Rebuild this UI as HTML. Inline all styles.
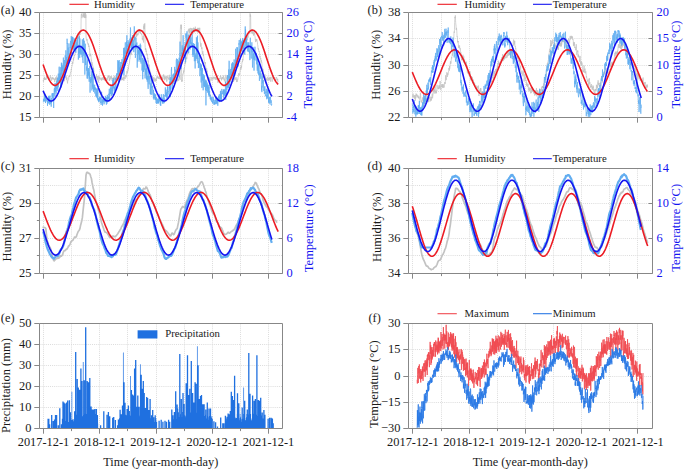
<!DOCTYPE html>
<html><head><meta charset="utf-8"><style>
html,body{margin:0;padding:0;background:#fff;}
body{width:685px;height:470px;overflow:hidden;}
svg{display:block;}
text{font-family:"Liberation Serif", serif;}
</style></head><body>
<svg width="685" height="470" viewBox="0 0 685 470">
<rect width="685" height="470" fill="#fff"/>
<path d="M43.5,12.5V117.5M71.5,12.5V117.5M99.5,12.5V117.5M127.5,12.5V117.5M156.5,12.5V117.5M184.5,12.5V117.5M212.5,12.5V117.5M240.5,12.5V117.5M268.5,12.5V117.5M39.5,33.5H282.5M39.5,54.5H282.5M39.5,75.5H282.5M39.5,96.5H282.5" stroke="#d8d8d8" stroke-width="0.9" stroke-dasharray="1 1.1" fill="none"/>
<polyline points="43.2,80.1 43.35,81.2 43.51,81.69 43.66,79.76 43.82,78.87 43.97,78.05 44.12,78.96 44.28,78.7 44.43,79.58 44.59,76.78 44.74,79.47 44.9,78.96 45.05,79.65 45.2,79.01 45.36,78.32 45.51,78.99 45.67,79.85 45.82,79.05 45.97,78.63 46.13,79.46 46.28,77.96 46.44,76.24 46.59,77.65 46.74,77.13 46.9,75.22 47.05,75.49 47.21,76.1 47.36,75.53 47.52,74.81 47.67,76.33 47.82,78.35 47.98,78.11 48.13,77.31 48.29,78.28 48.44,79.29 48.59,78.59 48.75,79.25 48.9,80.28 49.06,79.31 49.21,77.94 49.36,78.61 49.52,78.88 49.67,80.14 49.83,77.84 49.98,77.26 50.13,76.68 50.29,75.19 50.44,76.68 50.6,78.08 50.75,77.3 50.91,79.56 51.06,80.19 51.21,80.31 51.37,80.1 51.52,80.68 51.68,78.11 51.83,79.05 51.98,79.6 52.14,76.9 52.29,77.98 52.45,77.87 52.6,79.12 52.75,78.31 52.91,78.36 53.06,78.86 53.22,77.59 53.37,78.72 53.53,78.5 53.68,79.13 53.83,78.21 53.99,79.72 54.14,80 54.3,79.17 54.45,79.71 54.6,80.84 54.76,82.2 54.91,78.7 55.07,79.75 55.22,79.85 55.37,79.19 55.53,77.62 55.68,79.58 55.84,77.54 55.99,78.65 56.15,80.25 56.3,77.51 56.45,77.52 56.61,76.23 56.76,77.45 56.92,79.81 57.07,81.88 57.22,78.25 57.38,77.61 57.53,78.87 57.69,80.74 57.84,80.38 57.99,78.68 58.15,78.99 58.3,78.77 58.46,78.4 58.61,77.5 58.77,78.4 58.92,78.83 59.07,78.58 59.23,78.26 59.38,76.71 59.54,76.81 59.69,79.03 59.84,78.57 60,76.7 60.15,79.13 60.31,79.56 60.46,81.83 60.61,80.58 60.77,79.16 60.92,77.04 61.08,79.32 61.23,82.28 61.38,79.72 61.54,78.4 61.69,79.2 61.85,77.86 62,77.77 62.16,77.61 62.31,78.21 62.46,79.73 62.62,79.27 62.77,80.14 62.93,78.94 63.08,79.19 63.23,76.17 63.39,75.25 63.54,77.57 63.7,77.19 63.85,78.45 64,79.17 64.16,80.59 64.31,80.79 64.47,81.18 64.62,79.96 64.78,78.48 64.93,77.55 65.08,77.31 65.24,76.34 65.39,76.5 65.55,77.18 65.7,78.03 65.85,77.79 66.01,75.61 66.16,76.67 66.32,77.69 66.47,79.4 66.62,79.78 66.78,78.45 66.93,77.54 67.09,80.5 67.24,80.67 67.4,82.14 67.55,83.41 67.7,80.4 67.86,80.13 68.01,80.07 68.17,80.16 68.32,80.19 68.47,79.74 68.63,79.3 68.78,76.76 68.94,76.8 69.09,75.94 69.24,76.37 69.4,75.7 69.55,76.5 69.71,77.04 69.86,76.51 70.02,75.99 70.17,75.18 70.32,73.77 70.48,73.05 70.63,71.96 70.79,72.19 70.94,71.59 71.09,71.71 71.25,69.07 71.4,70.05 71.56,68.26 71.71,66.94 71.86,66.56 72.02,65.58 72.17,65.8 72.33,64.54 72.48,62.85 72.63,61.83 72.79,63.69 72.94,62.88 73.1,60.55 73.25,60.36 73.41,57.94 73.56,60.47 73.71,57.44 73.87,57.89 74.02,57.94 74.18,55.12 74.33,55.37 74.48,56.12 74.64,55.59 74.79,54.71 74.95,54.77 75.1,53.51 75.25,52.69 75.41,51.31 75.56,51.18 75.72,48.8 75.87,49.32 76.03,47.69 76.18,45.7 76.33,46.1 76.49,47.77 76.64,47.59 76.8,45.33 76.95,45.28 77.1,43.53 77.26,42.66 77.41,42.18 77.57,38.59 77.72,39.42 77.87,38.13 78.03,37.58 78.18,36.05 78.34,34.87 78.49,34.71 78.65,36.69 78.8,38.78 78.95,37.69 79.11,38.3 79.26,36.78 79.42,33.6 79.57,34.19 79.72,34.78 79.88,33.89 80.03,34.17 80.19,34.57 80.34,32.87 80.49,30.96 80.65,31.34 80.8,31.49 80.96,31.33 81.11,18.24 81.27,14.58 81.42,15.39 81.57,13.63 81.73,15.15 81.88,18.17 82.04,16.58 82.19,15.87 82.34,15.82 82.5,16.41 82.65,16.26 82.81,15.32 82.96,15.67 83.11,13.21 83.27,15.26 83.42,16.65 83.58,13.94 83.73,14.26 83.88,17.43 84.04,13.42 84.19,13.77 84.35,17.51 84.5,13.33 84.66,14.4 84.81,18.06 84.96,15.08 85.12,17.5 85.27,17.19 85.43,12.72 85.58,13.92 85.73,18.07 85.89,14.53 86.04,37.55 86.2,37.44 86.35,39.35 86.5,39.39 86.66,39.8 86.81,40.59 86.97,39.23 87.12,39.1 87.28,42.11 87.43,42.63 87.58,42.4 87.74,43.3 87.89,43.05 88.05,44.13 88.2,43.83 88.35,45.12 88.51,43.79 88.66,46.99 88.82,46.83 88.97,45.65 89.12,46.96 89.28,47.84 89.43,49.33 89.59,48.85 89.74,50.84 89.9,56.45 90.05,53.84 90.2,54.64 90.36,54.59 90.51,55.5 90.67,53.79 90.82,53.9 90.97,56.34 91.13,57.46 91.28,60.57 91.44,59.75 91.59,60.68 91.74,65.04 91.9,63.24 92.05,62.28 92.21,63.1 92.36,63.87 92.52,65.76 92.67,66.26 92.82,65.71 92.98,66.89 93.13,70.98 93.29,71.95 93.44,67.6 93.59,68.64 93.75,68.57 93.9,70.69 94.06,71.19 94.21,74.41 94.36,75.29 94.52,75.99 94.67,75.72 94.83,75.46 94.98,75.99 95.13,77.72 95.29,77.95 95.44,77.12 95.6,78.86 95.75,78.65 95.91,78.3 96.06,77.28 96.21,77.04 96.37,76.87 96.52,74.02 96.68,77.14 96.83,78.41 96.98,78.17 97.14,79.64 97.29,79.75 97.45,79.72 97.6,76.07 97.75,76.74 97.91,78.13 98.06,80.34 98.22,81.96 98.37,82.4 98.53,79.35 98.68,76.2 98.83,77.85 98.99,78.14 99.14,79.52 99.3,78.95 99.45,79.05 99.6,76.91 99.76,78.12 99.91,77.7 100.07,78.47 100.22,79.07 100.37,78.69 100.53,79.02 100.68,78.79 100.84,79.65 100.99,79.83 101.15,78.6 101.3,77.81 101.45,80.32 101.61,79.46 101.76,80.35 101.92,80.11 102.07,78.74 102.22,77.69 102.38,78.17 102.53,78.63 102.69,79.36 102.84,77.4 102.99,77.08 103.15,77.52 103.3,79.96 103.46,76.36 103.61,77.78 103.77,77.37 103.92,78.38 104.07,77.8 104.23,78.54 104.38,80.53 104.54,80.17 104.69,80.06 104.84,79.91 105,78.39 105.15,79.13 105.31,78.61 105.46,77.53 105.61,77.87 105.77,77.83 105.92,79.06 106.08,78.78 106.23,77.99 106.38,80.06 106.54,80.7 106.69,81.45 106.85,81.05 107,79.89 107.16,78.8 107.31,78.32 107.46,79.6 107.62,79.31 107.77,77.09 107.93,77.6 108.08,76.15 108.23,77.3 108.39,76.24 108.54,75.53 108.7,76.87 108.85,77.42 109,75.73 109.16,77.79 109.31,80.84 109.47,78.01 109.62,80.54 109.78,78.84 109.93,78.07 110.08,78.01 110.24,76.36 110.39,78.88 110.55,79.36 110.7,78.05 110.85,77.88 111.01,76.19 111.16,76.67 111.32,78.6 111.47,76.36 111.62,76.66 111.78,77.58 111.93,79.29 112.09,80.7 112.24,79.24 112.4,77.99 112.55,78.77 112.7,78.2 112.86,77.92 113.01,79.54 113.17,81.28 113.32,80.51 113.47,79.46 113.63,79.81 113.78,76.87 113.94,77.5 114.09,76.54 114.24,80.38 114.4,80.55 114.55,79.91 114.71,79.1 114.86,75.64 115.02,77.7 115.17,80.1 115.32,78.53 115.48,79.39 115.63,79.96 115.79,77.39 115.94,79.03 116.09,80.55 116.25,80.03 116.4,79.33 116.56,80.01 116.71,77.43 116.86,77.98 117.02,79.54 117.17,77.53 117.33,79.19 117.48,78.38 117.63,75.76 117.79,76.72 117.94,76.19 118.1,77.52 118.25,76.41 118.41,78.59 118.56,77.61 118.71,78.42 118.87,77.69 119.02,77.6 119.18,79.49 119.33,79.37 119.48,78.51 119.64,76.91 119.79,79.03 119.95,79.76 120.1,78.84 120.25,79.01 120.41,77.49 120.56,76.59 120.72,76.3 120.87,77.63 121.03,78.36 121.18,77.46 121.33,78.82 121.49,79.7 121.64,79.44 121.8,80.39 121.95,79.27 122.1,78.82 122.26,79.29 122.41,78.93 122.57,79.78 122.72,77.66 122.87,79.82 123.03,78.29 123.18,78.17 123.34,76.54 123.49,78.09 123.65,79.88 123.8,80.7 123.95,80.89 124.11,77.94 124.26,77.16 124.42,77.11 124.57,76.47 124.72,78.72 124.88,78.83 125.03,78.49 125.19,78.82 125.34,77.03 125.49,75.86 125.65,75.03 125.8,76.12 125.96,76.4 126.11,76.67 126.27,77.27 126.42,74.3 126.57,73.32 126.73,73.41 126.88,71.31 127.04,70.86 127.19,72.32 127.34,73.06 127.5,73.21 127.65,71.72 127.81,70.23 127.96,70.71 128.11,68.87 128.27,68.4 128.42,69.09 128.58,67.06 128.73,65.23 128.88,64.62 129.04,64.74 129.19,64.36 129.35,63.42 129.5,63.07 129.66,59.8 129.81,58.49 129.96,58.71 130.12,57.14 130.27,55.37 130.43,54.18 130.58,53.54 130.73,53.8 130.89,52.58 131.04,53.16 131.2,55.08 131.35,53.58 131.5,54.21 131.66,53.04 131.81,50.25 131.97,49.39 132.12,47.67 132.28,48.6 132.43,46.42 132.58,48.02 132.74,47.75 132.89,44.01 133.05,45.09 133.2,46.47 133.35,44.05 133.51,44.63 133.66,41.17 133.82,41.49 133.97,39 134.12,40.03 134.28,37.53 134.43,34.73 134.59,36.73 134.74,40.15 134.9,38.31 135.05,38.85 135.2,38.08 135.36,36.89 135.51,37.21 135.67,38.55 135.82,35.53 135.97,35.87 136.13,35.66 136.28,33.14 136.44,35.4 136.59,37.07 136.74,34.25 136.9,35.9 137.05,34.65 137.21,33.54 137.36,34.93 137.52,34.07 137.67,33.61 137.82,34.82 137.98,35.21 138.13,34.9 138.29,31.76 138.44,29.64 138.59,31.81 138.75,30.48 138.9,31.07 139.06,29.88 139.21,30.33 139.36,29.23 139.52,32.34 139.67,30.86 139.83,31.18 139.98,31.35 140.13,33.31 140.29,31.21 140.44,31.82 140.6,32.05 140.75,33.24 140.91,34 141.06,33.38 141.21,34.03 141.37,33.78 141.52,34.85 141.68,34.91 141.83,34.4 141.98,35.06 142.14,36.13 142.29,39.39 142.45,38 142.6,38.38 142.75,40.28 142.91,37.1 143.06,35.83 143.22,35.99 143.37,37.69 143.53,42.21 143.68,42.53 143.83,25.72 143.99,28.91 144.14,23.96 144.3,29.13 144.45,27.18 144.6,27.07 144.76,23.31 144.91,27.08 145.07,44.71 145.22,47.58 145.37,49.98 145.53,48.87 145.68,48.05 145.84,50.35 145.99,49.54 146.15,51.85 146.3,50.9 146.45,53.19 146.61,53.94 146.76,54.02 146.92,53.78 147.07,55.38 147.22,53.92 147.38,55.41 147.53,56.45 147.69,58.76 147.84,57.96 147.99,61.58 148.15,61.46 148.3,60.62 148.46,63.65 148.61,66.1 148.77,65.5 148.92,64.52 149.07,65.38 149.23,65.27 149.38,65.97 149.54,69.05 149.69,69.67 149.84,69.99 150,70.7 150.15,70.86 150.31,72.35 150.46,73.54 150.61,72.88 150.77,73.32 150.92,76.76 151.08,76.49 151.23,75.75 151.38,78.36 151.54,77.5 151.69,75.74 151.85,77.11 152,76.07 152.16,76.09 152.31,77.28 152.46,77.52 152.62,76.94 152.77,76.91 152.93,76.87 153.08,79.03 153.23,77.9 153.39,77.41 153.54,80.45 153.7,78.96 153.85,80.68 154,81.49 154.16,80.1 154.31,77.64 154.47,78.57 154.62,79.4 154.78,80.28 154.93,79.66 155.08,80.74 155.24,81.62 155.39,79.02 155.55,80.64 155.7,80.01 155.85,78.68 156.01,78.2 156.16,80.72 156.32,81.09 156.47,77.77 156.62,78.17 156.78,78.12 156.93,78.05 157.09,77.57 157.24,76.08 157.4,78.15 157.55,77.09 157.7,77.18 157.86,76.94 158.01,76.63 158.17,78.33 158.32,78.89 158.47,77.87 158.63,76.91 158.78,76.95 158.94,78.81 159.09,78.84 159.24,79.01 159.4,78.38 159.55,78.1 159.71,78.54 159.86,76.16 160.02,79.16 160.17,77.89 160.32,77.41 160.48,79.56 160.63,79.42 160.79,79.11 160.94,78.12 161.09,76.27 161.25,77.4 161.4,79.37 161.56,77.87 161.71,79.87 161.86,77.88 162.02,77.19 162.17,78.36 162.33,78.42 162.48,79.33 162.63,78.05 162.79,76.91 162.94,75.16 163.1,74.95 163.25,74.99 163.41,74.57 163.56,76.54 163.71,76.47 163.87,74.74 164.02,79.42 164.18,77.98 164.33,76.58 164.48,78.94 164.64,80.25 164.79,78.08 164.95,76.36 165.1,75.94 165.25,78.41 165.41,78.05 165.56,77.19 165.72,77.68 165.87,79.55 166.03,77.35 166.18,77.32 166.33,76.02 166.49,79.79 166.64,81.6 166.8,81.58 166.95,80.18 167.1,80.35 167.26,76.92 167.41,77.91 167.57,76.43 167.72,75.56 167.87,75.84 168.03,76.45 168.18,78.01 168.34,79.1 168.49,79.2 168.65,77.71 168.8,78.89 168.95,78.58 169.11,80.06 169.26,78.26 169.42,74.82 169.57,75.68 169.72,79.56 169.88,79.74 170.03,78.99 170.19,79.93 170.34,80 170.49,79.99 170.65,78.74 170.8,78.74 170.96,78.9 171.11,77.92 171.27,76.72 171.42,77.61 171.57,79.21 171.73,79.75 171.88,79.88 172.04,79.98 172.19,82.69 172.34,81.35 172.5,81.54 172.65,82.83 172.81,81.17 172.96,80.44 173.11,81 173.27,82.16 173.42,81.1 173.58,80.52 173.73,79.83 173.88,77.75 174.04,79.48 174.19,78.77 174.35,76.46 174.5,77.09 174.66,75.44 174.81,75.38 174.96,76.66 175.12,76.22 175.27,78.51 175.43,76.63 175.58,77.72 175.73,78.76 175.89,80.53 176.04,80.91 176.2,80.25 176.35,79.67 176.5,79.14 176.66,80.35 176.81,78.78 176.97,79.35 177.12,78.9 177.28,79.06 177.43,78.51 177.58,81.25 177.74,79.32 177.89,79.33 178.05,79.37 178.2,79.81 178.35,79.88 178.51,79.89 178.66,80.6 178.82,77.85 178.97,78.14 179.12,76.72 179.28,77.74 179.43,76.55 179.59,76.12 179.74,77.01 179.9,79.41 180.05,79.8 180.2,79.68 180.36,29.33 180.51,26.76 180.67,24.84 180.82,25.19 180.97,24.87 181.13,26.89 181.28,29.3 181.44,24.75 181.59,81.39 181.74,81.81 181.9,80.98 182.05,79.71 182.21,81.41 182.36,79.25 182.52,77.05 182.67,76.3 182.82,73.72 182.98,74.3 183.13,73.68 183.29,73.64 183.44,73.41 183.59,71.21 183.75,72.68 183.9,70.32 184.06,71.07 184.21,68.08 184.36,68.53 184.52,67 184.67,66.91 184.83,65.68 184.98,62.7 185.13,61.98 185.29,62.78 185.44,63.68 185.6,61.24 185.75,58.64 185.91,58.39 186.06,58.78 186.21,58.18 186.37,57.29 186.52,58.58 186.68,59.2 186.83,58.99 186.98,56.41 187.14,55.86 187.29,54.89 187.45,52.43 187.6,53.61 187.75,53.02 187.91,51.63 188.06,29.93 188.22,29.9 188.37,29.89 188.53,30.66 188.68,30.71 188.83,28.72 188.99,32.27 189.14,30.6 189.3,29.61 189.45,33.28 189.6,31.74 189.76,28.48 189.91,33.31 190.07,30.97 190.22,29.54 190.37,28.92 190.53,27.91 190.68,28.96 190.84,29.23 190.99,29.56 191.15,33.43 191.3,31.05 191.45,28.65 191.61,29.72 191.76,30.09 191.92,28 192.07,30.31 192.22,30.55 192.38,31.4 192.53,30.1 192.69,31.63 192.84,31.58 192.99,28.55 193.15,30.9 193.3,30.19 193.46,28.48 193.61,27.64 193.77,31.8 193.92,28.04 194.07,32.53 194.23,29.7 194.38,27.99 194.54,28.5 194.69,30.66 194.84,29.93 195,32.04 195.15,29.24 195.31,26.7 195.46,27.84 195.61,28.93 195.77,28.53 195.92,30.73 196.08,30.99 196.23,29.9 196.38,29.71 196.54,30.98 196.69,31.73 196.85,30.32 197,30.87 197.16,32.1 197.31,31.29 197.46,27.93 197.62,27.86 197.77,29.14 197.93,32.41 198.08,28.83 198.23,29.41 198.39,32.44 198.54,28.27 198.7,29.18 198.85,29.04 199,27.78 199.16,31.96 199.31,29.42 199.47,29.95 199.62,29.5 199.78,27.89 199.93,32.57 200.08,40.52 200.24,41.44 200.39,43.03 200.55,43.09 200.7,46.61 200.85,44.61 201.01,43.24 201.16,44.78 201.32,47.45 201.47,47.43 201.62,49.1 201.78,48.37 201.93,47.37 202.09,50.37 202.24,52.68 202.4,54.31 202.55,53.05 202.7,51.68 202.86,51.13 203.01,52.31 203.17,54.35 203.32,55.78 203.47,54.45 203.63,56.04 203.78,57.07 203.94,58.08 204.09,58.84 204.24,59.37 204.4,61 204.55,61.68 204.71,62.51 204.86,62.13 205.02,63.58 205.17,64.08 205.32,62.11 205.48,64.54 205.63,65.32 205.79,67.59 205.94,67.82 206.09,68.32 206.25,69.27 206.4,69.82 206.56,69.84 206.71,68.37 206.86,72.39 207.02,70.65 207.17,71.42 207.33,73.37 207.48,74.4 207.63,75.47 207.79,76.56 207.94,78.02 208.1,77.84 208.25,81.23 208.41,78.4 208.56,78.42 208.71,77.81 208.87,77.3 209.02,78.15 209.18,80.22 209.33,78.7 209.48,77.73 209.64,78.96 209.79,79.48 209.95,81.59 210.1,81.67 210.25,80.7 210.41,79.4 210.56,79.31 210.72,78.76 210.87,76.91 211.03,77.56 211.18,77.71 211.33,77.73 211.49,77.49 211.64,80.06 211.8,80.32 211.95,80.79 212.1,79.1 212.26,77.55 212.41,77.57 212.57,78.25 212.72,77.91 212.87,77.91 213.03,79.37 213.18,79.41 213.34,77.78 213.49,77.52 213.65,77.07 213.8,77.87 213.95,76.63 214.11,77.15 214.26,78.58 214.42,78.58 214.57,77.38 214.72,77.04 214.88,77.78 215.03,78.69 215.19,79.68 215.34,79.02 215.49,77.13 215.65,79.5 215.8,79.48 215.96,79.61 216.11,79.56 216.27,77.81 216.42,77.67 216.57,78.33 216.73,79.72 216.88,79.31 217.04,74.99 217.19,76.09 217.34,77.5 217.5,79.56 217.65,80.05 217.81,82.61 217.96,82.79 218.11,82.8 218.27,82.29 218.42,79 218.58,79.89 218.73,80.1 218.88,78.79 219.04,79.42 219.19,79.59 219.35,78.56 219.5,78.38 219.66,78.09 219.81,78.55 219.96,77.99 220.12,78.89 220.27,76.28 220.43,76.81 220.58,75.33 220.73,75.98 220.89,77.65 221.04,78.02 221.2,78.07 221.35,78.33 221.5,80.41 221.66,78.23 221.81,79.47 221.97,77.15 222.12,77.09 222.28,77.86 222.43,77.03 222.58,77.88 222.74,79.06 222.89,77.31 223.05,77.69 223.2,77.53 223.35,75.43 223.51,76.42 223.66,76.23 223.82,78.85 223.97,77.59 224.12,80.13 224.28,78.8 224.43,81.16 224.59,80.79 224.74,80.45 224.9,80.7 225.05,80.98 225.2,81.78 225.36,82.69 225.51,80.57 225.67,78.14 225.82,74.86 225.97,75.82 226.13,77.87 226.28,78.6 226.44,78.71 226.59,78.18 226.74,77.49 226.9,77.53 227.05,78.42 227.21,76.19 227.36,78.05 227.52,76.36 227.67,77.01 227.82,76.8 227.98,77 228.13,76.26 228.29,75.68 228.44,76.51 228.59,75.91 228.75,80.09 228.9,78.92 229.06,77.9 229.21,77.43 229.36,76.48 229.52,74.13 229.67,75.54 229.83,77.12 229.98,75.74 230.13,76.84 230.29,75.95 230.44,76.91 230.6,78 230.75,78.81 230.91,79.23 231.06,78.03 231.21,79.33 231.37,78.42 231.52,78.89 231.68,79.62 231.83,78.77 231.98,77.01 232.14,78.38 232.29,76.99 232.45,76.44 232.6,75.84 232.75,77.97 232.91,77.96 233.06,75.29 233.22,77.5 233.37,80.54 233.53,82.02 233.68,79.87 233.83,79.41 233.99,79.69 234.14,80.34 234.3,79.64 234.45,77.77 234.6,79.01 234.76,79.58 234.91,77.43 235.07,77.38 235.22,78.16 235.37,78.28 235.53,79.02 235.68,79.82 235.84,79.97 235.99,79.22 236.15,77.19 236.3,78.49 236.45,80.27 236.61,82.08 236.76,80.59 236.92,79.69 237.07,81.05 237.22,81.86 237.38,80.93 237.53,80.86 237.69,78.88 237.84,79.28 237.99,77.58 238.15,77.3 238.3,77 238.46,76.22 238.61,73.47 238.77,73.28 238.92,74.46 239.07,74.45 239.23,73.81 239.38,74.26 239.54,74.64 239.69,74.83 239.84,72.59 240,72.06 240.15,71.03 240.31,69.46 240.46,67.46 240.61,67.78 240.77,66.71 240.92,69.67 241.08,68.28 241.23,67 241.38,65.73 241.54,67.58 241.69,64.8 241.85,63.83 242,62.18 242.16,61.72 242.31,61.25 242.46,62.13 242.62,59.13 242.77,58.82 242.93,60.43 243.08,58.37 243.23,57.26 243.39,55.39 243.54,51.75 243.7,52.49 243.85,54.27 244,52.94 244.16,50.09 244.31,50.79 244.47,50.68 244.62,51.51 244.78,51.61 244.93,49.87 245.08,49.41 245.24,46.05 245.39,47.49 245.55,46.9 245.7,47.44 245.85,47.47 246.01,45.51 246.16,44.26 246.32,42.34 246.47,39.42 246.62,39.91 246.78,40.35 246.93,38.8 247.09,39.95 247.24,39.65 247.4,39.72 247.55,38 247.7,35.5 247.86,37.07 248.01,37.61 248.17,36.85 248.32,35.83 248.47,35.24 248.63,34.92 248.78,34.1 248.94,31.56 249.09,33.48 249.24,31.59 249.4,31.83 249.55,31.91 249.71,32.58 249.86,30.5 250.02,13.41 250.17,14.31 250.32,16.92 250.48,14.69 250.63,15.64 250.79,28.11 250.94,29.91 251.09,32.22 251.25,33.4 251.4,31.93 251.56,31.61 251.71,31.92 251.86,29.44 252.02,29.44 252.17,29.51 252.33,32.44 252.48,31.38 252.63,33.66 252.79,33.09 252.94,30.67 253.1,34.28 253.25,32.46 253.41,33.5 253.56,35.62 253.71,34.15 253.87,32.49 254.02,34.53 254.18,34.65 254.33,33.21 254.48,32.68 254.64,33.41 254.79,35.74 254.95,35.72 255.1,37.09 255.25,39.37 255.41,40.44 255.56,41.5 255.72,42.08 255.87,39 256.03,41 256.18,41.27 256.33,41.09 256.49,39.98 256.64,38.91 256.8,39.12 256.95,40.9 257.1,40.74 257.26,41.36 257.41,42.25 257.57,44.69 257.72,45.2 257.87,45.97 258.03,48.59 258.18,48.34 258.34,49.65 258.49,48.6 258.65,50.03 258.8,50.92 258.95,51.81 259.11,51.82 259.26,51.41 259.42,52.39 259.57,53.06 259.72,55.69 259.88,57.4 260.03,56.03 260.19,57.85 260.34,57.83 260.49,59.31 260.65,59.3 260.8,58.32 260.96,61.22 261.11,62.53 261.27,61.46 261.42,60.26 261.57,61.57 261.73,61.81 261.88,63.28 262.04,65.7 262.19,68.52 262.34,68.14 262.5,70.4 262.65,71.75 262.81,70.77 262.96,68.85 263.11,71.18 263.27,72.5 263.42,75.76 263.58,76.76 263.73,76.75 263.88,78.11 264.04,75.63 264.19,75.93 264.35,75.69 264.5,78.3 264.66,78.52 264.81,74.17 264.96,77.36 265.12,76.48 265.27,78.21 265.43,77.73 265.58,78.42 265.73,79.36 265.89,79.3 266.04,77.77 266.2,79.87 266.35,79.85 266.5,79.3 266.66,79.91 266.81,78.68 266.97,81.04 267.12,80.33 267.28,80.09 267.43,79.92 267.58,78.21 267.74,76.84 267.89,77.81 268.05,78.56 268.2,80.28 268.35,80.17 268.51,78.13 268.66,78.98 268.82,79.87 268.97,80.63 269.12,80.23 269.28,78 269.43,79.71 269.59,78.31 269.74,79.15 269.9,76.9 270.05,78.54 270.2,77.55 270.36,79.34 270.51,81.28 270.67,81.69 270.82,78.94 270.97,77.58 271.13,76.86 271.28,78.39 271.44,78.9 271.59,78.96 271.74,79.2 271.9,79.68 272.05,80.06 272.21,81.62 272.36,80.32 272.52,79.87 272.67,76.97 272.82,75.9 272.98,76.07 273.13,75.54 273.29,77.02 273.44,78.96 273.59,78.23 273.75,77.73 273.9,77.4 274.06,78.02 274.21,77.52 274.36,78.47 274.52,78.87 274.67,79.17 274.83,79.89 274.98,79.38 275.13,79.22 275.29,81.19 275.44,80.06 275.6,80.46 275.75,79.75 275.91,78.66 276.06,78.01 276.21,77.16 276.37,77.71 276.52,77.25 276.68,77.21 276.83,79.28 276.98,78.8 277.14,80.14 277.29,79.82 277.45,80.39 277.6,78.85 277.75,78.9 277.91,82.11 278.06,81.72" fill="none" stroke="#c2c2c2" stroke-width="0.7" stroke-linejoin="round" />
<polyline points="43.2,102.09 43.35,102.26 43.51,98.8 43.66,100.98 43.82,100.28 43.97,100.57 44.12,100.38 44.28,97.31 44.43,94.77 44.59,101.41 44.74,100.22 44.9,101.17 45.05,99.4 45.2,94.55 45.36,95.32 45.51,103.05 45.67,99.37 45.82,99.45 45.97,96.56 46.13,98.31 46.28,99.29 46.44,100.02 46.59,100.65 46.74,99.37 46.9,99.15 47.05,100.58 47.21,101.91 47.36,101.06 47.52,105.83 47.67,103.13 47.82,102.18 47.98,99.65 48.13,103.41 48.29,98.93 48.44,95.88 48.59,96.65 48.75,101.22 48.9,97.62 49.06,103.3 49.21,101.23 49.36,96.25 49.52,98.32 49.67,104.73 49.83,98.82 49.98,95.56 50.13,99.9 50.29,103.54 50.44,103.68 50.6,99.43 50.75,99.62 50.91,99.99 51.06,102.73 51.21,106.66 51.37,100.28 51.52,102.93 51.68,98 51.83,99.55 51.98,94.52 52.14,93.37 52.29,97.06 52.45,93.2 52.6,98.43 52.75,94.43 52.91,95.39 53.06,94.85 53.22,93.49 53.37,94.69 53.53,98.68 53.68,108.03 53.83,92.98 53.99,94.36 54.14,92.53 54.3,88.54 54.45,92.28 54.6,88.01 54.76,90.01 54.91,96.34 55.07,83.08 55.22,89.23 55.37,91.78 55.53,85.62 55.68,90.56 55.84,90.97 55.99,87.39 56.15,93.75 56.3,82.81 56.45,89.03 56.61,86.17 56.76,80.74 56.92,83.34 57.07,82.91 57.22,88.65 57.38,77.76 57.53,81.1 57.69,80.38 57.84,90.91 57.99,79.04 58.15,87.15 58.3,73.63 58.46,80.95 58.61,80.14 58.77,82.48 58.92,76.71 59.07,67.48 59.23,66.66 59.38,82.54 59.54,80.65 59.69,73.49 59.84,81.28 60,73.68 60.15,71.09 60.31,67.18 60.46,79.74 60.61,87.82 60.77,72.65 60.92,75.16 61.08,79.65 61.23,87.4 61.38,62.69 61.54,69.97 61.69,74.8 61.85,63.35 62,70.75 62.16,71.39 62.31,74.37 62.46,67.21 62.62,70.65 62.77,65.3 62.93,70.54 63.08,69.14 63.23,65.23 63.39,57.6 63.54,73.11 63.7,74.25 63.85,72.93 64,63.08 64.16,61.67 64.31,72.89 64.47,70.48 64.62,60.01 64.78,61.87 64.93,62.7 65.08,60.63 65.24,55.32 65.39,66.43 65.55,65.54 65.7,60.33 65.85,50.34 66.01,52.91 66.16,56.82 66.32,62.87 66.47,57.08 66.62,63.81 66.78,59.82 66.93,53.11 67.09,38.71 67.24,43.69 67.4,43.04 67.55,50.49 67.7,55.32 67.86,62.76 68.01,56.44 68.17,47.5 68.32,65.33 68.47,58.35 68.63,52.6 68.78,50.63 68.94,43.35 69.09,52.68 69.24,53.68 69.4,60.94 69.55,60 69.71,58.11 69.86,59.62 70.02,50.73 70.17,46.9 70.32,47.87 70.48,40.87 70.63,45.09 70.79,45.06 70.94,50.75 71.09,48.23 71.25,36.08 71.4,43.72 71.56,54.03 71.71,37.72 71.86,39.02 72.02,43.84 72.17,37.18 72.33,39.63 72.48,43.79 72.63,36.77 72.79,44.06 72.94,46.8 73.1,37.58 73.25,42.35 73.41,49.9 73.56,44.62 73.71,46.56 73.87,48.27 74.02,43.5 74.18,49.19 74.33,47.28 74.48,38.5 74.64,44.75 74.79,48.59 74.95,49.34 75.1,40.95 75.25,44.93 75.41,51.49 75.56,46.68 75.72,50.86 75.87,52.79 76.03,45.46 76.18,47.38 76.33,42.34 76.49,48.88 76.64,44.01 76.8,39.86 76.95,41.75 77.1,42.08 77.26,44.92 77.41,46.32 77.57,37.16 77.72,37.52 77.87,43.68 78.03,46.33 78.18,44.88 78.34,59.62 78.49,55.19 78.65,46.91 78.8,49.3 78.95,53.76 79.11,49.48 79.26,35.85 79.42,42.81 79.57,44.78 79.72,57.85 79.88,38.46 80.03,52.83 80.19,47.26 80.34,52.21 80.49,46.65 80.65,47.95 80.8,54.2 80.96,50.1 81.11,54.82 81.27,49.75 81.42,46.51 81.57,46.9 81.73,45.58 81.88,47.69 82.04,57.34 82.19,45.52 82.34,39.34 82.5,47.46 82.65,60.24 82.81,60.58 82.96,62.6 83.11,63.07 83.27,51.79 83.42,53.72 83.58,38.16 83.73,45.93 83.88,55.77 84.04,46.24 84.19,40.72 84.35,43.89 84.5,54.14 84.66,63.17 84.81,74.61 84.96,71.54 85.12,53.54 85.27,43.73 85.43,55.75 85.58,65.09 85.73,52.41 85.89,55.45 86.04,57.16 86.2,60.9 86.35,61.12 86.5,65.68 86.66,70.62 86.81,66.65 86.97,69.84 87.12,78.53 87.28,63.67 87.43,59.44 87.58,67.76 87.74,78.57 87.89,72.23 88.05,76.18 88.2,69.46 88.35,75.06 88.51,68 88.66,73.95 88.82,74.47 88.97,75 89.12,81.34 89.28,81.8 89.43,72.46 89.59,78.81 89.74,65.82 89.9,78.19 90.05,92.66 90.2,84.26 90.36,81.98 90.51,79.05 90.67,83.05 90.82,77.1 90.97,82.24 91.13,78.65 91.28,77.05 91.44,80.11 91.59,80.31 91.74,71.13 91.9,90.49 92.05,85.58 92.21,74.1 92.36,86.59 92.52,84.45 92.67,85.42 92.82,88.78 92.98,81.32 93.13,68.33 93.29,80.19 93.44,85.85 93.59,91.85 93.75,84.64 93.9,85.37 94.06,89.33 94.21,87.11 94.36,87.09 94.52,89.9 94.67,84.79 94.83,93.51 94.98,87.69 95.13,90.06 95.29,89.29 95.44,87.56 95.6,93.11 95.75,95.81 95.91,96.18 96.06,96.54 96.21,92.68 96.37,97.14 96.52,88.69 96.68,92.85 96.83,96.3 96.98,97.68 97.14,91.25 97.29,88.22 97.45,99.54 97.6,95.31 97.75,89.68 97.91,89.85 98.06,94.88 98.22,100.88 98.37,98.44 98.53,101.53 98.68,100 98.83,100.35 98.99,102.28 99.14,98.42 99.3,99.69 99.45,97.92 99.6,96.73 99.76,100.73 99.91,97.3 100.07,99.28 100.22,97.27 100.37,98.98 100.53,98.26 100.68,103.06 100.84,101.52 100.99,101.14 101.15,104.91 101.3,93.96 101.45,95.71 101.61,91.71 101.76,98.33 101.92,101.6 102.07,103.19 102.22,102.67 102.38,99.43 102.53,105.65 102.69,103.6 102.84,101.48 102.99,98.56 103.15,101.84 103.3,100.39 103.46,100.07 103.61,101.73 103.77,102.24 103.92,99.61 104.07,104.35 104.23,99.7 104.38,97.96 104.54,101.24 104.69,101.7 104.84,101.63 105,100.24 105.15,101.01 105.31,99.49 105.46,95.91 105.61,101.45 105.77,98.08 105.92,99.21 106.08,102.24 106.23,101.01 106.38,104.7 106.54,98.46 106.69,97.2 106.85,99.24 107,103.67 107.16,99.9 107.31,94.85 107.46,101.41 107.62,96.57 107.77,97.3 107.93,100.97 108.08,96.7 108.23,95.96 108.39,98.82 108.54,97.09 108.7,98.13 108.85,93.79 109,95.29 109.16,91.9 109.31,88.84 109.47,100.29 109.62,98.7 109.78,99.7 109.93,92.44 110.08,93.74 110.24,93.18 110.39,87.69 110.55,94.04 110.7,90.33 110.85,91.17 111.01,85.39 111.16,94.48 111.32,95.99 111.47,94.57 111.62,87.88 111.78,87.27 111.93,94.88 112.09,90.13 112.24,90.96 112.4,90.33 112.55,83.65 112.7,94.47 112.86,79.87 113.01,86.29 113.17,86.36 113.32,78.15 113.47,85.49 113.63,88.43 113.78,86.55 113.94,80.96 114.09,85.84 114.24,90.64 114.4,86.93 114.55,93.8 114.71,90.82 114.86,89.13 115.02,91.83 115.17,80.77 115.32,77.9 115.48,82.61 115.63,83.75 115.79,89.48 115.94,88.82 116.09,82.7 116.25,80.79 116.4,77.01 116.56,75.03 116.71,73.59 116.86,80.81 117.02,74.57 117.17,73.05 117.33,75.31 117.48,71.69 117.63,71.97 117.79,60.17 117.94,71.44 118.1,70.49 118.25,72.83 118.41,74.26 118.56,61.23 118.71,82.21 118.87,74.95 119.02,72.61 119.18,60.03 119.33,70.22 119.48,71.77 119.64,67.4 119.79,69.42 119.95,75.88 120.1,67.99 120.25,61.98 120.41,73.12 120.56,69.88 120.72,66.01 120.87,79.21 121.03,70.22 121.18,65.25 121.33,66.06 121.49,62.06 121.64,64.2 121.8,64.15 121.95,59.08 122.1,59.6 122.26,62.82 122.41,63.91 122.57,65.12 122.72,66.38 122.87,63.29 123.03,63.66 123.18,58.16 123.34,56.95 123.49,63.95 123.65,47.94 123.8,56.71 123.95,75.55 124.11,51.27 124.26,63.51 124.42,47.62 124.57,55.09 124.72,64.49 124.88,66.2 125.03,52.27 125.19,45.48 125.34,42.35 125.49,53.87 125.65,50.51 125.8,51.58 125.96,53.14 126.11,54.25 126.27,55.08 126.42,52.65 126.57,41.46 126.73,55.97 126.88,35.25 127.04,52.36 127.19,46.41 127.34,46.8 127.5,44.8 127.65,44.89 127.81,46.78 127.96,45.63 128.11,40.26 128.27,49.99 128.42,44.28 128.58,53.77 128.73,47.6 128.88,42.33 129.04,47.35 129.19,51.38 129.35,41.73 129.5,42.49 129.66,52.7 129.81,41.3 129.96,38.64 130.12,43.74 130.27,37 130.43,27.48 130.58,29.25 130.73,41.77 130.89,47.1 131.04,48.26 131.2,47.34 131.35,37.41 131.5,45.67 131.66,50.91 131.81,41.5 131.97,48.34 132.12,42.62 132.28,44.18 132.43,45.69 132.58,35.17 132.74,49.47 132.89,40.04 133.05,41.69 133.2,39.88 133.35,45 133.51,46.41 133.66,44.45 133.82,52.14 133.97,47.82 134.12,42.55 134.28,26.37 134.43,36.95 134.59,40.16 134.74,37.78 134.9,37.22 135.05,45.76 135.2,51.1 135.36,57.85 135.51,55.54 135.67,44.04 135.82,46.43 135.97,37.71 136.13,47.63 136.28,48.56 136.44,43.27 136.59,44.85 136.74,44.64 136.9,42.48 137.05,53.59 137.21,67.68 137.36,58.61 137.52,57.49 137.67,52.06 137.82,47.63 137.98,61.59 138.13,50.86 138.29,52.38 138.44,50.04 138.59,53.78 138.75,51.37 138.9,54.71 139.06,44.98 139.21,49.22 139.36,59.47 139.52,48.61 139.67,47.8 139.83,59.9 139.98,58.11 140.13,61.8 140.29,43.66 140.44,52.61 140.6,47.2 140.75,45.21 140.91,55.59 141.06,63.6 141.21,50.47 141.37,49.16 141.52,52.19 141.68,56.14 141.83,50.54 141.98,70.46 142.14,66.87 142.29,60.53 142.45,58.03 142.6,74.48 142.75,79.27 142.91,64.88 143.06,65.88 143.22,71.94 143.37,59.62 143.53,59.83 143.68,71.75 143.83,63.55 143.99,63.01 144.14,57.78 144.3,60.05 144.45,69.68 144.6,63.98 144.76,59.76 144.91,62.88 145.07,78.43 145.22,73.99 145.37,68.63 145.53,71.63 145.68,74.61 145.84,73.96 145.99,62.66 146.15,72.15 146.3,72.31 146.45,78.99 146.61,68.31 146.76,79.71 146.92,74.33 147.07,65.92 147.22,81.68 147.38,75.87 147.53,79.7 147.69,78.05 147.84,85.21 147.99,87.73 148.15,88.86 148.3,87.2 148.46,73.68 148.61,69.65 148.77,79.48 148.92,76.23 149.07,83.56 149.23,84.38 149.38,76.21 149.54,76.21 149.69,76.03 149.84,77.66 150,82.13 150.15,88.5 150.31,94.13 150.46,83.96 150.61,83.38 150.77,94.4 150.92,94.53 151.08,91.48 151.23,77.97 151.38,80.97 151.54,87.89 151.69,86.59 151.85,94.83 152,93.64 152.16,93.26 152.31,87.01 152.46,85.73 152.62,87.36 152.77,88.3 152.93,90.59 153.08,94.15 153.23,94.84 153.39,98.39 153.54,89.92 153.7,94.12 153.85,95.69 154,99.66 154.16,96.53 154.31,97.33 154.47,93.36 154.62,97.12 154.78,98.31 154.93,95.04 155.08,94.98 155.24,96.62 155.39,99.44 155.55,94.39 155.7,100.1 155.85,97.78 156.01,103.05 156.16,103.26 156.32,99.6 156.47,97.32 156.62,103.85 156.78,103.65 156.93,102.68 157.09,99.45 157.24,99.5 157.4,102.43 157.55,102.81 157.7,98.76 157.86,103.69 158.01,102.51 158.17,98.63 158.32,103.08 158.47,101.15 158.63,103.32 158.78,100.29 158.94,101.97 159.09,97.06 159.24,101.1 159.4,97.18 159.55,100.61 159.71,94.35 159.86,99.18 160.02,102.75 160.17,103.18 160.32,105.22 160.48,99.7 160.63,105.16 160.79,105.93 160.94,99.76 161.09,98.67 161.25,98.91 161.4,100.44 161.56,101.43 161.71,94.25 161.86,100.59 162.02,100.04 162.17,97.61 162.33,102.44 162.48,100.08 162.63,103.61 162.79,102.83 162.94,99.94 163.1,103.48 163.25,103.35 163.41,99.15 163.56,94.25 163.71,95.96 163.87,100.07 164.02,98.42 164.18,103.21 164.33,101.08 164.48,99.71 164.64,99.86 164.79,95.26 164.95,96.34 165.1,94.56 165.25,87.66 165.41,87.36 165.56,96.4 165.72,94.51 165.87,94.95 166.03,89.58 166.18,91.18 166.33,96.92 166.49,95.7 166.64,92.58 166.8,98.64 166.95,95.29 167.1,92.4 167.26,97.64 167.41,86.54 167.57,92.98 167.72,87.19 167.87,86.62 168.03,86.62 168.18,90.13 168.34,90.83 168.49,91.73 168.65,91.28 168.8,93.96 168.95,93.56 169.11,95.37 169.26,94.09 169.42,87.68 169.57,81.7 169.72,88.33 169.88,87.16 170.03,90.86 170.19,77.42 170.34,97.17 170.49,81.57 170.65,83.62 170.8,89.19 170.96,77.46 171.11,78.18 171.27,69.85 171.42,70.27 171.57,67.16 171.73,77.5 171.88,81.39 172.04,78.73 172.19,86.75 172.34,89.6 172.5,82.03 172.65,78.17 172.81,76.37 172.96,74.44 173.11,83.92 173.27,80.14 173.42,75.3 173.58,74.13 173.73,78.05 173.88,73.29 174.04,75.77 174.19,74.1 174.35,81.56 174.5,82.31 174.66,66.86 174.81,69.38 174.96,75.01 175.12,69.46 175.27,74.97 175.43,73.47 175.58,74.23 175.73,70.23 175.89,70.89 176.04,72.08 176.2,60.23 176.35,59.66 176.5,58.57 176.66,74.01 176.81,70.11 176.97,69.04 177.12,67.22 177.28,62.25 177.43,59.1 177.58,67.34 177.74,62.23 177.89,72.02 178.05,66.42 178.2,63.83 178.35,60.91 178.51,60.6 178.66,60.86 178.82,69.5 178.97,76.63 179.12,57.73 179.28,60.15 179.43,63.29 179.59,54.36 179.74,53.01 179.9,53.36 180.05,41.6 180.2,55.97 180.36,55.86 180.51,55.28 180.67,55.87 180.82,56.77 180.97,69.04 181.13,59.79 181.28,60.63 181.44,52.58 181.59,55.09 181.74,51.63 181.9,51.32 182.05,46.5 182.21,45.33 182.36,52.29 182.52,55.87 182.67,55.01 182.82,47.8 182.98,51.28 183.13,35.17 183.29,50.77 183.44,49.41 183.59,50.63 183.75,56.1 183.9,48.12 184.06,53.73 184.21,46.92 184.36,50.53 184.52,45.79 184.67,48.41 184.83,55.83 184.98,45.42 185.13,42.37 185.29,42.99 185.44,46.75 185.6,62.26 185.75,47.03 185.91,33.65 186.06,37.74 186.21,33.32 186.37,37.96 186.52,42.66 186.68,38.17 186.83,38.38 186.98,31.3 187.14,41.24 187.29,38.63 187.45,48.66 187.6,51.39 187.75,40.75 187.91,40.47 188.06,42.85 188.22,47.7 188.37,34.7 188.53,40.27 188.68,53.39 188.83,45.74 188.99,45.27 189.14,43.83 189.3,36.32 189.45,46.79 189.6,45.91 189.76,45.04 189.91,48.16 190.07,49.49 190.22,34.03 190.37,43.54 190.53,40.14 190.68,43.59 190.84,39.52 190.99,37.48 191.15,47.74 191.3,45.22 191.45,42.94 191.61,42.34 191.76,44.46 191.92,44.65 192.07,30.9 192.22,35.78 192.38,41.16 192.53,48.75 192.69,54.84 192.84,43.22 192.99,56.94 193.15,50.31 193.3,50.85 193.46,45.15 193.61,43.22 193.77,54.95 193.92,48.87 194.07,47.95 194.23,55.38 194.38,61.19 194.54,44.07 194.69,46.94 194.84,49.1 195,60.82 195.15,68.46 195.31,56.11 195.46,55.18 195.61,58.1 195.77,60.95 195.92,53.38 196.08,58.37 196.23,50.93 196.38,37.29 196.54,41.18 196.69,52.11 196.85,59.07 197,43.44 197.16,41.76 197.31,52.11 197.46,35.7 197.62,54.45 197.77,63.23 197.93,42.41 198.08,58.73 198.23,58.29 198.39,68.06 198.54,64.6 198.7,60.84 198.85,62.2 199,67.83 199.16,65.44 199.31,64.2 199.47,55.4 199.62,64.54 199.78,64.97 199.93,76.2 200.08,68.95 200.24,66.72 200.39,63.22 200.55,70.54 200.7,67.61 200.85,64.14 201.01,77.15 201.16,82.49 201.32,71.21 201.47,64.82 201.62,76.04 201.78,68.13 201.93,87.84 202.09,76.56 202.24,80.07 202.4,68.08 202.55,72.35 202.7,80.69 202.86,79.68 203.01,73.94 203.17,90.3 203.32,85.4 203.47,78.57 203.63,74.68 203.78,75.84 203.94,86.04 204.09,77.02 204.24,79.36 204.4,75.46 204.55,86.64 204.71,82.13 204.86,87 205.02,87.08 205.17,80.9 205.32,86.63 205.48,89.97 205.63,79.64 205.79,87.15 205.94,105.37 206.09,89.92 206.25,90.71 206.4,80.6 206.56,87.52 206.71,84.3 206.86,90.77 207.02,88.7 207.17,82.56 207.33,92.7 207.48,89.28 207.63,84.55 207.79,88.83 207.94,85.3 208.1,91.18 208.25,90.97 208.41,89.71 208.56,94.48 208.71,87.09 208.87,95.53 209.02,84.73 209.18,96.81 209.33,95.86 209.48,93.48 209.64,90.98 209.79,95.97 209.95,94.67 210.1,94.44 210.25,99.16 210.41,95.29 210.56,95.04 210.72,97.8 210.87,100.36 211.03,97.77 211.18,98.09 211.33,97.94 211.49,100.62 211.64,101.73 211.8,96.78 211.95,97.59 212.1,98.3 212.26,100.84 212.41,102.92 212.57,100.98 212.72,100.74 212.87,103.54 213.03,97.14 213.18,96.85 213.34,97.91 213.49,99.72 213.65,101.09 213.8,99.33 213.95,104.74 214.11,100.36 214.26,100.35 214.42,104.18 214.57,104.46 214.72,102.35 214.88,102.89 215.03,104.34 215.19,102.49 215.34,103.82 215.49,99.92 215.65,101.52 215.8,97.34 215.96,98.17 216.11,97.76 216.27,104.15 216.42,101.42 216.57,102.66 216.73,99.72 216.88,100.78 217.04,100.87 217.19,99.31 217.34,103.48 217.5,97.81 217.65,102.34 217.81,105.77 217.96,101.69 218.11,101.72 218.27,97.18 218.42,100.06 218.58,95.96 218.73,101.41 218.88,99.73 219.04,95.13 219.19,95.22 219.35,94.22 219.5,97.7 219.66,102.13 219.81,99.5 219.96,96.1 220.12,95.98 220.27,98.84 220.43,91.23 220.58,98.66 220.73,100.18 220.89,90.78 221.04,100.18 221.2,93.07 221.35,95.69 221.5,101.3 221.66,92.62 221.81,88.93 221.97,90.24 222.12,90.52 222.28,94 222.43,93.32 222.58,93 222.74,92.72 222.89,93.61 223.05,90.87 223.2,94.72 223.35,94.28 223.51,89.55 223.66,97.85 223.82,89.65 223.97,95.11 224.12,89.86 224.28,93.05 224.43,94.55 224.59,95.72 224.74,95.35 224.9,89.24 225.05,94.59 225.2,94.2 225.36,87.48 225.51,81.81 225.67,98.57 225.82,99.91 225.97,91.51 226.13,92.77 226.28,95.83 226.44,90.05 226.59,85.21 226.74,85.55 226.9,90.13 227.05,86.76 227.21,78.49 227.36,86.74 227.52,74.99 227.67,76.6 227.82,88.09 227.98,85.55 228.13,84.45 228.29,83.07 228.44,87.73 228.59,82.51 228.75,69.44 228.9,78.1 229.06,60.76 229.21,61.19 229.36,82.64 229.52,85.54 229.67,77.08 229.83,76.54 229.98,77.02 230.13,82.36 230.29,72.93 230.44,69.1 230.6,69.15 230.75,73.47 230.91,75.2 231.06,71.41 231.21,76.92 231.37,67.47 231.52,70.03 231.68,66.74 231.83,63.53 231.98,75.75 232.14,69.74 232.29,63.46 232.45,67.58 232.6,62.19 232.75,69.92 232.91,73.46 233.06,75.26 233.22,62.88 233.37,64.37 233.53,76.55 233.68,67.44 233.83,73.35 233.99,76.39 234.14,59.42 234.3,69.71 234.45,69.72 234.6,70.18 234.76,74.94 234.91,68.64 235.07,64.14 235.22,65.73 235.37,60.13 235.53,63.24 235.68,48.72 235.84,66.7 235.99,58.13 236.15,61.76 236.3,61.18 236.45,59.46 236.61,58.71 236.76,57.92 236.92,47.11 237.07,50.19 237.22,61.37 237.38,51.05 237.53,47.49 237.69,65.32 237.84,64.92 237.99,66.68 238.15,57.43 238.3,56.1 238.46,58.43 238.61,57.67 238.77,53.27 238.92,43.39 239.07,44.59 239.23,40.04 239.38,57.04 239.54,49.98 239.69,48.95 239.84,51.22 240,50.07 240.15,52.59 240.31,46.18 240.46,38.62 240.61,55.91 240.77,46.03 240.92,44.3 241.08,41.65 241.23,42.17 241.38,45.57 241.54,50.8 241.69,41.34 241.85,46.43 242,42 242.16,51.81 242.31,39.96 242.46,44.27 242.62,49.12 242.77,37.98 242.93,43.34 243.08,45.05 243.23,39.78 243.39,41.59 243.54,49.28 243.7,47.02 243.85,42.29 244,42.03 244.16,45.81 244.31,51.8 244.47,50.7 244.62,49.93 244.78,54.64 244.93,37.39 245.08,32.83 245.24,26.43 245.39,43.07 245.55,29.38 245.7,38.68 245.85,46.24 246.01,35.67 246.16,36.9 246.32,39.67 246.47,46.45 246.62,35.1 246.78,42.7 246.93,47.29 247.09,45.41 247.24,45 247.4,51.45 247.55,47.34 247.7,44.74 247.86,42.19 248.01,47.39 248.17,43.46 248.32,48.01 248.47,46.2 248.63,51.9 248.78,42.33 248.94,44.74 249.09,47.25 249.24,48.53 249.4,53.35 249.55,50.58 249.71,52.96 249.86,60.13 250.02,55.82 250.17,43.43 250.32,37.72 250.48,48.67 250.63,45.95 250.79,49.32 250.94,47.8 251.09,56.36 251.25,58.52 251.4,45.61 251.56,50.29 251.71,48.54 251.86,42.29 252.02,52.28 252.17,50.86 252.33,54.18 252.48,67.52 252.63,64.99 252.79,63.19 252.94,53.98 253.1,46.93 253.25,59.52 253.41,54.4 253.56,55.24 253.71,53.31 253.87,55.87 254.02,70.63 254.18,59.26 254.33,56.36 254.48,58.7 254.64,60.22 254.79,52.21 254.95,46.75 255.1,52.51 255.25,56.76 255.41,54.98 255.56,53.51 255.72,53.78 255.87,57.43 256.03,60.5 256.18,52.82 256.33,57.28 256.49,64.32 256.64,63.95 256.8,56.88 256.95,61.06 257.1,64.67 257.26,70.78 257.41,58.81 257.57,69.25 257.72,65.96 257.87,69.28 258.03,73.47 258.18,65.91 258.34,64.39 258.49,68.39 258.65,74.91 258.8,69.73 258.95,63.4 259.11,66.1 259.26,73.65 259.42,80.84 259.57,73.53 259.72,72.77 259.88,73.75 260.03,74.66 260.19,70.53 260.34,72.61 260.49,77.41 260.65,78.54 260.8,78.75 260.96,73.25 261.11,74.58 261.27,74.4 261.42,84.71 261.57,90.36 261.73,86.11 261.88,92.14 262.04,83.75 262.19,81.61 262.34,75.79 262.5,82.72 262.65,81.4 262.81,84.26 262.96,87.51 263.11,84.93 263.27,79.88 263.42,84.3 263.58,85.78 263.73,87.02 263.88,90.93 264.04,87.93 264.19,87.08 264.35,93.56 264.5,93.96 264.66,91.43 264.81,86.16 264.96,87.19 265.12,91.6 265.27,95.25 265.43,96.23 265.58,94.4 265.73,93.7 265.89,91.54 266.04,93.04 266.2,91.76 266.35,88.8 266.5,96.79 266.66,95.71 266.81,99.28 266.97,94.68 267.12,96.26 267.28,98.43 267.43,89.68 267.58,89.46 267.74,97.27 267.89,97.38 268.05,90.68 268.2,92.84 268.35,92.6 268.51,94.7 268.66,102.36 268.82,97.66 268.97,103 269.12,99.85 269.28,96.94 269.43,103.51 269.59,103.6 269.74,103.99 269.9,104.17 270.05,104.33 270.2,104.49 270.36,96.73 270.51,96.95 270.67,100.78 270.82,101.32 270.97,103.02 271.13,100.23 271.28,103.9 271.44,105.49 271.59,104.73 271.74,104.62 271.9,103.74" fill="none" stroke="#62adf0" stroke-width="0.75" stroke-linejoin="round" />
<polyline points="43.1,64.46 43.94,66.93 44.77,69.31 45.61,71.6 46.45,73.77 47.28,75.8 48.12,77.67 48.96,79.37 49.79,80.88 50.63,82.19 51.47,83.29 52.3,84.16 53.14,84.81 53.98,85.22 54.81,85.39 55.65,85.33 56.49,85.02 57.32,84.48 58.16,83.7 59,82.7 59.83,81.49 60.67,80.07 61.51,78.45 62.34,76.65 63.18,74.69 64.02,72.59 64.85,70.35 65.69,68 66.53,65.57 67.36,63.07 68.2,60.52 69.04,57.95 69.87,55.37 70.71,52.82 71.55,50.31 72.38,47.86 73.22,45.5 74.06,43.25 74.89,41.12 75.73,39.14 76.57,37.31 77.4,35.67 78.24,34.22 79.08,32.97 79.91,31.93 80.75,31.12 81.59,30.55 82.42,30.2 83.26,30.1 84.1,30.24 84.93,30.61 85.77,31.23 86.61,32.07 87.44,33.13 88.28,34.41 89.12,35.89 89.95,37.56 90.79,39.41 91.63,41.41 92.46,43.56 93.3,45.83 94.14,48.2 94.97,50.66 95.81,53.18 96.65,55.74 97.48,58.31 98.32,60.88 99.16,63.43 99.99,65.92 100.83,68.34 101.67,70.67 102.5,72.89 103.34,74.98 104.18,76.92 105.01,78.69 105.85,80.28 106.69,81.67 107.52,82.86 108.36,83.83 109.2,84.57 110.03,85.08 110.87,85.35 111.71,85.38 112.54,85.18 113.38,84.73 114.22,84.05 115.05,83.14 115.89,82.01 116.73,80.67 117.56,79.14 118.4,77.41 119.24,75.52 120.07,73.47 120.91,71.28 121.75,68.98 122.58,66.58 123.42,64.1 124.26,61.57 125.09,59.01 125.93,56.43 126.77,53.86 127.6,51.33 128.44,48.86 129.28,46.46 130.11,44.16 130.95,41.98 131.79,39.93 132.62,38.04 133.46,36.32 134.3,34.79 135.13,33.46 135.97,32.33 136.81,31.43 137.64,30.76 138.48,30.32 139.32,30.11 140.15,30.15 140.99,30.43 141.83,30.95 142.66,31.69 143.5,32.67 144.34,33.86 145.17,35.26 146.01,36.85 146.85,38.63 147.68,40.57 148.52,42.66 149.36,44.88 150.19,47.22 151.03,49.64 151.87,52.14 152.7,54.68 153.54,57.25 154.38,59.83 155.21,62.38 156.05,64.9 156.89,67.36 157.72,69.73 158.56,72 159.4,74.14 160.23,76.14 161.07,77.98 161.9,79.65 162.74,81.12 163.58,82.4 164.41,83.46 165.25,84.29 166.09,84.9 166.92,85.27 167.76,85.4 168.6,85.29 169.43,84.94 170.27,84.36 171.11,83.54 171.94,82.5 172.78,81.25 173.62,79.79 174.45,78.14 175.29,76.32 176.13,74.33 176.96,72.2 177.8,69.94 178.64,67.58 179.47,65.13 180.31,62.62 181.15,60.06 181.98,57.49 182.82,54.92 183.66,52.37 184.49,49.87 185.33,47.44 186.17,45.09 187,42.86 187.84,40.76 188.68,38.8 189.51,37.01 190.35,35.4 191.19,33.98 192.02,32.77 192.86,31.77 193.7,31 194.53,30.47 195.37,30.17 196.21,30.11 197.04,30.29 197.88,30.7 198.72,31.36 199.55,32.24 200.39,33.34 201.23,34.66 202.06,36.17 202.9,37.88 203.74,39.75 204.57,41.78 205.41,43.95 206.25,46.24 207.08,48.63 207.92,51.1 208.76,53.63 209.59,56.19 210.43,58.77 211.27,61.34 212.1,63.87 212.94,66.36 213.78,68.76 214.61,71.08 215.45,73.27 216.29,75.34 217.12,77.25 217.96,78.99 218.8,80.54 219.63,81.9 220.47,83.05 221.31,83.98 222.14,84.68 222.98,85.15 223.82,85.37 224.65,85.36 225.49,85.11 226.33,84.63 227.16,83.91 228,82.96 228.84,81.79 229.67,80.42 230.51,78.84 231.35,77.09 232.18,75.17 233.02,73.09 233.86,70.88 234.69,68.56 235.53,66.15 236.37,63.66 237.2,61.12 238.04,58.55 238.88,55.97 239.71,53.41 240.55,50.89 241.39,48.43 242.22,46.04 243.06,43.76 243.9,41.6 244.73,39.59 245.57,37.72 246.41,36.04 247.24,34.54 248.08,33.24 248.92,32.16 249.75,31.29 250.59,30.66 251.43,30.26 252.26,30.1 253.1,30.18 253.94,30.5 254.77,31.06 255.61,31.85 256.45,32.86 257.28,34.09 258.12,35.53 258.96,37.15 259.79,38.96 260.63,40.93 261.47,43.05 262.3,45.29 263.14,47.64 263.98,50.08 264.81,52.59 265.65,55.14 266.49,57.71 267.32,60.28 268.16,62.83 269,65.34 269.83,67.78 270.67,70.14 271.51,72.39 272.34,74.5 273.18,76.48 274.02,78.29 274.85,79.92 275.69,81.37 276.53,82.6 277.36,83.62 278.2,84.42" fill="none" stroke="#ec1c24" stroke-width="1.6" stroke-linejoin="round" />
<polyline points="43.1,90.75 43.94,92.67 44.78,94.41 45.61,95.98 46.45,97.35 47.29,98.52 48.13,99.47 48.97,100.2 49.8,100.69 50.64,100.96 51.48,100.98 52.32,100.77 53.16,100.32 54,99.64 54.83,98.74 55.67,97.61 56.51,96.28 57.35,94.76 58.19,93.05 59.02,91.17 59.86,89.14 60.7,86.97 61.54,84.69 62.38,82.31 63.21,79.86 64.05,77.36 64.89,74.82 65.73,72.27 66.57,69.73 67.4,67.23 68.24,64.79 69.08,62.42 69.92,60.14 70.76,57.99 71.6,55.97 72.43,54.11 73.27,52.41 74.11,50.9 74.95,49.58 75.79,48.48 76.62,47.59 77.46,46.93 78.3,46.5 79.14,46.31 79.98,46.36 80.81,46.64 81.65,47.15 82.49,47.9 83.33,48.87 84.17,50.05 85,51.44 85.84,53.02 86.68,54.79 87.52,56.71 88.36,58.78 89.2,60.98 90.03,63.29 90.87,65.7 91.71,68.17 92.55,70.68 93.39,73.23 94.22,75.77 95.06,78.3 95.9,80.79 96.74,83.22 97.58,85.56 98.41,87.8 99.25,89.92 100.09,91.89 100.93,93.71 101.77,95.35 102.6,96.81 103.44,98.06 104.28,99.1 105.12,99.92 105.96,100.52 106.8,100.88 107.63,101 108.47,100.89 109.31,100.54 110.15,99.95 110.99,99.14 111.82,98.11 112.66,96.86 113.5,95.41 114.34,93.78 115.18,91.97 116.01,90 116.85,87.89 117.69,85.65 118.53,83.31 119.37,80.89 120.2,78.4 121.04,75.87 121.88,73.33 122.72,70.78 123.56,68.27 124.4,65.79 125.23,63.39 126.07,61.07 126.91,58.87 127.75,56.79 128.59,54.86 129.42,53.09 130.26,51.5 131.1,50.1 131.94,48.91 132.78,47.93 133.61,47.18 134.45,46.65 135.29,46.36 136.13,46.31 136.97,46.49 137.8,46.91 138.64,47.56 139.48,48.44 140.32,49.54 141.16,50.84 142,52.35 142.83,54.03 143.67,55.89 144.51,57.91 145.35,60.06 146.19,62.32 147.02,64.69 147.86,67.13 148.7,69.63 149.54,72.17 150.38,74.72 151.21,77.26 152.05,79.76 152.89,82.22 153.73,84.6 154.57,86.88 155.4,89.05 156.24,91.09 157.08,92.98 157.92,94.69 158.76,96.23 159.6,97.57 160.43,98.7 161.27,99.61 162.11,100.3 162.95,100.76 163.79,100.98 164.62,100.96 165.46,100.71 166.3,100.22 167.14,99.5 167.98,98.56 168.81,97.4 169.65,96.04 170.49,94.48 171.33,92.74 172.17,90.83 173,88.78 173.84,86.59 174.68,84.29 175.52,81.9 176.36,79.44 177.2,76.93 178.03,74.38 178.87,71.84 179.71,69.31 180.55,66.81 181.39,64.38 182.22,62.02 183.06,59.77 183.9,57.64 184.74,55.64 185.58,53.8 186.41,52.14 187.25,50.66 188.09,49.38 188.93,48.31 189.77,47.46 190.6,46.84 191.44,46.45 192.28,46.3 193.12,46.39 193.96,46.71 194.8,47.26 195.63,48.05 196.47,49.06 197.31,50.28 198.15,51.7 198.99,53.31 199.82,55.1 200.66,57.05 201.5,59.15 202.34,61.37 203.18,63.7 204.01,66.11 204.85,68.59 205.69,71.12 206.53,73.66 207.37,76.21 208.2,78.73 209.04,81.21 209.88,83.62 210.72,85.95 211.56,88.17 212.4,90.26 213.23,92.21 214.07,94 214.91,95.61 215.75,97.04 216.59,98.25 217.42,99.26 218.26,100.04 219.1,100.59 219.94,100.91 220.78,101 221.61,100.84 222.45,100.45 223.29,99.83 224.13,98.98 224.97,97.91 225.8,96.63 226.64,95.15 227.48,93.48 228.32,91.64 229.16,89.65 230,87.51 230.83,85.26 231.67,82.9 232.51,80.47 233.35,77.97 234.19,75.44 235.02,72.89 235.86,70.35 236.7,67.84 237.54,65.38 238.38,62.99 239.21,60.69 240.05,58.5 240.89,56.45 241.73,54.55 242.57,52.81 243.4,51.25 244.24,49.89 245.08,48.73 245.92,47.79 246.76,47.07 247.6,46.59 248.43,46.34 249.27,46.32 250.11,46.55 250.95,47.01 251.79,47.7 252.62,48.61 253.46,49.74 254.3,51.09 255.14,52.62 255.98,54.34 256.81,56.23 257.65,58.26 258.49,60.44 259.33,62.72 260.17,65.1 261,67.56 261.84,70.06 262.68,72.6 263.52,75.15 264.36,77.69 265.2,80.19 266.03,82.63 266.87,85 267.71,87.26 268.55,89.41 269.39,91.42 270.22,93.28 271.06,94.97 271.9,96.47" fill="none" stroke="#1414f0" stroke-width="1.6" stroke-linejoin="round" />
<path d="M39.5,12.5H282.5V117.5H39.5ZM34.3,12.5H39.5M34.3,33.5H39.5M34.3,54.5H39.5M34.3,75.5H39.5M34.3,96.5H39.5M34.3,117.5H39.5M43.5,117.5V122.7M99.5,117.5V122.7M156.5,117.5V122.7M212.5,117.5V122.7M268.5,117.5V122.7M71.5,117.5V120.1M127.5,117.5V120.1M184.5,117.5V120.1M240.5,117.5V120.1M278.5,12.5H282.5M278.5,33.5H282.5M278.5,54.5H282.5M278.5,75.5H282.5M278.5,96.5H282.5M278.5,117.5H282.5" stroke="#878787" stroke-width="1" fill="none"/>
<text x="31.5" y="16" font-size="12.4" text-anchor="end" fill="#1a1a1a" >40</text>
<text x="31.5" y="37" font-size="12.4" text-anchor="end" fill="#1a1a1a" >35</text>
<text x="31.5" y="58" font-size="12.4" text-anchor="end" fill="#1a1a1a" >30</text>
<text x="31.5" y="79" font-size="12.4" text-anchor="end" fill="#1a1a1a" >25</text>
<text x="31.5" y="100" font-size="12.4" text-anchor="end" fill="#1a1a1a" >20</text>
<text x="31.5" y="121" font-size="12.4" text-anchor="end" fill="#1a1a1a" >15</text>
<text x="286.6" y="16" font-size="12.4" text-anchor="start" fill="#1414f0" >26</text>
<text x="286.6" y="37" font-size="12.4" text-anchor="start" fill="#1414f0" >20</text>
<text x="286.6" y="58" font-size="12.4" text-anchor="start" fill="#1414f0" >14</text>
<text x="286.6" y="79" font-size="12.4" text-anchor="start" fill="#1414f0" >8</text>
<text x="286.6" y="100" font-size="12.4" text-anchor="start" fill="#1414f0" >2</text>
<text x="286.6" y="121" font-size="12.4" text-anchor="start" fill="#1414f0" >-4</text>
<path d="M69.4,4.3H88.8" stroke="#ec1c24" stroke-width="1.1"/>
<path d="M165.0,4.3H184.1" stroke="#1414f0" stroke-width="1.1"/>
<text x="94" y="8" font-size="10.7" text-anchor="start" fill="#1a1a1a" >Humidity</text>
<text x="190.2" y="8" font-size="10.7" text-anchor="start" fill="#1a1a1a" >Temperature</text>
<path d="M412.5,12.5V117.5M441.5,12.5V117.5M469.5,12.5V117.5M497.5,12.5V117.5M525.5,12.5V117.5M553.5,12.5V117.5M581.5,12.5V117.5M609.5,12.5V117.5M637.5,12.5V117.5M408.5,38.5H652.5M408.5,65.5H652.5M408.5,91.5H652.5" stroke="#d8d8d8" stroke-width="0.9" stroke-dasharray="1 1.1" fill="none"/>
<polyline points="412.4,97.5 412.55,95.77 412.71,96.16 412.86,96.25 413.02,93.55 413.17,95.27 413.32,95.83 413.48,96.47 413.63,95.55 413.79,96.9 413.94,97.88 414.1,96.14 414.25,97.08 414.4,98.39 414.56,99.03 414.71,96.55 414.87,95.18 415.02,96.34 415.17,95.13 415.33,100.65 415.48,97.78 415.64,96.42 415.79,98.26 415.94,97.24 416.1,93.54 416.25,95.46 416.41,95 416.56,95.57 416.72,94 416.87,94.44 417.02,95.94 417.18,96.84 417.33,95.53 417.49,95.57 417.64,95.37 417.79,96.98 417.95,97.3 418.1,95.59 418.26,97.99 418.41,96.91 418.56,98.25 418.72,96.7 418.87,98.01 419.03,97.97 419.18,98.27 419.33,99.2 419.49,99.57 419.64,99.31 419.8,99.19 419.95,96.7 420.11,97.53 420.26,94.33 420.41,92.75 420.57,95.35 420.72,96.88 420.88,100.66 421.03,101.21 421.18,102.32 421.34,100.53 421.49,101 421.65,102.55 421.8,102.32 421.95,101.98 422.11,101.47 422.26,99.54 422.42,98.71 422.57,97.45 422.73,100.04 422.88,100.26 423.03,99.76 423.19,101.35 423.34,100.63 423.5,103.12 423.65,105.92 423.8,104.74 423.96,102.1 424.11,99.36 424.27,103.94 424.42,103.5 424.57,100.46 424.73,102.73 424.88,99.13 425.04,99.37 425.19,99.79 425.35,99.74 425.5,98.33 425.65,103.63 425.81,101.44 425.96,101.64 426.12,101.09 426.27,97.96 426.42,98.15 426.58,99.49 426.73,101.34 426.89,100.03 427.04,100.55 427.19,99.53 427.35,100.56 427.5,95.76 427.66,98.58 427.81,97.84 427.97,97.48 428.12,93.36 428.27,94.3 428.43,97.59 428.58,102.1 428.74,99.12 428.89,97.65 429.04,98.83 429.2,99.02 429.35,97.55 429.51,97.48 429.66,97.02 429.81,98.46 429.97,99.43 430.12,101.51 430.28,101.05 430.43,100.34 430.58,99.04 430.74,99.68 430.89,96.64 431.05,100.47 431.2,99.1 431.36,100.31 431.51,97.05 431.66,98.47 431.82,97.94 431.97,96.55 432.13,94.9 432.28,93.6 432.43,97.45 432.59,98.26 432.74,96.65 432.9,95.86 433.05,93.77 433.2,90.69 433.36,89.11 433.51,90.24 433.67,91.48 433.82,90.22 433.98,92.87 434.13,93.6 434.28,93.23 434.44,89.62 434.59,90.36 434.75,90.93 434.9,88.98 435.05,86.29 435.21,91.91 435.36,92.37 435.52,90.74 435.67,93.24 435.82,93.53 435.98,92.41 436.13,91.38 436.29,91.81 436.44,93.15 436.6,91.35 436.75,89.87 436.9,90.48 437.06,84.84 437.21,86.99 437.37,87.16 437.52,87.85 437.67,87.85 437.83,88.7 437.98,88.66 438.14,88.52 438.29,88.04 438.44,88.76 438.6,87.4 438.75,89.24 438.91,85.49 439.06,86.82 439.22,87.86 439.37,85.33 439.52,85.47 439.68,88.52 439.83,87.46 439.99,85.58 440.14,80.94 440.29,84.32 440.45,85.53 440.6,86.96 440.76,90.11 440.91,88.07 441.06,87.24 441.22,85.34 441.37,85.41 441.53,85.45 441.68,86.76 441.83,87.02 441.99,84.8 442.14,84.14 442.3,86.96 442.45,84.26 442.61,85.81 442.76,88.04 442.91,87.42 443.07,86.36 443.22,87.69 443.38,86.55 443.53,85.3 443.68,84.27 443.84,86.04 443.99,86.09 444.15,87.52 444.3,84.92 444.45,83.6 444.61,82.67 444.76,83.39 444.92,82.01 445.07,84.06 445.23,83.73 445.38,81.02 445.53,76 445.69,75.24 445.84,80.28 446,79.97 446.15,79.95 446.3,78.72 446.46,79.29 446.61,75.34 446.77,73 446.92,72.23 447.07,74.56 447.23,76.61 447.38,77 447.54,75.93 447.69,73.16 447.85,75.15 448,74.05 448.15,73.72 448.31,73.23 448.46,72.08 448.62,70.7 448.77,69.9 448.92,67.97 449.08,69.36 449.23,69.01 449.39,70.58 449.54,66.15 449.69,68.79 449.85,67.64 450,66.59 450.16,64.64 450.31,63.33 450.47,61.18 450.62,63.94 450.77,62.87 450.93,63.31 451.08,63.19 451.24,60.3 451.39,58.78 451.54,57.31 451.7,58.42 451.85,56.89 452.01,55.67 452.16,55.48 452.31,53.48 452.47,55.62 452.62,51.02 452.78,51.96 452.93,52.17 453.08,46.82 453.24,46.41 453.39,44.2 453.55,43.12 453.7,38 453.86,36.94 454.01,33.3 454.16,31.61 454.32,32.8 454.47,29.42 454.63,22.6 454.78,19.37 454.93,16.9 455.09,18.1 455.24,15.63 455.4,15.35 455.55,20.72 455.7,22.77 455.86,24.83 456.01,24.75 456.17,29.44 456.32,29.97 456.48,27.9 456.63,29.19 456.78,31.21 456.94,33.58 457.09,36.8 457.25,36.31 457.4,36.76 457.55,42.32 457.71,41.91 457.86,41.12 458.02,42.18 458.17,40.97 458.32,43.93 458.48,46.65 458.63,45.7 458.79,48.05 458.94,47.25 459.1,48.1 459.25,47 459.4,46.6 459.56,45.45 459.71,48.11 459.87,48.82 460.02,49.49 460.17,48.56 460.33,48.28 460.48,49.33 460.64,52.02 460.79,53.33 460.94,52.53 461.1,54.08 461.25,57.65 461.41,56.83 461.56,59.99 461.72,59.08 461.87,60.43 462.02,58.12 462.18,59.97 462.33,56.97 462.49,58.1 462.64,57.81 462.79,54.95 462.95,54.76 463.1,59.15 463.26,60.38 463.41,62.55 463.56,61.88 463.72,56.33 463.87,59.17 464.03,59.33 464.18,59.67 464.33,60.09 464.49,59.91 464.64,59.63 464.8,63.46 464.95,64.16 465.11,62.75 465.26,62.6 465.41,65.11 465.57,65.58 465.72,65.7 465.88,63.5 466.03,63.98 466.18,63.21 466.34,61.67 466.49,65.97 466.65,66.21 466.8,66.39 466.95,65.73 467.11,68.58 467.26,72.52 467.42,72.08 467.57,72.67 467.73,69.39 467.88,70.42 468.03,71.22 468.19,74.02 468.34,73.06 468.5,71.13 468.65,71.89 468.8,71.84 468.96,75.18 469.11,75.66 469.27,75.49 469.42,75.29 469.57,76.5 469.73,74.95 469.88,73.59 470.04,71.4 470.19,75.78 470.35,76.95 470.5,77.93 470.65,77.53 470.81,80.3 470.96,77.27 471.12,79.69 471.27,77.51 471.42,77.26 471.58,75.97 471.73,77.74 471.89,78.13 472.04,79.73 472.19,78.92 472.35,77.26 472.5,79.98 472.66,82.73 472.81,83.3 472.97,82.37 473.12,82.85 473.27,79.59 473.43,80.48 473.58,83.66 473.74,84.19 473.89,82.33 474.04,84.51 474.2,84.04 474.35,85.45 474.51,82.6 474.66,82.85 474.81,84.61 474.97,85.59 475.12,86.67 475.28,86.39 475.43,86.07 475.58,87.22 475.74,88.63 475.89,85.36 476.05,85.95 476.2,86.59 476.36,87.7 476.51,89.87 476.66,87.06 476.82,88.89 476.97,85.92 477.13,86.19 477.28,86.78 477.43,87.57 477.59,87.43 477.74,87.59 477.9,88.03 478.05,88.43 478.2,85.97 478.36,85.56 478.51,87.08 478.67,89.56 478.82,91.69 478.98,96 479.13,93.47 479.28,90.73 479.44,91.08 479.59,92.18 479.75,91.85 479.9,89.68 480.05,90.3 480.21,90.78 480.36,88.72 480.52,88.09 480.67,91.99 480.82,88.08 480.98,90.32 481.13,90.76 481.29,93.81 481.44,93.97 481.6,91.51 481.75,93.94 481.9,92.02 482.06,95.45 482.21,96.6 482.37,94.18 482.52,94.44 482.67,93.55 482.83,91.24 482.98,93.47 483.14,93.49 483.29,94.23 483.44,94.98 483.6,95.95 483.75,95.78 483.91,93.77 484.06,93.07 484.22,93.28 484.37,92.46 484.52,91.86 484.68,95.17 484.83,94.46 484.99,96.53 485.14,92.98 485.29,92.46 485.45,91.52 485.6,91.13 485.76,91.11 485.91,91.39 486.06,90.99 486.22,94.63 486.37,94.52 486.53,92.03 486.68,91.12 486.83,92.75 486.99,92.69 487.14,90.38 487.3,91.56 487.45,87.81 487.61,87.28 487.76,90.49 487.91,84.37 488.07,85.12 488.22,87.25 488.38,86.07 488.53,84.09 488.68,82.62 488.84,79.54 488.99,79 489.15,80.81 489.3,80.33 489.45,80.75 489.61,80.43 489.76,80.71 489.92,77.22 490.07,77.66 490.23,77.81 490.38,77.81 490.53,76.71 490.69,73.81 490.84,77.08 491,78.91 491.15,82.38 491.3,81.19 491.46,82.04 491.61,80.55 491.77,78.02 491.92,78.14 492.07,75.23 492.23,76.08 492.38,75.78 492.54,73.9 492.69,76.74 492.85,77.87 493,77.19 493.15,77.35 493.31,78.73 493.46,76.26 493.62,72.81 493.77,71.66 493.92,73.8 494.08,73.95 494.23,70.96 494.39,74.17 494.54,73.74 494.69,75.75 494.85,75.77 495,72.94 495.16,72.28 495.31,70.38 495.47,69.09 495.62,69.22 495.77,70.51 495.93,72.49 496.08,69.44 496.24,70.5 496.39,69.75 496.54,68.77 496.7,70.45 496.85,68.58 497.01,70.48 497.16,68.33 497.31,66.1 497.47,67.73 497.62,64.57 497.78,63.31 497.93,64.24 498.08,64.88 498.24,64.58 498.39,61.34 498.55,60.67 498.7,63.36 498.86,64.6 499.01,62.4 499.16,63.42 499.32,63.71 499.47,65.13 499.63,62.72 499.78,65.17 499.93,63.24 500.09,65.17 500.24,65.13 500.4,61.66 500.55,61.02 500.7,61.6 500.86,63.04 501.01,59.51 501.17,59.15 501.32,60.79 501.48,61.24 501.63,58.72 501.78,57.6 501.94,59.21 502.09,57.4 502.25,58.54 502.4,60.17 502.55,59.32 502.71,54.13 502.86,58.06 503.02,59.87 503.17,61.12 503.32,60.67 503.48,55.94 503.63,58.94 503.79,58.56 503.94,59.37 504.1,57.84 504.25,56.89 504.4,56.39 504.56,59.26 504.71,58.38 504.87,57.08 505.02,54.53 505.17,56.24 505.33,56.27 505.48,56.49 505.64,58 505.79,58.26 505.94,57.11 506.1,56.87 506.25,56.49 506.41,57.35 506.56,57.69 506.72,56.88 506.87,54.71 507.02,56.52 507.18,57.49 507.33,54.53 507.49,55.53 507.64,54.66 507.79,51.08 507.95,52.94 508.1,55.53 508.26,53.87 508.41,53.03 508.56,55.53 508.72,53.07 508.87,52.06 509.03,52.58 509.18,54.41 509.33,55.28 509.49,53.67 509.64,53.18 509.8,53.58 509.95,52.9 510.11,51.68 510.26,50.63 510.41,53.17 510.57,52.77 510.72,57.85 510.88,56.47 511.03,53.35 511.18,53.04 511.34,53.42 511.49,53.12 511.65,52.39 511.8,51.54 511.95,49.61 512.11,49.51 512.26,51.62 512.42,47.64 512.57,45.27 512.73,45.47 512.88,46 513.03,45.04 513.19,44.75 513.34,41.93 513.5,39.71 513.65,39.64 513.8,40.51 513.96,43.51 514.11,45.32 514.27,40.91 514.42,43.7 514.57,43.12 514.73,40.86 514.88,44.56 515.04,45.95 515.19,46.85 515.35,46.2 515.5,46.85 515.65,49.08 515.81,48.49 515.96,50.9 516.12,52.58 516.27,53.22 516.42,54.57 516.58,54.87 516.73,53.39 516.89,53.12 517.04,55.26 517.19,58.02 517.35,58.25 517.5,57.49 517.66,58.52 517.81,55.88 517.97,56.22 518.12,57.71 518.27,59.25 518.43,59.83 518.58,60.47 518.74,59.46 518.89,60.27 519.04,62.35 519.2,60.03 519.35,60.22 519.51,62 519.66,66.28 519.81,67.26 519.97,69.52 520.12,70.49 520.28,68.12 520.43,67.82 520.58,65.99 520.74,69.36 520.89,70.51 521.05,71.08 521.2,71.72 521.36,71.92 521.51,71.82 521.66,72.11 521.82,74.11 521.97,71.88 522.13,70.56 522.28,71.94 522.43,74.86 522.59,74.96 522.74,74.47 522.9,76.25 523.05,76.13 523.2,72.83 523.36,72.95 523.51,71.37 523.67,74.04 523.82,75.2 523.98,77.39 524.13,81.53 524.28,79.08 524.44,79.05 524.59,78.52 524.75,74.22 524.9,75.76 525.05,76.75 525.21,79.12 525.36,78.54 525.52,77.62 525.67,80.56 525.82,81.06 525.98,80.03 526.13,79.9 526.29,80.78 526.44,83.31 526.6,85.77 526.75,82.44 526.9,85.2 527.06,84.82 527.21,85.31 527.37,86.76 527.52,84.3 527.67,86.37 527.83,83.83 527.98,84.16 528.14,83.82 528.29,88.18 528.44,90.28 528.6,89.88 528.75,89.34 528.91,87.34 529.06,90.34 529.22,91.32 529.37,91.03 529.52,89.22 529.68,87.98 529.83,87.89 529.99,90.36 530.14,87.75 530.29,88.36 530.45,91.35 530.6,91.63 530.76,93.33 530.91,91.97 531.06,91.39 531.22,92.82 531.37,92.36 531.53,91.67 531.68,89.94 531.83,87.48 531.99,91.44 532.14,90.22 532.3,89.12 532.45,91.42 532.61,89.63 532.76,88.02 532.91,88.62 533.07,89.81 533.22,91.02 533.38,92.07 533.53,93.43 533.68,92.28 533.84,92.57 533.99,91.94 534.15,90.76 534.3,92 534.45,92.57 534.61,95.47 534.76,94.81 534.92,92.3 535.07,93.3 535.23,92.39 535.38,95.11 535.53,90.88 535.69,90.59 535.84,90.49 536,91.82 536.15,92.09 536.3,89.77 536.46,88.18 536.61,90.93 536.77,94.54 536.92,96.36 537.07,94.14 537.23,94.54 537.38,92.51 537.54,90.37 537.69,93.81 537.85,94.52 538,93.1 538.15,92.26 538.31,93.99 538.46,93.78 538.62,92.49 538.77,92.84 538.92,92.47 539.08,91.54 539.23,90.49 539.39,92.71 539.54,91.38 539.69,89.45 539.85,93.52 540,94.55 540.16,93.77 540.31,92.31 540.47,91.97 540.62,88.93 540.77,89.8 540.93,90.67 541.08,90.24 541.24,91.05 541.39,89.34 541.54,90.05 541.7,87.35 541.85,88.58 542.01,87.89 542.16,86.05 542.31,86.48 542.47,87.18 542.62,86.25 542.78,88.15 542.93,86.1 543.08,87.62 543.24,87.8 543.39,85.39 543.55,87.43 543.7,83.46 543.86,84.47 544.01,83.95 544.16,84.64 544.32,80.8 544.47,79.28 544.63,78.91 544.78,79.93 544.93,80.32 545.09,80.17 545.24,79.39 545.4,77.64 545.55,74.99 545.7,74.74 545.86,75.71 546.01,76.49 546.17,73.77 546.32,74.56 546.48,70.3 546.63,71.26 546.78,68.05 546.94,68.18 547.09,65.68 547.25,63.87 547.4,63.16 547.55,65.62 547.71,62.77 547.86,63.01 548.02,61.81 548.17,60.93 548.32,59.98 548.48,59.51 548.63,55.68 548.79,55.49 548.94,55.45 549.1,53.4 549.25,53.52 549.4,50.79 549.56,51.93 549.71,49.64 549.87,48.75 550.02,49.67 550.17,50.16 550.33,47.17 550.48,45.1 550.64,46.37 550.79,40 550.94,43.79 551.1,46.02 551.25,43.19 551.41,45.65 551.56,45.52 551.72,45.67 551.87,41.1 552.02,41.95 552.18,42.93 552.33,43.1 552.49,43.27 552.64,43.58 552.79,39.42 552.95,41.9 553.1,42.35 553.26,43.65 553.41,43.66 553.56,44.55 553.72,45.53 553.87,48.6 554.03,45.78 554.18,48.67 554.33,46.9 554.49,44.96 554.64,43.1 554.8,46.15 554.95,43.68 555.11,46.62 555.26,47.18 555.41,45.96 555.57,45.24 555.72,46.88 555.88,47.19 556.03,48.4 556.18,47.79 556.34,46.67 556.49,47.95 556.65,45.69 556.8,48.08 556.95,47.99 557.11,46 557.26,45.23 557.42,46.07 557.57,44.01 557.73,48.43 557.88,49.66 558.03,46.65 558.19,46.7 558.34,49.68 558.5,48.86 558.65,45.92 558.8,42.39 558.96,41.39 559.11,45.59 559.27,46.09 559.42,43.45 559.57,45.45 559.73,44.51 559.88,43.4 560.04,42.98 560.19,42.75 560.35,46.16 560.5,43.28 560.65,42.66 560.81,45.19 560.96,46.64 561.12,43 561.27,46.27 561.42,46.14 561.58,41.53 561.73,44.75 561.89,40.61 562.04,42.13 562.19,39.63 562.35,37.49 562.5,40.97 562.66,42.02 562.81,41.71 562.97,42.07 563.12,41.79 563.27,41.42 563.43,39.88 563.58,41.99 563.74,42.11 563.89,41.76 564.04,41.07 564.2,41.25 564.35,39.26 564.51,40.38 564.66,39.82 564.81,43.48 564.97,41.5 565.12,41.42 565.28,42.21 565.43,43.99 565.58,44.34 565.74,43.79 565.89,47.24 566.05,45.27 566.2,44.9 566.36,48.9 566.51,44.71 566.66,45.84 566.82,45.3 566.97,41.83 567.13,41.16 567.28,43.19 567.43,40.16 567.59,40.68 567.74,42.74 567.9,41.62 568.05,41.8 568.2,40.15 568.36,39.27 568.51,38.72 568.67,38.77 568.82,40.35 568.98,40.06 569.13,43.03 569.28,41.95 569.44,40.81 569.59,43.5 569.75,40.66 569.9,37.91 570.05,38.06 570.21,35.86 570.36,37.4 570.52,39.49 570.67,39.16 570.82,37.06 570.98,36.34 571.13,36.93 571.29,38.5 571.44,36.71 571.6,35.84 571.75,38.05 571.9,37.71 572.06,37.82 572.21,38.17 572.37,36.41 572.52,37 572.67,39.63 572.83,39.12 572.98,39.05 573.14,40.14 573.29,41.11 573.44,45.55 573.6,42.28 573.75,42.54 573.91,46.16 574.06,44.83 574.22,45.02 574.37,42.22 574.52,45.27 574.68,46.88 574.83,47.86 574.99,46.89 575.14,47.62 575.29,47.49 575.45,49.27 575.6,48.94 575.76,50.3 575.91,47.53 576.06,48.08 576.22,44.23 576.37,47.15 576.53,50.39 576.68,50.45 576.83,55.17 576.99,51.98 577.14,51.72 577.3,50.78 577.45,51.24 577.61,51.73 577.76,50.46 577.91,50.87 578.07,56.46 578.22,55.51 578.38,57.26 578.53,54.59 578.68,55.44 578.84,57.19 578.99,57.05 579.15,56.6 579.3,57.14 579.45,57.98 579.61,59.99 579.76,61.84 579.92,58.63 580.07,55.95 580.23,58.03 580.38,59.61 580.53,61.83 580.69,63.74 580.84,61.92 581,65.91 581.15,65 581.3,61.27 581.46,64.3 581.61,64.84 581.77,65.34 581.92,62.55 582.07,63.58 582.23,65.1 582.38,65.52 582.54,67.36 582.69,69.46 582.85,71.16 583,71.74 583.15,69.81 583.31,72.25 583.46,71.16 583.62,71.83 583.77,70.46 583.92,67.99 584.08,65.45 584.23,68.59 584.39,68.87 584.54,70.36 584.69,72.85 584.85,70.12 585,68.54 585.16,71.43 585.31,73.25 585.47,73.25 585.62,73.01 585.77,71.25 585.93,73.16 586.08,73.17 586.24,75.39 586.39,77.59 586.54,76.29 586.7,77.5 586.85,77.91 587.01,79.14 587.16,81.33 587.31,81.08 587.47,81.19 587.62,81.54 587.78,79.77 587.93,79.77 588.08,80.52 588.24,82.59 588.39,83.88 588.55,86.36 588.7,81.96 588.86,81.72 589.01,78.86 589.16,79.63 589.32,78.26 589.47,82.57 589.63,84.17 589.78,81.98 589.93,83.46 590.09,85.05 590.24,87.72 590.4,87.64 590.55,86.55 590.7,85.78 590.86,86.79 591.01,86.89 591.17,85.75 591.32,84.05 591.48,87.25 591.63,85.91 591.78,86.15 591.94,88.24 592.09,87.94 592.25,89.96 592.4,87.22 592.55,89.23 592.71,86.76 592.86,85.35 593.02,85.57 593.17,87.81 593.32,87.69 593.48,86.54 593.63,90.55 593.79,88.95 593.94,89.75 594.1,90.9 594.25,90.36 594.4,91.65 594.56,92.87 594.71,92.37 594.87,93.99 595.02,91.7 595.17,89.62 595.33,90.62 595.48,88.96 595.64,90.32 595.79,90.03 595.94,89.12 596.1,90.34 596.25,90.74 596.41,84.77 596.56,86.21 596.72,87.58 596.87,88.74 597.02,87.39 597.18,85.55 597.33,86.68 597.49,88.08 597.64,83.91 597.79,82.66 597.95,83.47 598.1,80.29 598.26,82 598.41,85.16 598.56,83.36 598.72,84.39 598.87,83.01 599.03,84.44 599.18,85.41 599.33,86.88 599.49,85.32 599.64,86.07 599.8,85.17 599.95,83.05 600.11,85.2 600.26,82.54 600.41,82.38 600.57,86.07 600.72,85.04 600.88,81.45 601.03,81.43 601.18,79.8 601.34,79.53 601.49,76.89 601.65,78.39 601.8,75.93 601.95,77.86 602.11,78.68 602.26,79.74 602.42,82.51 602.57,77.03 602.73,74.93 602.88,74.06 603.03,74.22 603.19,76.64 603.34,75.59 603.5,74.48 603.65,72.83 603.8,72.72 603.96,72.91 604.11,73.47 604.27,71.35 604.42,72.51 604.57,74.09 604.73,74.38 604.88,71.66 605.04,73.76 605.19,74.66 605.35,74.13 605.5,71.11 605.65,69.06 605.81,70.53 605.96,69.31 606.12,68.05 606.27,71.16 606.42,72.63 606.58,72.79 606.73,73.91 606.89,73.65 607.04,69.84 607.19,71.81 607.35,70.9 607.5,70.89 607.66,72.72 607.81,71.57 607.97,72.84 608.12,70.73 608.27,68.81 608.43,67.17 608.58,67.23 608.74,64.47 608.89,65.77 609.04,66.21 609.2,65.6 609.35,62.24 609.51,60.6 609.66,64.6 609.81,63.6 609.97,67.03 610.12,65.01 610.28,65.75 610.43,62.88 610.58,62.73 610.74,63.27 610.89,64.81 611.05,67.37 611.2,67.29 611.36,62.96 611.51,63.2 611.66,62.91 611.82,61.84 611.97,63.31 612.13,65.65 612.28,63.18 612.43,64.55 612.59,65.61 612.74,61.77 612.9,64.65 613.05,65.66 613.2,63.57 613.36,64.78 613.51,62.66 613.67,62.97 613.82,62.06 613.98,58.8 614.13,58.92 614.28,58.04 614.44,56.84 614.59,54.91 614.75,54.39 614.9,53.15 615.05,56.45 615.21,52.54 615.36,53.92 615.52,53.22 615.67,51.57 615.82,53.98 615.98,52.35 616.13,54.82 616.29,53.45 616.44,53.47 616.6,52.47 616.75,53.14 616.9,53.78 617.06,51.5 617.21,50.93 617.37,53.51 617.52,50.69 617.67,53.31 617.83,50.69 617.98,48.98 618.14,46.05 618.29,45.93 618.44,44.2 618.6,45.26 618.75,47.85 618.91,47.74 619.06,46.62 619.22,45.22 619.37,44.99 619.52,43.43 619.68,42.85 619.83,48.02 619.99,47.54 620.14,45.18 620.29,46.63 620.45,48.68 620.6,45.89 620.76,45.29 620.91,42.89 621.06,40.99 621.22,45.08 621.37,50.55 621.53,45.96 621.68,42.01 621.83,45.2 621.99,46.24 622.14,45.87 622.3,47.47 622.45,45.17 622.61,45.14 622.76,46.07 622.91,44.67 623.07,45.39 623.22,44.56 623.38,45.39 623.53,45.35 623.68,41.67 623.84,43.47 623.99,41.78 624.15,41.99 624.3,40.73 624.45,44.45 624.61,44.38 624.76,44.29 624.92,47.13 625.07,47.67 625.23,46.38 625.38,42.72 625.53,45.93 625.69,46.15 625.84,46.3 626,48.49 626.15,47.43 626.3,48.06 626.46,50.27 626.61,51.04 626.77,49.59 626.92,52.65 627.07,53.87 627.23,55.98 627.38,53.87 627.54,53.5 627.69,54.98 627.85,54.87 628,54.51 628.15,54.12 628.31,53.8 628.46,53.24 628.62,53.18 628.77,55.15 628.92,55.09 629.08,53.34 629.23,55.19 629.39,59.09 629.54,60.71 629.69,55.88 629.85,55.68 630,58.57 630.16,59.01 630.31,59.4 630.47,59.44 630.62,59.98 630.77,58.58 630.93,61.88 631.08,59.87 631.24,60.62 631.39,64.08 631.54,65.23 631.7,64.11 631.85,63.74 632.01,62.73 632.16,62.58 632.31,63.16 632.47,66.36 632.62,65.09 632.78,66.37 632.93,66.98 633.08,67.43 633.24,66.59 633.39,68.07 633.55,67.97 633.7,67.97 633.86,67.13 634.01,63.97 634.16,67.51 634.32,69.48 634.47,68.45 634.63,68.64 634.78,69.69 634.93,68.2 635.09,70.5 635.24,71.81 635.4,72.86 635.55,73.66 635.7,69.35 635.86,71.51 636.01,71.09 636.17,73.71 636.32,75.07 636.48,75.49 636.63,74.3 636.78,78.82 636.94,76.32 637.09,73.52 637.25,75.74 637.4,72.84 637.55,77.34 637.71,78.18 637.86,79.22 638.02,79.38 638.17,78.47 638.32,75.17 638.48,74.88 638.63,76.85 638.79,76.64 638.94,77.63 639.1,76.44 639.25,75.78 639.4,77.43 639.56,79.13 639.71,78.83 639.87,77.12 640.02,75.19 640.17,80.68 640.33,78.1 640.48,77.39 640.64,77.4 640.79,80.3 640.94,79.03 641.1,80.75 641.25,81.29 641.41,79.21 641.56,80.51 641.72,78.91 641.87,80.04 642.02,82.27 642.18,81.83 642.33,80.47 642.49,80.68 642.64,81.25 642.79,82.49 642.95,78.65 643.1,77.56 643.26,81.08 643.41,81.86 643.56,82.52 643.72,83.26 643.87,83.04 644.03,82.5 644.18,83.25 644.33,84.64 644.49,84.83 644.64,84.44 644.8,82.48 644.95,83.76 645.11,82.07 645.26,82.11 645.41,83.61 645.57,84.36 645.72,86.47 645.88,87.22 646.03,86.99 646.18,85.54 646.34,85.41 646.49,85.02 646.65,88.27 646.8,87.77 646.95,85.69 647.11,84.37 647.26,87.35 647.42,85.29 647.57,86.44 647.73,86.75" fill="none" stroke="#c2c2c2" stroke-width="0.7" stroke-linejoin="round" />
<polyline points="412.3,103.22 412.45,106.65 412.61,107.66 412.76,110.24 412.92,113.49 413.07,111.16 413.22,109.05 413.38,111.7 413.53,105.71 413.69,108.02 413.84,105.47 414,103.56 414.15,101.49 414.3,100.31 414.46,107.87 414.61,111.88 414.77,111.45 414.92,114.34 415.07,112.58 415.23,110.06 415.38,106.95 415.54,111.45 415.69,113.9 415.84,116.61 416,111.31 416.15,110.36 416.31,106.45 416.46,112.62 416.62,114.3 416.77,114.51 416.92,112.9 417.08,111.67 417.23,110.34 417.39,114.4 417.54,110.81 417.69,113.93 417.85,113.51 418,109.07 418.16,105.37 418.31,105.64 418.46,108.14 418.62,105.26 418.77,110 418.93,113.97 419.08,113.95 419.23,106.6 419.39,100.7 419.54,108.13 419.7,113.78 419.85,110.36 420.01,111.55 420.16,109.46 420.31,107.11 420.47,111.13 420.62,107.99 420.78,110.86 420.93,115.01 421.08,110.94 421.24,115.26 421.39,106.91 421.55,109.85 421.7,108.21 421.85,115.57 422.01,110.85 422.16,105.6 422.32,110.7 422.47,102.78 422.63,105.08 422.78,102.11 422.93,107.44 423.09,105.07 423.24,106.82 423.4,104.57 423.55,99.77 423.7,93.72 423.86,103.37 424.01,102.9 424.17,97.91 424.32,97.94 424.47,101.98 424.63,95.67 424.78,104.58 424.94,100.55 425.09,97.91 425.25,101.76 425.4,99.92 425.55,94.78 425.71,98.24 425.86,98.19 426.02,100.11 426.17,94.11 426.32,90.17 426.48,93.67 426.63,91.67 426.79,84.77 426.94,86.18 427.09,90.58 427.25,88.07 427.4,93.11 427.56,89.49 427.71,88.73 427.87,83.06 428.02,82.63 428.17,84.13 428.33,87.1 428.48,87.01 428.64,89.54 428.79,79.88 428.94,81.97 429.1,82.16 429.25,79 429.41,80.41 429.56,78.51 429.71,81.1 429.87,79.56 430.02,81.27 430.18,77.18 430.33,81.98 430.48,81.22 430.64,85.08 430.79,80.4 430.95,76.55 431.1,76.41 431.26,74.05 431.41,70.68 431.56,72.15 431.72,72.32 431.87,70.17 432.03,69.67 432.18,67.17 432.33,69.29 432.49,65.15 432.64,72.78 432.8,70.81 432.95,72.53 433.1,66.02 433.26,67.56 433.41,66.46 433.57,69.29 433.72,70.04 433.88,61.85 434.03,66.64 434.18,60.04 434.34,65.79 434.49,63.78 434.65,58.71 434.8,62.17 434.95,61.4 435.11,57.34 435.26,55.85 435.42,58.84 435.57,53.95 435.72,52.9 435.88,61.05 436.03,56.2 436.19,57.25 436.34,57.76 436.5,59.43 436.65,59.72 436.8,48.36 436.96,49.15 437.11,54.78 437.27,50.82 437.42,57.2 437.57,54.94 437.73,48.69 437.88,51.22 438.04,56.79 438.19,50.68 438.34,51.45 438.5,46.81 438.65,45.25 438.81,46.54 438.96,48.27 439.12,48.38 439.27,47.74 439.42,54.46 439.58,46.05 439.73,39.05 439.89,43.36 440.04,44.07 440.19,38.84 440.35,46.49 440.5,42.09 440.66,37.35 440.81,40.86 440.96,43.16 441.12,49.81 441.27,40.06 441.43,35.89 441.58,36.95 441.73,36.77 441.89,37.74 442.04,35.96 442.2,32.11 442.35,33.73 442.51,38.24 442.66,40.63 442.81,36.9 442.97,38.88 443.12,39.35 443.28,36.46 443.43,35.38 443.58,36.07 443.74,45.45 443.89,41.31 444.05,35.67 444.2,35.19 444.35,33.56 444.51,38.32 444.66,29.68 444.82,28.85 444.97,34.78 445.13,36.34 445.28,35.79 445.43,37.79 445.59,31.96 445.74,34.65 445.9,30.99 446.05,28.68 446.2,33.45 446.36,31.53 446.51,32.05 446.67,35.6 446.82,31.85 446.97,35.51 447.13,42.83 447.28,38.4 447.44,40.1 447.59,40.38 447.75,33.8 447.9,30.25 448.05,33.12 448.21,27.52 448.36,32.06 448.52,35.14 448.67,37.48 448.82,38.69 448.98,42.36 449.13,38.77 449.29,42.7 449.44,42.07 449.59,41.89 449.75,39.67 449.9,42.41 450.06,38.25 450.21,41.25 450.37,44.22 450.52,39.93 450.67,37.02 450.83,36.39 450.98,38.66 451.14,41.33 451.29,44.57 451.44,49.79 451.6,51.7 451.75,48.38 451.91,44.73 452.06,40.4 452.21,45.23 452.37,46.85 452.52,45.25 452.68,45.07 452.83,45.38 452.98,37.59 453.14,42.35 453.29,46.26 453.45,46.98 453.6,44.47 453.76,47.19 453.91,50.26 454.06,56.48 454.22,57.4 454.37,56.59 454.53,54.32 454.68,49.19 454.83,49.82 454.99,47.44 455.14,50.76 455.3,56.61 455.45,59.79 455.6,61.21 455.76,59.28 455.91,61.86 456.07,59.26 456.22,52.65 456.38,56.65 456.53,58.64 456.68,54.02 456.84,56.07 456.99,51.04 457.15,55.41 457.3,63.54 457.45,61.75 457.61,67.72 457.76,67.41 457.92,64.36 458.07,59.71 458.22,66.14 458.38,69.4 458.53,64.19 458.69,65.47 458.84,71.53 459,68.72 459.15,71.45 459.3,65.33 459.46,66.02 459.61,72.19 459.77,69.24 459.92,67.24 460.07,66.72 460.23,70.18 460.38,68.23 460.54,72.46 460.69,77.14 460.84,83.04 461,79.87 461.15,85.32 461.31,84.85 461.46,82.32 461.62,83.84 461.77,88.24 461.92,90.67 462.08,89.73 462.23,86.73 462.39,88.62 462.54,87.8 462.69,87.53 462.85,88 463,93.7 463.16,86.8 463.31,87.37 463.46,84.56 463.62,89.96 463.77,93.77 463.93,96.76 464.08,92.83 464.23,92.51 464.39,95 464.54,94.57 464.7,94.98 464.85,95.14 465.01,95.73 465.16,95 465.31,96.74 465.47,91.52 465.62,92.64 465.78,90.41 465.93,93.68 466.08,93.41 466.24,97.74 466.39,102.55 466.55,96.85 466.7,95.77 466.85,99.15 467.01,104.76 467.16,105.56 467.32,105.07 467.47,103.37 467.63,101.44 467.78,103.43 467.93,105.01 468.09,104.86 468.24,102.5 468.4,98.1 468.55,98.6 468.7,100.6 468.86,99.15 469.01,103.54 469.17,100.09 469.32,102.24 469.47,105.65 469.63,109.04 469.78,108.99 469.94,112.31 470.09,108.11 470.25,105.54 470.4,110.58 470.55,106.68 470.71,107.25 470.86,102.4 471.02,109.58 471.17,111.93 471.32,108.31 471.48,103.29 471.63,107.51 471.79,109.77 471.94,113.95 472.09,117.5 472.25,115.3 472.4,112.31 472.56,110.81 472.71,109.9 472.87,105.94 473.02,105.57 473.17,108.11 473.33,104.24 473.48,103.43 473.64,111.46 473.79,109.21 473.94,112.98 474.1,115.87 474.25,113.69 474.41,115.33 474.56,112.78 474.71,109.19 474.87,109.92 475.02,110.85 475.18,111.46 475.33,111.56 475.48,110.03 475.64,114.05 475.79,111.83 475.95,109.94 476.1,113.4 476.26,108.67 476.41,109.54 476.56,114.8 476.72,112.67 476.87,116.02 477.03,112.05 477.18,109.14 477.33,108.73 477.49,107.11 477.64,106.86 477.8,106.35 477.95,110.08 478.1,110.49 478.26,108.56 478.41,105.67 478.57,117.18 478.72,111.51 478.88,113.84 479.03,106.31 479.18,103.84 479.34,108.95 479.49,103.64 479.65,100.92 479.8,102.73 479.95,101.23 480.11,101.74 480.26,103.28 480.42,106.23 480.57,105.24 480.72,104.91 480.88,107.95 481.03,109.56 481.19,104.31 481.34,96.51 481.5,95.19 481.65,101.17 481.8,98.82 481.96,96.66 482.11,96.2 482.27,102.48 482.42,100.31 482.57,97.55 482.73,94.86 482.88,91.95 483.04,103.19 483.19,99.11 483.34,97.43 483.5,94.79 483.65,97.78 483.81,92.16 483.96,86.06 484.12,87.18 484.27,90.48 484.42,98.22 484.58,94.09 484.73,89.14 484.89,88.49 485.04,86.04 485.19,84.52 485.35,86.37 485.5,87.68 485.66,84.89 485.81,89.01 485.96,86.89 486.12,86.17 486.27,83.43 486.43,84.68 486.58,85.15 486.73,85.92 486.89,81.11 487.04,83.19 487.2,79.96 487.35,80.25 487.51,82.23 487.66,85.47 487.81,80.28 487.97,75.19 488.12,76.48 488.28,80.4 488.43,76.92 488.58,84 488.74,72.95 488.89,78.34 489.05,79.62 489.2,79.77 489.35,73.1 489.51,76.72 489.66,77.59 489.82,77.99 489.97,73 490.13,70.15 490.28,73.52 490.43,71.76 490.59,68.23 490.74,64.61 490.9,66.13 491.05,61.23 491.2,64.89 491.36,65.03 491.51,59.15 491.67,62.56 491.82,66.46 491.97,64.96 492.13,58.69 492.28,57.66 492.44,61.64 492.59,56.27 492.75,56.36 492.9,61.15 493.05,58.53 493.21,55.95 493.36,58.98 493.52,62.89 493.67,60.54 493.82,53.37 493.98,48.57 494.13,50.41 494.29,45.9 494.44,49.09 494.59,53.71 494.75,43.94 494.9,47.01 495.06,49.95 495.21,48.3 495.37,50.32 495.52,51.43 495.67,53.57 495.83,59.88 495.98,54.89 496.14,48.12 496.29,44.07 496.44,41.12 496.6,45.88 496.75,46.8 496.91,47.46 497.06,46.69 497.21,50.73 497.37,50.87 497.52,50.47 497.68,44.45 497.83,42.43 497.98,37.97 498.14,37.72 498.29,39.86 498.45,36.4 498.6,36.44 498.76,45.11 498.91,41.97 499.06,35.86 499.22,33.5 499.37,36.02 499.53,40.22 499.68,39.09 499.83,41.56 499.99,40.83 500.14,35.6 500.3,39.99 500.45,37.14 500.6,43.37 500.76,38.17 500.91,36.95 501.07,34.92 501.22,34.74 501.38,36.97 501.53,35.88 501.68,39.82 501.84,39.21 501.99,42.69 502.15,39.36 502.3,41.71 502.45,42.55 502.61,38.47 502.76,45.31 502.92,45.31 503.07,42.08 503.22,38 503.38,36.35 503.53,35.23 503.69,36.2 503.84,32 504,33.87 504.15,32.65 504.3,39.6 504.46,40.14 504.61,43.45 504.77,47.53 504.92,43.31 505.07,46.37 505.23,42.55 505.38,41.56 505.54,35.92 505.69,36.61 505.84,41.52 506,40.98 506.15,37.93 506.31,37.79 506.46,35.37 506.62,34.51 506.77,31.67 506.92,38.83 507.08,42.5 507.23,40.5 507.39,35.57 507.54,36.93 507.69,45.22 507.85,38.48 508,38.01 508.16,38.07 508.31,42.5 508.46,38.05 508.62,41.11 508.77,39.24 508.93,40.06 509.08,37.84 509.23,42.72 509.39,42.01 509.54,41.56 509.7,47.15 509.85,47.71 510.01,54.9 510.16,52.32 510.31,50.17 510.47,49.48 510.62,58.1 510.78,57.7 510.93,52.69 511.08,52.46 511.24,49.85 511.39,52.73 511.55,50.59 511.7,49.62 511.85,52.74 512.01,57.61 512.16,58.68 512.32,59.16 512.47,57.36 512.63,48.63 512.78,52.01 512.93,53.86 513.09,57.56 513.24,63.76 513.4,63.87 513.55,55.95 513.7,58.16 513.86,58.72 514.01,62.49 514.17,62.1 514.32,56.1 514.47,56.75 514.63,59.34 514.78,55.23 514.94,59.88 515.09,61.99 515.25,67.88 515.4,67.2 515.55,65.51 515.71,66.64 515.86,68.01 516.02,72.19 516.17,68.21 516.32,62.24 516.48,76.22 516.63,76.91 516.79,75.19 516.94,82.58 517.09,74.75 517.25,72.32 517.4,72.61 517.56,76.16 517.71,75.1 517.87,79.03 518.02,77.54 518.17,82.61 518.33,82.69 518.48,75.97 518.64,78.34 518.79,76.14 518.94,78.69 519.1,80.73 519.25,89.53 519.41,85.98 519.56,79.91 519.71,82.91 519.87,80.46 520.02,89.51 520.18,90.59 520.33,94.3 520.48,89.86 520.64,85.77 520.79,88.47 520.95,84.53 521.1,84.21 521.26,85.01 521.41,87.74 521.56,84.77 521.72,81.75 521.87,92.19 522.03,91.07 522.18,91.98 522.33,95.3 522.49,96.7 522.64,94 522.8,93.6 522.95,100.54 523.1,103.07 523.26,102.88 523.41,106.1 523.57,96.07 523.72,98.05 523.88,97.89 524.03,92.54 524.18,97.67 524.34,101.48 524.49,102.32 524.65,96.02 524.8,98.41 524.95,101.26 525.11,101.37 525.26,103.37 525.42,105.29 525.57,109.54 525.72,107.87 525.88,115.27 526.03,111.05 526.19,109.34 526.34,110.31 526.5,108.1 526.65,106.32 526.8,110.83 526.96,101.9 527.11,98.81 527.27,110.33 527.42,111.72 527.57,111.9 527.73,111.32 527.88,111.08 528.04,106.96 528.19,107.23 528.34,104.99 528.5,111.28 528.65,112.79 528.81,112.31 528.96,112.66 529.12,111.17 529.27,107.08 529.42,114.7 529.58,115.04 529.73,112.51 529.89,113.87 530.04,116.88 530.19,117.5 530.35,117.06 530.5,117.11 530.66,113.63 530.81,117.22 530.96,117.5 531.12,117.5 531.27,110.53 531.43,113.35 531.58,114.84 531.73,116.03 531.89,105.19 532.04,102.19 532.2,107.88 532.35,106.57 532.51,110.36 532.66,110.61 532.81,113.89 532.97,110.69 533.12,107.34 533.28,110.94 533.43,109.98 533.58,106.41 533.74,101.82 533.89,116.71 534.05,112.26 534.2,110.35 534.35,103.49 534.51,103.14 534.66,105.76 534.82,108.6 534.97,111.43 535.13,107.57 535.28,109.67 535.43,112.85 535.59,108.7 535.74,107.98 535.9,101.62 536.05,101.62 536.2,99.57 536.36,105.31 536.51,105.15 536.67,110.89 536.82,108.86 536.97,109.75 537.13,109.05 537.28,107.47 537.44,102.18 537.59,108.57 537.75,105.67 537.9,98.1 538.05,98.39 538.21,96.55 538.36,103.15 538.52,105.79 538.67,108.54 538.82,111.92 538.98,103.77 539.13,95.26 539.29,93.99 539.44,97.71 539.59,88.75 539.75,91.17 539.9,97.05 540.06,93.98 540.21,94.69 540.37,92.1 540.52,99.59 540.67,103.77 540.83,95.5 540.98,91.68 541.14,92.85 541.29,95.1 541.44,95.07 541.6,95.58 541.75,96.73 541.91,97.82 542.06,100.41 542.21,95.67 542.37,90.83 542.52,89.51 542.68,96.45 542.83,94.9 542.98,93.42 543.14,94.56 543.29,94.46 543.45,97.97 543.6,88.62 543.76,87.09 543.91,87.91 544.06,88.25 544.22,83.98 544.37,77.3 544.53,78.27 544.68,77.01 544.83,78.07 544.99,82.42 545.14,82.91 545.3,76.53 545.45,74.37 545.6,76.2 545.76,80.04 545.91,77.52 546.07,76.92 546.22,70.37 546.38,70.28 546.53,68.87 546.68,71.24 546.84,70.49 546.99,67.72 547.15,65.29 547.3,68.19 547.45,66.37 547.61,71.26 547.76,70.03 547.92,67.67 548.07,70.2 548.22,63.96 548.38,67.75 548.53,63.76 548.69,66.41 548.84,62.62 549,59.52 549.15,54.6 549.3,58.29 549.46,61.35 549.61,56.16 549.77,64.1 549.92,61.67 550.07,56.36 550.23,63.96 550.38,59.4 550.54,63.22 550.69,50.23 550.84,60.43 551,58.55 551.15,56.67 551.31,56.56 551.46,51.2 551.62,55.35 551.77,55.5 551.92,54.9 552.08,51.3 552.23,47.21 552.39,50.1 552.54,52.86 552.69,51.67 552.85,49.66 553,47.32 553.16,50.11 553.31,53.78 553.46,49.91 553.62,45.35 553.77,54.14 553.93,44.63 554.08,45.82 554.23,44.96 554.39,49.13 554.54,46.07 554.7,39.15 554.85,37.28 555.01,40.37 555.16,41.28 555.31,39.36 555.47,38.57 555.62,34.59 555.78,32.69 555.93,34.47 556.08,34.98 556.24,36.94 556.39,34.23 556.55,42.04 556.7,34.54 556.85,39.55 557.01,40.84 557.16,44.88 557.32,46.09 557.47,37.41 557.63,38.64 557.78,40.53 557.93,41.99 558.09,41.17 558.24,37 558.4,41.13 558.55,38.34 558.7,35.62 558.86,36.48 559.01,34.7 559.17,33 559.32,34.77 559.47,44.11 559.63,40.92 559.78,38.47 559.94,35.43 560.09,36.59 560.25,31.97 560.4,35.29 560.55,36.21 560.71,36.05 560.86,37.29 561.02,35.65 561.17,37.75 561.32,38.4 561.48,38.83 561.63,37.2 561.79,39.4 561.94,36.95 562.09,40.75 562.25,37.98 562.4,41.35 562.56,39.66 562.71,37.93 562.87,33.86 563.02,37.44 563.17,38.42 563.33,37.95 563.48,39.05 563.64,38.79 563.79,35.23 563.94,32.71 564.1,37.68 564.25,38.79 564.41,44.02 564.56,48.44 564.71,46.81 564.87,45.52 565.02,44.79 565.18,43.05 565.33,39.84 565.48,31.7 565.64,39.28 565.79,42.67 565.95,42.7 566.1,43.24 566.26,46.56 566.41,48.25 566.56,46.87 566.72,44.92 566.87,47.04 567.03,49.01 567.18,54.98 567.33,47.69 567.49,49.04 567.64,45.31 567.8,45.14 567.95,54.77 568.1,50.53 568.26,49.65 568.41,47.96 568.57,52.25 568.72,50.34 568.88,45.46 569.03,49.4 569.18,53.98 569.34,53.67 569.49,54.43 569.65,52.22 569.8,50.59 569.95,53.26 570.11,51.05 570.26,52.59 570.42,51.81 570.57,54.28 570.72,59.31 570.88,59.33 571.03,63.6 571.19,63.46 571.34,62.03 571.5,59.01 571.65,61.23 571.8,58.39 571.96,63.78 572.11,59.69 572.27,57.81 572.42,59.01 572.57,57.17 572.73,62.6 572.88,62.66 573.04,64.08 573.19,68.77 573.34,61.89 573.5,65.41 573.65,69.54 573.81,74.18 573.96,73.83 574.12,71.27 574.27,75.74 574.42,78.29 574.58,84.24 574.73,87.33 574.89,81.23 575.04,83.84 575.19,81.55 575.35,76.57 575.5,80.23 575.66,84.42 575.81,74.46 575.96,82.24 576.12,79.14 576.27,86.15 576.43,85.32 576.58,84.92 576.73,89.24 576.89,85.86 577.04,92.66 577.2,86.03 577.35,84.23 577.51,81.98 577.66,86.63 577.81,87.18 577.97,90.68 578.12,93.71 578.28,94.49 578.43,96.12 578.58,97.24 578.74,94.1 578.89,90.58 579.05,88.27 579.2,93.22 579.35,91.63 579.51,89.61 579.66,89.29 579.82,91.48 579.97,94.34 580.13,94.38 580.28,92.03 580.43,96.39 580.59,89.44 580.74,92.63 580.9,99.05 581.05,99.87 581.2,103.62 581.36,102.05 581.51,103.08 581.67,102 581.82,100.07 581.97,102.04 582.13,105.22 582.28,97.09 582.44,97.11 582.59,92.97 582.75,95 582.9,95.01 583.05,97.89 583.21,100.12 583.36,105.62 583.52,109.47 583.67,104.68 583.82,103.48 583.98,106.81 584.13,104.35 584.29,104.06 584.44,99.19 584.59,105.58 584.75,107.34 584.9,104.23 585.06,101.58 585.21,101.24 585.37,106.25 585.52,105.76 585.67,103.14 585.83,104.94 585.98,109.93 586.14,113.85 586.29,116.21 586.44,113.4 586.6,112.54 586.75,112.31 586.91,113.53 587.06,113.95 587.21,109 587.37,107.34 587.52,107.73 587.68,111.64 587.83,109.55 587.98,107.66 588.14,112.76 588.29,116.8 588.45,110.88 588.6,110.52 588.76,114.69 588.91,111.55 589.06,114.4 589.22,107.97 589.37,108.76 589.53,112.08 589.68,116.65 589.83,116.95 589.99,108.43 590.14,104.41 590.3,104.59 590.45,110.32 590.6,112.79 590.76,115.16 590.91,114.95 591.07,110.53 591.22,108.89 591.38,106.27 591.53,110.65 591.68,105.72 591.84,107.6 591.99,109.05 592.15,112.97 592.3,108.13 592.45,109.49 592.61,105.35 592.76,109.95 592.92,107.46 593.07,106.27 593.22,103.37 593.38,102.92 593.53,102.42 593.69,102.14 593.84,107.77 594,103.22 594.15,104.91 594.3,107.57 594.46,102.12 594.61,95.81 594.77,101.25 594.92,96.67 595.07,97.12 595.23,99.42 595.38,101.62 595.54,100.69 595.69,98.56 595.84,102.97 596,102.38 596.15,107.55 596.31,100.46 596.46,99.4 596.62,98.8 596.77,100.22 596.92,99.66 597.08,98.45 597.23,104.07 597.39,99.55 597.54,99.05 597.69,97.7 597.85,94.11 598,96.57 598.16,88.83 598.31,94.75 598.46,88.42 598.62,89.14 598.77,90.61 598.93,89.09 599.08,87.95 599.23,92.85 599.39,99.01 599.54,97.3 599.7,93.22 599.85,88.25 600.01,85.01 600.16,89.71 600.31,90.71 600.47,92.33 600.62,91.79 600.78,92.31 600.93,85.83 601.08,81.67 601.24,78.53 601.39,79.95 601.55,79.8 601.7,80.44 601.85,76.07 602.01,78.16 602.16,81.02 602.32,79.71 602.47,69.5 602.63,73 602.78,73.33 602.93,77.43 603.09,75.59 603.24,77 603.4,74 603.55,74.57 603.7,76.69 603.86,73.31 604.01,73.25 604.17,72.42 604.32,73.19 604.47,70.84 604.63,71.35 604.78,63.63 604.94,64.78 605.09,68.57 605.25,69.64 605.4,64.45 605.55,62.11 605.71,64.61 605.86,65.44 606.02,65.91 606.17,64.52 606.32,63.68 606.48,66.06 606.63,60.42 606.79,55.83 606.94,61.17 607.09,57.68 607.25,60.45 607.4,57.03 607.56,53.63 607.71,60.41 607.87,58.18 608.02,52.35 608.17,53.09 608.33,53.33 608.48,53.05 608.64,53.88 608.79,49.66 608.94,50.15 609.1,52.55 609.25,54.05 609.41,52.77 609.56,48.94 609.71,42.9 609.87,50.97 610.02,46.23 610.18,45.82 610.33,46.91 610.48,48.64 610.64,47.71 610.79,44.4 610.95,45.07 611.1,52.16 611.26,56.9 611.41,50.06 611.56,49.28 611.72,40.77 611.87,42.78 612.03,45.24 612.18,42.92 612.33,48.56 612.49,48.08 612.64,46.78 612.8,35.29 612.95,35.97 613.1,40.51 613.26,38.64 613.41,33.35 613.57,34.45 613.72,41.77 613.88,42.49 614.03,43.33 614.18,41.39 614.34,44.97 614.49,32.06 614.65,30.77 614.8,40.29 614.95,42.07 615.11,40.19 615.26,37.2 615.42,30.76 615.57,32.02 615.72,33.5 615.88,31.57 616.03,38.13 616.19,40.19 616.34,36.82 616.5,38.99 616.65,36.9 616.8,36.84 616.96,34.29 617.11,42.76 617.27,33.82 617.42,33.81 617.57,37.67 617.73,39.56 617.88,31.75 618.04,30.08 618.19,32.06 618.34,30.74 618.5,30.53 618.65,31.83 618.81,32.83 618.96,37.52 619.12,30.65 619.27,36.37 619.42,35.05 619.58,37.13 619.73,35.16 619.89,43.17 620.04,33.54 620.19,38.68 620.35,35.96 620.5,35.4 620.66,40.69 620.81,38.09 620.96,40.56 621.12,43.73 621.27,38.68 621.43,44.95 621.58,45.71 621.73,41.34 621.89,40.78 622.04,37.57 622.2,39.46 622.35,42.48 622.51,44.61 622.66,43.28 622.81,40.34 622.97,38.64 623.12,36.96 623.28,38.56 623.43,42.48 623.58,40.73 623.74,39.75 623.89,38.23 624.05,43.08 624.2,42.99 624.35,38.68 624.51,45.78 624.66,49.41 624.82,48.04 624.97,46.38 625.13,46.85 625.28,44.41 625.43,49.82 625.59,54.05 625.74,55.26 625.9,53.54 626.05,52.93 626.2,53.9 626.36,58.55 626.51,52.9 626.67,52.94 626.82,51.04 626.97,48.66 627.13,52.87 627.28,57.91 627.44,53.51 627.59,58.37 627.75,60.07 627.9,60.55 628.05,64.06 628.21,59.47 628.36,64.99 628.52,61.56 628.67,63.14 628.82,57.38 628.98,63.12 629.13,63.2 629.29,61.61 629.44,59.61 629.59,63 629.75,68.73 629.9,69.3 630.06,67.04 630.21,64.84 630.37,63.14 630.52,64.99 630.67,62.04 630.83,64.94 630.98,71.57 631.14,71.41 631.29,71.34 631.44,70.17 631.6,74.24 631.75,76.33 631.91,80.31 632.06,75.63 632.21,72.25 632.37,72.55 632.52,70.96 632.68,74.37 632.83,75.14 632.98,74.43 633.14,77.05 633.29,82.15 633.45,84.07 633.6,80.9 633.76,81.81 633.91,83.49 634.06,85.78 634.22,83.91 634.37,80.17 634.53,83.96 634.68,81.83 634.83,83.03 634.99,84.25 635.14,89.06 635.3,87.17 635.45,88.6 635.6,88.35 635.76,87.4 635.91,91.91 636.07,90.02 636.22,92.44 636.38,93.29 636.53,86.96 636.68,84.71 636.84,78.91 636.99,87.61 637.15,92.1 637.3,92.03 637.45,92.24 637.61,93.27 637.76,93 637.92,95.06 638.07,96.33 638.22,94.4 638.38,101.27 638.53,103.58 638.69,100.3 638.84,107.36 639,112.03 639.15,110.6 639.3,109.95 639.46,103.99 639.61,102.1 639.77,97.2 639.92,98.76 640.07,104.32 640.23,102.73 640.38,97.95 640.54,106.53 640.69,112.19 640.84,113.7 641,104.62 641.15,107.99" fill="none" stroke="#62adf0" stroke-width="0.75" stroke-linejoin="round" />
<polyline points="412.3,72.16 413.14,74.23 413.97,76.29 414.81,78.31 415.65,80.27 416.49,82.17 417.32,83.98 418.16,85.68 419,87.27 419.83,88.72 420.67,90.04 421.51,91.19 422.34,92.18 423.18,93 424.02,93.63 424.86,94.08 425.69,94.33 426.53,94.4 427.37,94.27 428.2,93.94 429.04,93.43 429.88,92.74 430.71,91.86 431.55,90.81 432.39,89.6 433.23,88.24 434.06,86.74 434.9,85.11 435.74,83.37 436.57,81.53 437.41,79.6 438.25,77.62 439.08,75.58 439.92,73.52 440.76,71.44 441.6,69.37 442.43,67.32 443.27,65.31 444.11,63.37 444.94,61.5 445.78,59.72 446.62,58.04 447.45,56.49 448.29,55.08 449.13,53.81 449.97,52.7 450.8,51.76 451.64,51 452.48,50.42 453.31,50.03 454.15,49.83 454.99,49.82 455.82,50.01 456.66,50.38 457.5,50.95 458.34,51.7 459.17,52.63 460.01,53.72 460.85,54.98 461.68,56.38 462.52,57.92 463.36,59.59 464.19,61.36 465.03,63.23 465.87,65.17 466.71,67.17 467.54,69.22 468.38,71.29 469.22,73.36 470.05,75.43 470.89,77.47 471.73,79.46 472.56,81.39 473.4,83.23 474.24,84.98 475.08,86.62 475.91,88.13 476.75,89.51 477.59,90.73 478.42,91.79 479.26,92.68 480.1,93.39 480.93,93.91 481.77,94.25 482.61,94.39 483.45,94.34 484.28,94.1 485.12,93.67 485.96,93.05 486.79,92.25 487.63,91.27 488.47,90.13 489.3,88.83 490.14,87.38 490.98,85.8 491.82,84.11 492.65,82.31 493.49,80.42 494.33,78.46 495.16,76.44 496,74.38 496.84,72.31 497.68,70.23 498.51,68.17 499.35,66.15 500.19,64.17 501.02,62.27 501.86,60.45 502.7,58.73 503.53,57.13 504.37,55.65 505.21,54.32 506.05,53.15 506.88,52.14 507.72,51.3 508.56,50.64 509.39,50.17 510.23,49.89 511.07,49.8 511.9,49.91 512.74,50.2 513.58,50.69 514.42,51.37 515.25,52.22 516.09,53.25 516.93,54.44 517.76,55.78 518.6,57.26 519.44,58.88 520.27,60.61 521.11,62.43 521.95,64.35 522.79,66.33 523.62,68.36 524.46,70.42 525.3,72.49 526.13,74.57 526.97,76.62 527.81,78.63 528.64,80.59 529.48,82.47 530.32,84.26 531.16,85.95 531.99,87.52 532.83,88.95 533.67,90.23 534.5,91.36 535.34,92.33 536.18,93.11 537.01,93.72 537.85,94.13 538.69,94.36 539.53,94.39 540.36,94.23 541.2,93.87 542.04,93.33 542.87,92.6 543.71,91.7 544.55,90.62 545.38,89.39 546.22,88 547.06,86.48 547.9,84.83 548.73,83.07 549.57,81.22 550.41,79.28 551.24,77.29 552.08,75.25 552.92,73.18 553.75,71.1 554.59,69.03 555.43,66.99 556.27,64.99 557.1,63.06 557.94,61.2 558.78,59.44 559.61,57.78 560.45,56.25 561.29,54.86 562.12,53.62 562.96,52.54 563.8,51.63 564.64,50.89 565.47,50.34 566.31,49.98 567.15,49.81 567.98,49.84 568.82,50.06 569.66,50.46 570.5,51.06 571.33,51.84 572.17,52.8 573.01,53.92 573.84,55.2 574.68,56.63 575.52,58.19 576.35,59.87 577.19,61.66 578.03,63.54 578.87,65.49 579.7,67.5 580.54,69.55 581.38,71.62 582.21,73.7 583.05,75.76 583.89,77.8 584.72,79.78 585.56,81.69 586.4,83.52 587.24,85.26 588.07,86.88 588.91,88.37 589.75,89.71 590.58,90.91 591.42,91.94 592.26,92.8 593.09,93.49 593.93,93.98 594.77,94.29 595.61,94.4 596.44,94.32 597.28,94.05 598.12,93.58 598.95,92.93 599.79,92.1 600.63,91.09 601.46,89.93 602.3,88.6 603.14,87.13 603.98,85.53 604.81,83.82 605.65,82 606.49,80.1 607.32,78.13 608.16,76.11 609,74.05 609.83,71.97 610.67,69.9 611.51,67.84 612.35,65.82 613.18,63.86 614.02,61.97 614.86,60.16 615.69,58.46 616.53,56.88 617.37,55.43 618.2,54.12 619.04,52.97 619.88,51.99 620.72,51.18 621.55,50.55 622.39,50.11 623.23,49.86 624.06,49.8 624.9,49.94 625.74,50.27 626.57,50.79 627.41,51.49 628.25,52.38 629.09,53.43 629.92,54.64 630.76,56.01 631.6,57.52 632.43,59.15 633.27,60.9 634.11,62.74 634.94,64.67 635.78,66.65 636.62,68.69 637.46,70.76 638.29,72.83 639.13,74.9 639.97,76.95 640.8,78.96 641.64,80.9 642.48,82.77 643.31,84.55 644.15,86.21 644.99,87.76 645.83,89.17 646.66,90.43 647.5,91.53" fill="none" stroke="#ec1c24" stroke-width="1.6" stroke-linejoin="round" />
<polyline points="412.3,98.93 413.14,101.34 413.98,103.52 414.82,105.47 415.65,107.15 416.49,108.57 417.33,109.69 418.17,110.53 419.01,111.06 419.85,111.29 420.68,111.21 421.52,110.83 422.36,110.14 423.2,109.15 424.04,107.87 424.88,106.32 425.72,104.5 426.55,102.43 427.39,100.13 428.23,97.61 429.07,94.9 429.91,92.03 430.75,89.01 431.58,85.86 432.42,82.63 433.26,79.33 434.1,76 434.94,72.65 435.78,69.33 436.62,66.05 437.45,62.84 438.29,59.74 439.13,56.77 439.97,53.95 440.81,51.3 441.65,48.86 442.48,46.63 443.32,44.65 444.16,42.92 445,41.46 445.84,40.28 446.68,39.39 447.52,38.81 448.35,38.53 449.19,38.55 450.03,38.89 450.87,39.52 451.71,40.46 452.55,41.69 453.38,43.2 454.22,44.97 455.06,47 455.9,49.27 456.74,51.75 457.58,54.43 458.42,57.27 459.25,60.27 460.09,63.4 460.93,66.61 461.77,69.9 462.61,73.23 463.45,76.58 464.28,79.91 465.12,83.2 465.96,86.42 466.8,89.54 467.64,92.54 468.48,95.39 469.32,98.06 470.15,100.54 470.99,102.81 471.83,104.83 472.67,106.61 473.51,108.12 474.35,109.34 475.18,110.28 476.02,110.92 476.86,111.25 477.7,111.27 478.54,110.99 479.38,110.4 480.22,109.52 481.05,108.34 481.89,106.88 482.73,105.15 483.57,103.16 484.41,100.93 485.25,98.49 486.08,95.84 486.92,93.02 487.76,90.05 488.6,86.94 489.44,83.74 490.28,80.46 491.12,77.13 491.95,73.79 492.79,70.45 493.63,67.15 494.47,63.92 495.31,60.78 496.15,57.76 496.98,54.88 497.82,52.18 498.66,49.66 499.5,47.36 500.34,45.29 501.18,43.47 502.02,41.92 502.85,40.64 503.69,39.66 504.53,38.97 505.37,38.59 506.21,38.51 507.05,38.74 507.88,39.27 508.72,40.11 509.56,41.24 510.4,42.66 511.24,44.34 512.08,46.29 512.92,48.47 513.75,50.88 514.59,53.5 515.43,56.29 516.27,59.24 517.11,62.32 517.95,65.51 518.78,68.78 519.62,72.1 520.46,75.44 521.3,78.78 522.14,82.09 522.98,85.34 523.82,88.49 524.65,91.54 525.49,94.44 526.33,97.18 527.17,99.72 528.01,102.06 528.85,104.17 529.68,106.04 530.52,107.64 531.36,108.96 532.2,109.99 533.04,110.73 533.88,111.17 534.72,111.3 535.55,111.12 536.39,110.64 537.23,109.85 538.07,108.77 538.91,107.4 539.75,105.76 540.58,103.86 541.42,101.71 542.26,99.34 543.1,96.76 543.94,94 544.78,91.07 545.62,88.01 546.45,84.84 547.29,81.58 548.13,78.26 548.97,74.92 549.81,71.58 550.65,68.27 551.48,65.01 552.32,61.83 553.16,58.77 554,55.84 554.84,53.08 555.68,50.49 556.52,48.12 557.35,45.97 558.19,44.06 559.03,42.42 559.87,41.05 560.71,39.96 561.55,39.17 562.38,38.68 563.22,38.5 564.06,38.63 564.9,39.06 565.74,39.79 566.58,40.82 567.42,42.14 568.25,43.74 569.09,45.6 569.93,47.71 570.77,50.04 571.61,52.59 572.45,55.32 573.28,58.22 574.12,61.26 574.96,64.42 575.8,67.66 576.64,70.97 577.48,74.31 578.32,77.65 579.15,80.97 579.99,84.24 580.83,87.43 581.67,90.52 582.51,93.47 583.35,96.27 584.18,98.88 585.02,101.29 585.86,103.48 586.7,105.43 587.54,107.12 588.38,108.54 589.22,109.68 590.05,110.52 590.89,111.06 591.73,111.29 592.57,111.22 593.41,110.84 594.25,110.15 595.08,109.17 595.92,107.9 596.76,106.35 597.6,104.53 598.44,102.47 599.28,100.17 600.12,97.66 600.95,94.95 601.79,92.08 602.63,89.06 603.47,85.92 604.31,82.69 605.15,79.39 605.98,76.06 606.82,72.71 607.66,69.39 608.5,66.11 609.34,62.9 610.18,59.8 611.02,56.82 611.85,54 612.69,51.35 613.53,48.9 614.37,46.67 615.21,44.68 616.05,42.94 616.88,41.48 617.72,40.3 618.56,39.41 619.4,38.81 620.24,38.53 621.08,38.55 621.92,38.88 622.75,39.51 623.59,40.44 624.43,41.66 625.27,43.17 626.11,44.94 626.95,46.96 627.78,49.22 628.62,51.7 629.46,54.37 630.3,57.22 631.14,60.22 631.98,63.34 632.82,66.55 633.65,69.84 634.49,73.17 635.33,76.52 636.17,79.85 637.01,83.14 637.85,86.36 638.68,89.48 639.52,92.49 640.36,95.34 641.2,98.02" fill="none" stroke="#1414f0" stroke-width="1.6" stroke-linejoin="round" />
<path d="M408.5,12.5H652.5V117.5H408.5ZM403.3,12.5H408.5M403.3,38.5H408.5M403.3,65.5H408.5M403.3,91.5H408.5M403.3,117.5H408.5M412.5,117.5V122.7M469.5,117.5V122.7M525.5,117.5V122.7M581.5,117.5V122.7M637.5,117.5V122.7M441.5,117.5V120.1M497.5,117.5V120.1M553.5,117.5V120.1M609.5,117.5V120.1M648.5,12.5H652.5M648.5,38.5H652.5M648.5,65.5H652.5M648.5,91.5H652.5M648.5,117.5H652.5" stroke="#878787" stroke-width="1" fill="none"/>
<text x="400.5" y="16" font-size="12.4" text-anchor="end" fill="#1a1a1a" >38</text>
<text x="400.5" y="42.25" font-size="12.4" text-anchor="end" fill="#1a1a1a" >34</text>
<text x="400.5" y="68.5" font-size="12.4" text-anchor="end" fill="#1a1a1a" >30</text>
<text x="400.5" y="94.75" font-size="12.4" text-anchor="end" fill="#1a1a1a" >26</text>
<text x="400.5" y="121" font-size="12.4" text-anchor="end" fill="#1a1a1a" >22</text>
<text x="656.6" y="16" font-size="12.4" text-anchor="start" fill="#1414f0" >20</text>
<text x="656.6" y="42.25" font-size="12.4" text-anchor="start" fill="#1414f0" >15</text>
<text x="656.6" y="68.5" font-size="12.4" text-anchor="start" fill="#1414f0" >10</text>
<text x="656.6" y="94.75" font-size="12.4" text-anchor="start" fill="#1414f0" >5</text>
<text x="656.6" y="121" font-size="12.4" text-anchor="start" fill="#1414f0" >0</text>
<path d="M437.5,4.3H456.8" stroke="#ec1c24" stroke-width="1.1"/>
<path d="M533.0,4.3H551.8" stroke="#1414f0" stroke-width="1.1"/>
<text x="464.6" y="8" font-size="10.7" text-anchor="start" fill="#1a1a1a" >Humidity</text>
<text x="552.8" y="8" font-size="10.7" text-anchor="start" fill="#1a1a1a" >Temperature</text>
<path d="M43.5,168.5V273.5M71.5,168.5V273.5M99.5,168.5V273.5M127.5,168.5V273.5M156.5,168.5V273.5M184.5,168.5V273.5M212.5,168.5V273.5M240.5,168.5V273.5M268.5,168.5V273.5M39.5,203.5H282.5M39.5,238.5H282.5M39.5,185.5H282.5M39.5,220.5H282.5M39.5,255.5H282.5" stroke="#d8d8d8" stroke-width="0.9" stroke-dasharray="1 1.1" fill="none"/>
<polyline points="42.8,227.87 43.4,227.09 44,227.51 44.6,227.48 45.2,227.94 45.8,228.4 46.4,233.85 47,240.18 47.6,241.6 48.2,243.48 48.8,245.52 49.4,246.61 50,247.37 50.6,248.72 51.2,251.3 51.8,254.28 52.4,256.31 53,258.6 53.6,260.24 54.2,260.9 54.8,260.25 55.4,259.36 56,258.94 56.6,258.34 57.2,258.16 57.8,258.32 58.4,257.66 59,257.99 59.6,256.92 60.2,256.91 60.8,255.72 61.4,256.18 62,255.34 62.6,254.96 63.2,252.36 63.8,251.29 64.4,250.59 65,250.75 65.6,250.03 66.2,249.11 66.8,249.29 67.4,248.3 68,247.38 68.6,245.8 69.2,245.85 69.8,244.7 70.4,243.32 71,241.56 71.6,241.04 72.2,240.66 72.8,240.5 73.4,239.11 74,238.12 74.6,237.03 75.2,237.29 75.8,237.16 76.4,236.55 77,234.5 77.6,233.01 78.2,231.5 78.8,230.75 79.4,229.89 80,228.34 80.6,225.19 81.2,222.96 81.8,220.69 82.4,217.41 83,211.37 83.6,205.96 84.2,200.56 84.8,193.6 85.4,184.24 86,175.19 86.6,172.75 87.2,172.29 87.8,172.44 88.4,173.3 89,173.3 89.6,173.59 90.2,174.66 90.8,176.79 91.4,178.51 92,182.22 92.6,185.09 93.2,188.13 93.8,189.95 94.4,193.64 95,196.68 95.6,200.11 96.2,202.17 96.8,204.19 97.4,206.12 98,208.78 98.6,210.49 99.2,212.62 99.8,214.46 100.4,217.4 101,220.12 101.6,222.77 102.2,224.56 102.8,226.44 103.4,227.92 104,229.84 104.6,231.28 105.2,232.19 105.8,232.12 106.4,232.59 107,233.04 107.6,233.77 108.2,234.92 108.8,235.91 109.4,237.17 110,237.16 110.6,237.42 111.2,236.71 111.8,237.2 112.4,236.22 113,236.7 113.6,236.05 114.2,236.69 114.8,236.62 115.4,236.59 116,235.92 116.6,235.21 117.2,234.43 117.8,233.73 118.4,232.85 119,231.59 119.6,230.88 120.2,229.61 120.8,228.97 121.4,227.19 122,226.15 122.6,225.33 123.2,224.17 123.8,222.74 124.4,221.12 125,219.77 125.6,218.5 126.2,217.81 126.8,217.33 127.4,216.13 128,215.12 128.6,214.12 129.2,212.9 129.8,211.38 130.4,209.58 131,209.28 131.6,207.04 132.2,206.29 132.8,204.8 133.4,204.92 134,203.94 134.6,202.2 135.2,200.97 135.8,199.61 136.4,199.6 137,198.96 137.6,198.18 138.2,196.66 138.8,195.51 139.4,194.25 140,194.04 140.6,192.99 141.2,192.45 141.8,191.49 142.4,190.26 143,189.47 143.6,188.38 144.2,188.85 144.8,188.99 145.4,188.5 146,186.99 146.6,187.19 147.2,188.54 147.8,190.04 148.4,191.8 149,192.9 149.6,194.18 150.2,194.89 150.8,196.73 151.4,199.22 152,201.02 152.6,202.08 153.2,202.91 153.8,204.97 154.4,206.33 155,208.01 155.6,209.3 156.2,211.53 156.8,213 157.4,213.81 158,214.97 158.6,216.43 159.2,218.01 159.8,219.51 160.4,220.6 161,222.17 161.6,223.07 162.2,224.51 162.8,225.15 163.4,226.91 164,228.23 164.6,229.79 165.2,230.04 165.8,230.87 166.4,230.81 167,231.96 167.6,232.34 168.2,233.46 168.8,234.03 169.4,234.6 170,235.93 170.6,235.97 171.2,234.99 171.8,233.34 172.4,233.07 173,233.73 173.6,234.73 174.2,234.09 174.8,232.55 175.4,230.92 176,229.85 176.6,229.11 177.2,228.57 177.8,225.65 178.4,222.91 179,219.34 179.6,216.06 180.2,212.32 180.8,209.18 181.4,208.59 182,207.46 182.6,206.48 183.2,206.63 183.8,207.2 184.4,207.58 185,205.92 185.6,204.37 186.2,202.18 186.8,201 187.4,199.67 188,198.53 188.6,196.51 189.2,194.6 189.8,192.78 190.4,191.78 191,190.34 191.6,189.73 192.2,188.54 192.8,189 193.4,188.74 194,188.96 194.6,188.1 195.2,188.95 195.8,189.21 196.4,188.82 197,187.93 197.6,187 198.2,186.32 198.8,185.82 199.4,184.76 200,183.6 200.6,182.35 201.2,181.89 201.8,181.73 202.4,182.41 203,183.96 203.6,185.53 204.2,187.53 204.8,188.86 205.4,191.04 206,192.35 206.6,194.9 207.2,196.89 207.8,199.09 208.4,200.99 209,202.76 209.6,204.52 210.2,206.01 210.8,207.8 211.4,209.75 212,211.55 212.6,212.73 213.2,213.83 213.8,214.18 214.4,215.14 215,216.31 215.6,218.69 216.2,220.73 216.8,221.92 217.4,222.25 218,223.07 218.6,224.43 219.2,226.16 219.8,226.81 220.4,227.16 221,227.55 221.6,228.15 222.2,229.62 222.8,230.78 223.4,232.64 224,233.61 224.6,234.59 225.2,234.34 225.8,234.3 226.4,233.96 227,233.57 227.6,232.76 228.2,232.21 228.8,232.99 229.4,233.16 230,232.79 230.6,231.93 231.2,231.68 231.8,231.14 232.4,231.17 233,230.1 233.6,230.29 234.2,229.26 234.8,228.67 235.4,227.16 236,225.73 236.6,224.66 237.2,223.76 237.8,222.57 238.4,220.89 239,219.46 239.6,217.84 240.2,216.84 240.8,215.36 241.4,214.19 242,213.1 242.6,211.47 243.2,209.8 243.8,208.49 244.4,207.16 245,205.51 245.6,203.15 246.2,200.97 246.8,199.26 247.4,197.13 248,196.1 248.6,194.71 249.2,192.97 249.8,191.21 250.4,189.96 251,189.71 251.6,188.5 252.2,187.95 252.8,186.59 253.4,186.21 254,184.77 254.6,184.36 255.2,182.46 255.8,182.88 256.4,183.17 257,185.24 257.6,186.22 258.2,188.05 258.8,188.72 259.4,190.56 260,192.34 260.6,193.78 261.2,193.96 261.8,195.09 262.4,197.02 263,199.82 263.6,201.3 264.2,202.91 264.8,203.69 265.4,205.17 266,206.06 266.6,206.91 267.2,206.94 267.8,208.45 268.4,209.52 269,210.52 269.6,210.78 270.2,211.62 270.8,213.21 271.4,213.53 272,214.29 272.6,215.13 273.2,216.93 273.8,218.26 274.4,219.59 275,220.02 275.6,220.42 276.2,221 276.8,222.76" fill="none" stroke="#c2c2c2" stroke-width="1.7" stroke-linejoin="round" />
<polyline points="43.2,231.41 43.8,233.73 44.4,236.31 45,239.21 45.6,242.3 46.2,244.13 46.8,246.6 47.4,248.28 48,250.02 48.6,251.21 49.2,252.39 49.8,254.07 50.4,254.87 51,255.95 51.6,256.68 52.2,257.65 52.8,257.79 53.4,258.16 54,258.77 54.6,257.72 55.2,257.18 55.8,256.6 56.4,255.89 57,255.31 57.6,256.08 58.2,255.77 58.8,254.23 59.4,253.12 60,250.71 60.6,250.21 61.2,249.05 61.8,248.54 62.4,247.7 63,246.33 63.6,244.78 64.2,242.53 64.8,239.29 65.4,236.06 66,233.61 66.6,231.54 67.2,230.18 67.8,228.43 68.4,226.14 69,222.71 69.6,220.43 70.2,218.41 70.8,216.44 71.4,215.5 72,213.18 72.6,210.26 73.2,208.03 73.8,205.17 74.4,203.05 75,201.24 75.6,199.27 76.2,197.25 76.8,196.71 77.4,195.79 78,194.71 78.6,193.73 79.2,191.28 79.8,190.24 80.4,189.31 81,189.86 81.6,189.32 82.2,188.9 82.8,189.61 83.4,188.49 84,190.36 84.6,190.98 85.2,191.34 85.8,191.8 86.4,192.1 87,193.01 87.6,193.66 88.2,196.06 88.8,197.06 89.4,197 90,198.64 90.6,200.29 91.2,201.62 91.8,204.86 92.4,206.37 93,207.59 93.6,208.73 94.2,209.71 94.8,212.08 95.4,214.06 96,216.72 96.6,220.17 97.2,222.77 97.8,224.94 98.4,227.15 99,229.37 99.6,231.22 100.2,234.17 100.8,237.78 101.4,239.45 102,241.59 102.6,243.55 103.2,244.77 103.8,245.78 104.4,247.81 105,249.15 105.6,250.43 106.2,252.87 106.8,253.59 107.4,254.29 108,255.81 108.6,255.69 109.2,255.73 109.8,256.3 110.4,255.63 111,256.8 111.6,257.2 112.2,256.32 112.8,256.43 113.4,254.55 114,254.9 114.6,254.92 115.2,254.52 115.8,254.73 116.4,253.02 117,251.25 117.6,249.86 118.2,247.92 118.8,245.82 119.4,243.59 120,241.96 120.6,240.05 121.2,238.19 121.8,236.15 122.4,233.83 123,231.68 123.6,230.08 124.2,228.66 124.8,225.54 125.4,223.54 126,220.05 126.6,217.06 127.2,215.13 127.8,212.97 128.4,211.99 129,210.5 129.6,208.38 130.2,206.1 130.8,203.55 131.4,201.5 132,200.01 132.6,198.03 133.2,196.47 133.8,195.82 134.4,194.38 135,193.2 135.6,192.57 136.2,191.06 136.8,190.5 137.4,189.74 138,188.61 138.6,187.71 139.2,187.76 139.8,188.79 140.4,189.84 141,190.96 141.6,191 142.2,190.86 142.8,191.34 143.4,192 144,192.49 144.6,194.23 145.2,195.68 145.8,197.43 146.4,199.41 147,200.45 147.6,201.85 148.2,203.56 148.8,205.01 149.4,207.01 150,208.58 150.6,211.15 151.2,213.27 151.8,215.18 152.4,217.54 153,219.4 153.6,221.9 154.2,225.56 154.8,228.59 155.4,229.71 156,232.48 156.6,234.05 157.2,235.3 157.8,238.44 158.4,240.4 159,241.9 159.6,244.29 160.2,246.25 160.8,247.64 161.4,249.45 162,250.38 162.6,251.82 163.2,252.94 163.8,254.56 164.4,256.94 165,258.18 165.6,258.86 166.2,258.97 166.8,258.23 167.4,257.83 168,257.66 168.6,256.86 169.2,256.64 169.8,255.61 170.4,255.93 171,255.95 171.6,255.23 172.2,254.48 172.8,252.67 173.4,251.47 174,249.92 174.6,248.44 175.2,247.71 175.8,245.57 176.4,243.56 177,241.5 177.6,239.2 178.2,236.82 178.8,234.56 179.4,232.95 180,230.65 180.6,229.24 181.2,226.76 181.8,224.16 182.4,221.06 183,218.32 183.6,215.71 184.2,213.17 184.8,211.71 185.4,209.46 186,206.98 186.6,205.5 187.2,203.23 187.8,201.15 188.4,200.47 189,198.21 189.6,197.02 190.2,195.7 190.8,193.66 191.4,192.25 192,191.42 192.6,191.04 193.2,191.37 193.8,190.79 194.4,189.84 195,189.49 195.6,189.02 196.2,189.71 196.8,190.14 197.4,190.45 198,191.07 198.6,191.57 199.2,191.25 199.8,191.56 200.4,192.77 201,194.51 201.6,196.46 202.2,198.52 202.8,199.7 203.4,200.16 204,202.04 204.6,203.62 205.2,205.16 205.8,207.23 206.4,209.16 207,210.88 207.6,213.72 208.2,215.74 208.8,218.37 209.4,220.62 210,222.87 210.6,225.09 211.2,227.44 211.8,230.09 212.4,233.14 213,235.3 213.6,236.21 214.2,238.54 214.8,240.02 215.4,241.91 216,244.84 216.6,246.7 217.2,248.6 217.8,251.02 218.4,251.51 219,251.52 219.6,253.01 220.2,254.18 220.8,256.22 221.4,257.71 222,257.27 222.6,257.46 223.2,256.89 223.8,257.06 224.4,256.66 225,256.42 225.6,257.03 226.2,256.72 226.8,256.3 227.4,256.52 228,255.7 228.6,254.67 229.2,253.01 229.8,251.5 230.4,250.07 231,248.24 231.6,248.01 232.2,245.28 232.8,242.71 233.4,240.82 234,238.22 234.6,236.44 235.2,235.05 235.8,232.89 236.4,230.76 237,228.57 237.6,225.73 238.2,223.2 238.8,220.67 239.4,218.98 240,216.96 240.6,214.56 241.2,212.18 241.8,208.94 242.4,206.14 243,204.35 243.6,202.03 244.2,200.83 244.8,199.8 245.4,198.5 246,197.29 246.6,195.72 247.2,193.66 247.8,192.88 248.4,193.11 249,190.93 249.6,190.69 250.2,189.63 250.8,188.2 251.4,188.98 252,187.97 252.6,187.91 253.2,187.79 253.8,188.16 254.4,189.28 255,189.7 255.6,191.67 256.2,192.08 256.8,192.96 257.4,193.79 258,193.99 258.6,196.69 259.2,198.39 259.8,200.26 260.4,201.49 261,202.9 261.6,204.55 262.2,207.23 262.8,209.62 263.4,211.29 264,213.79 264.6,215.02 265.2,218.15 265.8,220.18 266.4,222.58 267,225.83 267.6,228.66 268.2,231.67 268.8,234.23 269.4,236 270,237.03 270.6,238.91 271.2,241.04 271.8,242.77" fill="none" stroke="#62adf0" stroke-width="2.2" stroke-linejoin="round" />
<polyline points="43.1,211.11 43.94,213.29 44.77,215.5 45.61,217.72 46.45,219.92 47.28,222.09 48.12,224.21 48.96,226.27 49.79,228.23 50.63,230.1 51.47,231.85 52.3,233.46 53.14,234.93 53.98,236.23 54.81,237.37 55.65,238.32 56.49,239.09 57.32,239.66 58.16,240.03 59,240.19 59.83,240.15 60.67,239.9 61.51,239.46 62.34,238.81 63.18,237.97 64.02,236.94 64.85,235.74 65.69,234.37 66.53,232.84 67.36,231.17 68.2,229.38 69.04,227.47 69.87,225.47 70.71,223.38 71.55,221.24 72.38,219.05 73.22,216.84 74.06,214.63 74.89,212.43 75.73,210.26 76.57,208.15 77.4,206.1 78.24,204.15 79.08,202.29 79.91,200.56 80.75,198.96 81.59,197.51 82.42,196.23 83.26,195.11 84.1,194.18 84.93,193.44 85.77,192.89 86.61,192.54 87.44,192.4 88.28,192.47 89.12,192.74 89.95,193.21 90.79,193.88 91.63,194.74 92.46,195.79 93.3,197.01 94.14,198.4 94.97,199.94 95.81,201.63 96.65,203.44 97.48,205.36 98.32,207.37 99.16,209.46 99.99,211.61 100.83,213.8 101.67,216.01 102.5,218.22 103.34,220.42 104.18,222.58 105.01,224.69 105.85,226.73 106.69,228.67 107.52,230.51 108.36,232.23 109.2,233.81 110.03,235.24 110.87,236.51 111.71,237.6 112.54,238.52 113.38,239.24 114.22,239.76 115.05,240.08 115.89,240.2 116.73,240.11 117.56,239.82 118.4,239.33 119.24,238.63 120.07,237.75 120.91,236.68 121.75,235.44 122.58,234.03 123.42,232.47 124.26,230.77 125.09,228.95 125.93,227.02 126.77,224.99 127.6,222.9 128.44,220.74 129.28,218.55 130.11,216.33 130.95,214.12 131.79,211.93 132.62,209.77 133.46,207.67 134.3,205.64 135.13,203.71 135.97,201.88 136.81,200.18 137.64,198.62 138.48,197.2 139.32,195.95 140.15,194.88 140.99,193.99 141.83,193.29 142.66,192.79 143.5,192.49 144.34,192.4 145.17,192.51 146.01,192.83 146.85,193.34 147.68,194.06 148.52,194.96 149.36,196.05 150.19,197.32 151.03,198.74 151.87,200.32 152.7,202.03 153.54,203.87 154.38,205.81 155.21,207.84 156.05,209.95 156.89,212.11 157.72,214.31 158.56,216.52 159.4,218.73 160.23,220.92 161.07,223.07 161.9,225.17 162.74,227.18 163.58,229.11 164.41,230.92 165.25,232.61 166.09,234.16 166.92,235.55 167.76,236.78 168.6,237.83 169.43,238.7 170.27,239.37 171.11,239.85 171.94,240.13 172.78,240.2 173.62,240.06 174.45,239.72 175.29,239.18 176.13,238.45 176.96,237.52 177.8,236.41 178.64,235.13 179.47,233.68 180.31,232.09 181.15,230.36 181.98,228.51 182.82,226.56 183.66,224.52 184.49,222.4 185.33,220.24 186.17,218.04 187,215.82 187.84,213.61 188.68,211.43 189.51,209.28 190.35,207.2 191.19,205.19 192.02,203.28 192.86,201.48 193.7,199.81 194.53,198.28 195.37,196.9 196.21,195.69 197.04,194.66 197.88,193.81 198.72,193.16 199.55,192.71 200.39,192.45 201.23,192.41 202.06,192.57 202.9,192.93 203.74,193.49 204.57,194.25 205.41,195.2 206.25,196.33 207.08,197.63 207.92,199.09 208.76,200.7 209.59,202.44 210.43,204.31 211.27,206.27 212.1,208.32 212.94,210.44 213.78,212.61 214.61,214.82 215.45,217.03 216.29,219.24 217.12,221.42 217.96,223.56 218.8,225.64 219.63,227.64 220.47,229.53 221.31,231.32 222.14,232.98 222.98,234.49 223.82,235.85 224.65,237.04 225.49,238.05 226.33,238.87 227.16,239.5 228,239.93 228.84,240.16 229.67,240.18 230.51,240 231.35,239.62 232.18,239.03 233.02,238.25 233.86,237.28 234.69,236.13 235.53,234.81 236.37,233.33 237.2,231.71 238.04,229.95 238.88,228.07 239.71,226.1 240.55,224.04 241.39,221.91 242.22,219.73 243.06,217.53 243.9,215.31 244.73,213.11 245.57,210.93 246.41,208.8 247.24,206.73 248.08,204.74 248.92,202.85 249.75,201.08 250.59,199.44 251.43,197.95 252.26,196.61 253.1,195.44 253.94,194.45 254.77,193.65 255.61,193.04 256.45,192.63 257.28,192.43 258.12,192.43 258.96,192.63 259.79,193.04 260.63,193.65 261.47,194.45 262.3,195.44 263.14,196.61 263.98,197.95 264.81,199.45 265.65,201.09 266.49,202.86 267.32,204.75 268.16,206.74 269,208.81 269.83,210.94 270.67,213.12 271.51,215.33 272.34,217.54 273.18,219.74 274.02,221.92 274.85,224.05 275.69,226.11 276.53,228.08 277.36,229.96 278.2,231.71" fill="none" stroke="#ec1c24" stroke-width="1.6" stroke-linejoin="round" />
<polyline points="43.1,229.05 43.94,231.9 44.78,234.68 45.61,237.36 46.45,239.93 47.29,242.36 48.13,244.63 48.97,246.71 49.8,248.6 50.64,250.27 51.48,251.71 52.32,252.91 53.16,253.85 54,254.54 54.83,254.95 55.67,255.1 56.51,254.97 57.35,254.58 58.19,253.91 59.02,252.98 59.86,251.8 60.7,250.38 61.54,248.72 62.38,246.85 63.21,244.78 64.05,242.52 64.89,240.1 65.73,237.54 66.57,234.86 67.4,232.09 68.24,229.24 69.08,226.35 69.92,223.44 70.76,220.52 71.6,217.64 72.43,214.81 73.27,212.06 74.11,209.42 74.95,206.9 75.79,204.52 76.62,202.32 77.46,200.3 78.3,198.49 79.14,196.9 79.98,195.54 80.81,194.43 81.65,193.57 82.49,192.98 83.33,192.66 84.17,192.61 85,192.84 85.84,193.33 86.68,194.09 87.52,195.11 88.36,196.37 89.2,197.88 90.03,199.62 90.87,201.56 91.71,203.7 92.55,206.01 93.39,208.48 94.22,211.09 95.06,213.8 95.9,216.61 96.74,219.47 97.58,222.38 98.41,225.29 99.25,228.2 100.09,231.06 100.93,233.87 101.77,236.58 102.6,239.19 103.44,241.66 104.28,243.98 105.12,246.12 105.96,248.06 106.8,249.8 107.63,251.31 108.47,252.58 109.31,253.6 110.15,254.36 110.99,254.86 111.82,255.09 112.66,255.04 113.5,254.72 114.34,254.13 115.18,253.28 116.01,252.18 116.85,250.82 117.69,249.23 118.53,247.42 119.37,245.41 120.2,243.2 121.04,240.83 121.88,238.31 122.72,235.67 123.56,232.92 124.4,230.09 125.23,227.21 126.07,224.3 126.91,221.38 127.75,218.49 128.59,215.64 129.42,212.87 130.26,210.19 131.1,207.63 131.94,205.21 132.78,202.95 133.61,200.87 134.45,199 135.29,197.34 136.13,195.91 136.97,194.73 137.8,193.8 138.64,193.13 139.48,192.73 140.32,192.6 141.16,192.74 142,193.16 142.83,193.84 143.67,194.78 144.51,195.97 145.35,197.41 146.19,199.08 147.02,200.96 147.86,203.05 148.7,205.31 149.54,207.74 150.38,210.31 151.21,212.99 152.05,215.77 152.89,218.62 153.73,221.51 154.57,224.43 155.4,227.34 156.24,230.22 157.08,233.05 157.92,235.79 158.76,238.43 159.6,240.94 160.43,243.31 161.27,245.5 162.11,247.51 162.95,249.31 163.79,250.89 164.62,252.23 165.46,253.33 166.3,254.17 167.14,254.74 167.98,255.05 168.81,255.08 169.65,254.84 170.49,254.33 171.33,253.56 172.17,252.53 173,251.25 173.84,249.73 174.68,247.98 175.52,246.02 176.36,243.87 177.2,241.55 178.03,239.07 178.87,236.46 179.71,233.74 180.55,230.93 181.39,228.06 182.22,225.16 183.06,222.24 183.9,219.34 184.74,216.48 185.58,213.68 186.41,210.97 187.25,208.37 188.09,205.91 188.93,203.6 189.77,201.47 190.6,199.53 191.44,197.81 192.28,196.31 193.12,195.05 193.96,194.05 194.8,193.3 195.63,192.82 196.47,192.61 197.31,192.67 198.15,193.01 198.99,193.61 199.82,194.47 200.66,195.59 201.5,196.96 202.34,198.56 203.18,200.39 204.01,202.41 204.85,204.63 205.69,207.01 206.53,209.53 207.37,212.19 208.2,214.94 209.04,217.77 209.88,220.66 210.72,223.57 211.56,226.48 212.4,229.37 213.23,232.22 214.07,234.99 214.91,237.66 215.75,240.22 216.59,242.63 217.42,244.87 218.26,246.94 219.1,248.8 219.94,250.45 220.78,251.86 221.61,253.03 222.45,253.95 223.29,254.6 224.13,254.98 224.97,255.1 225.8,254.94 226.64,254.51 227.48,253.82 228.32,252.86 229.16,251.65 230,250.2 230.83,248.52 231.67,246.62 232.51,244.53 233.35,242.25 234.19,239.82 235.02,237.24 235.86,234.55 236.7,231.77 237.54,228.92 238.38,226.02 239.21,223.1 240.05,220.19 240.89,217.32 241.73,214.5 242.57,211.76 243.4,209.12 244.24,206.62 245.08,204.26 245.92,202.08 246.76,200.08 247.6,198.29 248.43,196.73 249.27,195.4 250.11,194.32 250.95,193.49 251.79,192.93 252.62,192.64 253.46,192.63 254.3,192.88 255.14,193.4 255.98,194.19 256.81,195.24 257.65,196.53 258.49,198.07 259.33,199.83 260.17,201.79 261,203.95 261.84,206.29 262.68,208.77 263.52,211.39 264.36,214.12 265.2,216.93 266.03,219.8 266.87,222.71 267.71,225.62 268.55,228.52 269.39,231.38 270.22,234.18 271.06,236.88 271.9,239.47" fill="none" stroke="#1414f0" stroke-width="1.6" stroke-linejoin="round" />
<path d="M39.5,168.5H282.5V273.5H39.5ZM34.3,168.5H39.5M34.3,203.5H39.5M34.3,238.5H39.5M34.3,273.5H39.5M36.9,185.5H39.5M36.9,220.5H39.5M36.9,255.5H39.5M43.5,273.5V278.7M99.5,273.5V278.7M156.5,273.5V278.7M212.5,273.5V278.7M268.5,273.5V278.7M71.5,273.5V276.1M127.5,273.5V276.1M184.5,273.5V276.1M240.5,273.5V276.1M278.5,168.5H282.5M278.5,203.5H282.5M278.5,238.5H282.5M278.5,273.5H282.5" stroke="#878787" stroke-width="1" fill="none"/>
<text x="31.5" y="171.7" font-size="12.4" text-anchor="end" fill="#1a1a1a" >31</text>
<text x="31.5" y="206.7" font-size="12.4" text-anchor="end" fill="#1a1a1a" >29</text>
<text x="31.5" y="241.7" font-size="12.4" text-anchor="end" fill="#1a1a1a" >27</text>
<text x="31.5" y="276.7" font-size="12.4" text-anchor="end" fill="#1a1a1a" >25</text>
<text x="286.6" y="171.7" font-size="12.4" text-anchor="start" fill="#1414f0" >18</text>
<text x="286.6" y="206.7" font-size="12.4" text-anchor="start" fill="#1414f0" >12</text>
<text x="286.6" y="241.7" font-size="12.4" text-anchor="start" fill="#1414f0" >6</text>
<text x="286.6" y="276.7" font-size="12.4" text-anchor="start" fill="#1414f0" >0</text>
<path d="M69.4,158.7H88.8" stroke="#ec1c24" stroke-width="1.1"/>
<path d="M165.0,158.7H184.1" stroke="#1414f0" stroke-width="1.1"/>
<text x="94" y="162.4" font-size="10.7" text-anchor="start" fill="#1a1a1a" >Humidity</text>
<text x="190.2" y="162.4" font-size="10.7" text-anchor="start" fill="#1a1a1a" >Temperature</text>
<path d="M412.5,168.5V273.5M441.5,168.5V273.5M469.5,168.5V273.5M497.5,168.5V273.5M525.5,168.5V273.5M553.5,168.5V273.5M581.5,168.5V273.5M609.5,168.5V273.5M637.5,168.5V273.5M408.5,203.5H652.5M408.5,238.5H652.5M408.5,185.5H652.5M408.5,220.5H652.5M408.5,255.5H652.5" stroke="#d8d8d8" stroke-width="0.9" stroke-dasharray="1 1.1" fill="none"/>
<polyline points="412.5,210.22 413.1,213.87 413.7,216.25 414.3,219.27 414.9,222.19 415.5,225.34 416.1,228.53 416.7,230.73 417.3,233.5 417.9,235.32 418.5,237.11 419.1,239.91 419.7,242.95 420.3,246.44 420.9,249.67 421.5,252.82 422.1,255.83 422.7,257.51 423.3,259.28 423.9,260.38 424.5,261.69 425.1,263.22 425.7,264.57 426.3,266.03 426.9,266.11 427.5,266.16 428.1,266.89 428.7,267.81 429.3,268.41 429.9,268.68 430.5,269.16 431.1,269.75 431.7,269.35 432.3,269.22 432.9,269.11 433.5,268.49 434.1,267.59 434.7,267.19 435.3,266.74 435.9,266.66 436.5,265.47 437.1,264.33 437.7,262.41 438.3,261.11 438.9,260.51 439.5,260.29 440.1,259.96 440.7,258.89 441.3,257.67 441.9,256.16 442.5,254.81 443.1,254.23 443.7,252.69 444.3,251.35 444.9,249.37 445.5,248.39 446.1,246.09 446.7,243.6 447.3,240.98 447.9,239.19 448.5,236.9 449.1,233.6 449.7,228.69 450.3,225.04 450.9,220.14 451.5,215.73 452.1,210.42 452.7,205.8 453.3,201.19 453.9,197.77 454.5,194.43 455.1,191.75 455.7,188.24 456.3,188.6 456.9,188.3 457.5,188.82 458.1,189.63 458.7,190.52 459.3,191.27 459.9,191.64 460.5,192.5 461.1,193.92 461.7,194.9 462.3,197.74 462.9,198.9 463.5,200.88 464.1,202.14 464.7,204.05 465.3,205.22 465.9,206.64 466.5,208.65 467.1,210.73 467.7,212.72 468.3,213.75 468.9,215.85 469.5,218.15 470.1,220.79 470.7,222.68 471.3,223.48 471.9,224.64 472.5,226.33 473.1,227.99 473.7,230.01 474.3,230.92 474.9,232.61 475.5,233.79 476.1,234.7 476.7,235.87 477.3,237.34 477.9,239.64 478.5,241.15 479.1,242.74 479.7,243.75 480.3,244.56 480.9,245.63 481.5,247.59 482.1,248.94 482.7,250.35 483.3,250.75 483.9,251.55 484.5,251.16 485.1,251.37 485.7,252.74 486.3,253.53 486.9,254.09 487.5,254.17 488.1,255.07 488.7,255.51 489.3,254.61 489.9,253.65 490.5,252.79 491.1,252.61 491.7,252.23 492.3,251.1 492.9,247.52 493.5,243.97 494.1,240.16 494.7,237.6 495.3,236.88 495.9,235.89 496.5,233.13 497.1,230.58 497.7,228.58 498.3,227.15 498.9,225.84 499.5,224.74 500.1,223.35 500.7,221.95 501.3,220.2 501.9,218.25 502.5,216.18 503.1,213.91 503.7,212.3 504.3,209.98 504.9,208.57 505.5,206.64 506.1,204.78 506.7,202.82 507.3,201.13 507.9,199.94 508.5,199.24 509.1,197.72 509.7,196.78 510.3,195.98 510.9,195.36 511.5,193.31 512.1,191.85 512.7,190.55 513.3,190.33 513.9,188.87 514.5,187.94 515.1,188.44 515.7,188.99 516.3,189.64 516.9,189.37 517.5,189.61 518.1,189.9 518.7,191.7 519.3,192.53 519.9,193.26 520.5,193.75 521.1,194.66 521.7,195.3 522.3,196.2 522.9,198.48 523.5,200.35 524.1,202.97 524.7,204.69 525.3,206.6 525.9,208.57 526.5,209.59 527.1,211.84 527.7,213.26 528.3,216.02 528.9,218.07 529.5,220.44 530.1,222.44 530.7,223.93 531.3,225.15 531.9,226.29 532.5,228.65 533.1,230.58 533.7,232.67 534.3,234.24 534.9,236.16 535.5,237.46 536.1,238.13 536.7,240.04 537.3,241.71 537.9,243.4 538.5,244.38 539.1,246.12 539.7,246.47 540.3,247.21 540.9,247.66 541.5,248.97 542.1,249.39 542.7,249.51 543.3,248.1 543.9,247.34 544.5,246.82 545.1,247.23 545.7,246.51 546.3,245.98 546.9,243.8 547.5,241.62 548.1,240.07 548.7,238.22 549.3,236.66 549.9,234.87 550.5,233.79 551.1,232.51 551.7,230.47 552.3,228.02 552.9,226.11 553.5,224.79 554.1,223.24 554.7,221.74 555.3,219.75 555.9,216.92 556.5,215.04 557.1,213.25 557.7,212.56 558.3,210.2 558.9,207.94 559.5,206.31 560.1,205.18 560.7,204.31 561.3,202.48 561.9,201.23 562.5,200.37 563.1,199.58 563.7,198.76 564.3,197.35 564.9,196.43 565.5,194.88 566.1,193.5 566.7,192.14 567.3,191.92 567.9,191.73 568.5,190.75 569.1,189.06 569.7,187.83 570.3,187.79 570.9,187.93 571.5,188.62 572.1,188.84 572.7,189.46 573.3,189.7 573.9,190.21 574.5,191.19 575.1,192.22 575.7,193.67 576.3,194.09 576.9,195.02 577.5,195.18 578.1,197.42 578.7,199.42 579.3,200.96 579.9,202.11 580.5,203.08 581.1,204.37 581.7,205.73 582.3,208 582.9,210.67 583.5,212.69 584.1,214.58 584.7,216.67 585.3,219.4 585.9,221.52 586.5,222.84 587.1,223.69 587.7,225.46 588.3,227.5 588.9,229.71 589.5,231.32 590.1,233.1 590.7,235.11 591.3,237.11 591.9,238.56 592.5,240.68 593.1,242.47 593.7,244.2 594.3,245.2 594.9,246.76 595.5,247.29 596.1,247.58 596.7,247.44 597.3,248.01 597.9,249.07 598.5,249.8 599.1,249.5 599.7,248.6 600.3,247.92 600.9,247.72 601.5,246.95 602.1,245.86 602.7,243.14 603.3,241.23 603.9,239.85 604.5,238.65 605.1,237.25 605.7,235.31 606.3,233.67 606.9,231.91 607.5,229.77 608.1,227.89 608.7,226.01 609.3,224.46 609.9,222.84 610.5,220.85 611.1,218.82 611.7,216.9 612.3,215.62 612.9,213.62 613.5,211.4 614.1,209.23 614.7,207.97 615.3,206.48 615.9,205.11 616.5,202.96 617.1,201.51 617.7,199.17 618.3,198.13 618.9,196.18 619.5,195.57 620.1,194.09 620.7,193.75 621.3,192.31 621.9,192.82 622.5,191.85 623.1,191.61 623.7,189.77 624.3,189.01 624.9,188.71 625.5,188.45 626.1,187.7 626.7,187.5 627.3,187.79 627.9,189.22 628.5,189.78 629.1,190.42 629.7,190.8 630.3,192.69 630.9,193.8 631.5,194.09 632.1,193.96 632.7,195.35 633.3,197.23 633.9,198.63 634.5,199.58 635.1,200.99 635.7,203.25 636.3,205.36 636.9,207.66 637.5,210.24 638.1,211.36 638.7,213.23 639.3,214.7 639.9,216.99 640.5,219.18 641.1,220.79 641.7,222.68 642.3,224.95 642.9,227.55 643.5,230.31 644.1,232.2 644.7,233.62 645.3,235.81 645.9,237.18 646.5,239.49 647.1,240.98 647.7,242.84" fill="none" stroke="#c2c2c2" stroke-width="1.7" stroke-linejoin="round" />
<polyline points="412.3,212.87 412.9,216.63 413.5,219.33 414.1,222.18 414.7,224.49 415.3,226.94 415.9,228.77 416.5,231.45 417.1,231.86 417.7,233.23 418.3,234.45 418.9,236.32 419.5,239.27 420.1,242.13 420.7,244.71 421.3,246.79 421.9,247.5 422.5,247.5 423.1,247.5 423.7,247.5 424.3,247.5 424.9,247.5 425.5,247.5 426.1,247.5 426.7,247.5 427.3,247.5 427.9,247.5 428.5,247.5 429.1,247.5 429.7,247.5 430.3,247.5 430.9,247.5 431.5,247.5 432.1,246.13 432.7,244.89 433.3,243.73 433.9,241.15 434.5,241.17 435.1,238.68 435.7,236.12 436.3,234.07 436.9,229.9 437.5,228.34 438.1,226.83 438.7,224.08 439.3,222.85 439.9,219.73 440.5,216.39 441.1,214.88 441.7,211.83 442.3,208.94 442.9,206.51 443.5,203.48 444.1,200.45 444.7,198.8 445.3,197.15 445.9,194.47 446.5,192.15 447.1,189.76 447.7,188.29 448.3,186.71 448.9,185.76 449.5,183.98 450.1,182.09 450.7,180.75 451.3,179.43 451.9,178.2 452.5,176.7 453.1,177.04 453.7,176.65 454.3,176.06 454.9,176.72 455.5,175.77 456.1,176.19 456.7,176.6 457.3,176.68 457.9,177.43 458.5,177.55 459.1,178.85 459.7,181.16 460.3,182.87 460.9,184.68 461.5,186.21 462.1,187.68 462.7,190.14 463.3,192.24 463.9,194.49 464.5,196.44 465.1,198.21 465.7,199.97 466.3,203.95 466.9,206.48 467.5,208.52 468.1,211.34 468.7,213.29 469.3,216.05 469.9,219.32 470.5,222.47 471.1,224.44 471.7,227.31 472.3,229.34 472.9,231.56 473.5,234.2 474.1,235.33 474.7,237.92 475.3,240.53 475.9,241.24 476.5,243.06 477.1,244.93 477.7,246.38 478.3,248.56 478.9,250.2 479.5,250.79 480.1,251.13 480.7,251.82 481.3,252.57 481.9,253.45 482.5,254.37 483.1,254.87 483.7,254.39 484.3,254.11 484.9,254.47 485.5,253.65 486.1,252.8 486.7,252.17 487.3,249.07 487.9,246.79 488.5,245.91 489.1,244.22 489.7,243.7 490.3,243.54 490.9,241.7 491.5,238.75 492.1,236.52 492.7,233.41 493.3,229.91 493.9,227.78 494.5,224.3 495.1,221.79 495.7,219.7 496.3,217.08 496.9,215.19 497.5,212.67 498.1,210.15 498.7,207.74 499.3,205.25 499.9,203.48 500.5,201.7 501.1,199.53 501.7,197.4 502.3,195.31 502.9,192.85 503.5,190.83 504.1,188.32 504.7,186.33 505.3,185.1 505.9,183.15 506.5,182.71 507.1,181.05 507.7,179.89 508.3,179.89 508.9,178.49 509.5,177.8 510.1,176.96 510.7,175.66 511.3,175 511.9,175.74 512.5,174.96 513.1,176.07 513.7,176.87 514.3,177.75 514.9,179.51 515.5,181.21 516.1,182.76 516.7,182.87 517.3,186.11 517.9,187.07 518.5,189.11 519.1,192.1 519.7,192.68 520.3,194.95 520.9,196.89 521.5,200.18 522.1,202.38 522.7,204.96 523.3,208.38 523.9,209.79 524.5,213.04 525.1,215.04 525.7,216.52 526.3,218.8 526.9,221.41 527.5,224.63 528.1,227.11 528.7,230.34 529.3,231.75 529.9,233.61 530.5,236.51 531.1,237.18 531.7,239.84 532.3,241.48 532.9,242.22 533.5,245.07 534.1,246.39 534.7,248.01 535.3,249.74 535.9,250.14 536.5,250.27 537.1,250.7 537.7,250.88 538.3,251.35 538.9,252.34 539.5,252.83 540.1,253.36 540.7,253.38 541.3,252.59 541.9,252.01 542.5,251.54 543.1,250.21 543.7,249.01 544.3,246.85 544.9,244.75 545.5,243.22 546.1,242.62 546.7,241.86 547.3,239.45 547.9,237.96 548.5,234.82 549.1,231.18 549.7,229.61 550.3,226.58 550.9,224.4 551.5,222.95 552.1,220.03 552.7,218.49 553.3,215.86 553.9,212.72 554.5,209.73 555.1,207.55 555.7,204.64 556.3,202.59 556.9,201.08 557.5,198.15 558.1,195.66 558.7,192.36 559.3,190.22 559.9,187.16 560.5,185.78 561.1,186.08 561.7,184.12 562.3,183.58 562.9,181.78 563.5,180.91 564.1,179.86 564.7,178.72 565.3,178.31 565.9,175.99 566.5,176.16 567.1,175.58 567.7,175.15 568.3,175.33 568.9,175.08 569.5,175.82 570.1,177.1 570.7,177.96 571.3,179.03 571.9,181.26 572.5,182.55 573.1,185.13 573.7,186.87 574.3,187.89 574.9,189.63 575.5,190.1 576.1,192.13 576.7,194.53 577.3,197.64 577.9,201.36 578.5,203.73 579.1,205.62 579.7,206.99 580.3,209.14 580.9,212.29 581.5,215.09 582.1,217.82 582.7,220.41 583.3,222.59 583.9,225.18 584.5,227.86 585.1,230.15 585.7,232.08 586.3,233.7 586.9,234.77 587.5,236.82 588.1,239.16 588.7,240.92 589.3,244.48 589.9,246.51 590.5,248.65 591.1,250.32 591.7,250.63 592.3,251.2 592.9,251.66 593.5,253.06 594.1,253.22 594.7,253.31 595.3,252.11 595.9,251.27 596.5,251.93 597.1,251.95 597.7,253.43 598.3,253.16 598.9,251.69 599.5,250.01 600.1,247.87 600.7,246.99 601.3,245.14 601.9,243.44 602.5,241.62 603.1,238.85 603.7,237.87 604.3,236.02 604.9,233.84 605.5,231.74 606.1,229.1 606.7,227.55 607.3,224.49 607.9,221.21 608.5,217.9 609.1,214.6 609.7,212.7 610.3,211.2 610.9,209.49 611.5,207.18 612.1,203.84 612.7,200.87 613.3,198.57 613.9,195.65 614.5,194.03 615.1,192 615.7,190 616.3,188.23 616.9,185.86 617.5,184.17 618.1,182.21 618.7,181.51 619.3,180.63 619.9,179.44 620.5,178.23 621.1,176.67 621.7,177.1 622.3,175.42 622.9,175.5 623.5,175.14 624.1,174.23 624.7,174.92 625.3,175.19 625.9,175.85 626.5,176.94 627.1,179.33 627.7,179.89 628.3,180.9 628.9,182.69 629.5,184.59 630.1,186.92 630.7,188.55 631.3,189.25 631.9,190.82 632.5,193.75 633.1,196.84 633.7,199.21 634.3,201.64 634.9,202.62 635.5,204.82 636.1,207.64 636.7,209.34 637.3,212.76 637.9,215.17 638.5,218.07 639.1,221.4 639.7,224.15 640.3,227.67 640.9,229.84" fill="none" stroke="#62adf0" stroke-width="2.2" stroke-linejoin="round" />
<polyline points="412.3,206.32 413.14,208.78 413.98,211.38 414.81,214.11 415.65,216.92 416.49,219.81 417.33,222.75 418.16,225.71 419,228.65 419.84,231.57 420.68,234.43 421.51,237.2 422.35,239.86 423.19,242.39 424.03,244.77 424.87,246.97 425.7,248.97 426.54,250.76 427.38,252.32 428.22,253.64 429.05,254.7 429.89,255.5 430.73,256.03 431.57,256.28 432.41,256.25 433.24,255.94 434.08,255.36 434.92,254.51 435.76,253.39 436.59,252.02 437.43,250.41 438.27,248.58 439.11,246.53 439.94,244.29 440.78,241.88 441.62,239.32 442.46,236.63 443.3,233.84 444.13,230.97 444.97,228.05 445.81,225.1 446.65,222.14 447.48,219.21 448.32,216.34 449.16,213.53 450,210.84 450.84,208.26 451.67,205.84 452.51,203.58 453.35,201.51 454.19,199.66 455.02,198.03 455.86,196.63 456.7,195.49 457.54,194.61 458.37,194 459.21,193.67 460.05,193.61 460.89,193.83 461.73,194.33 462.56,195.11 463.4,196.14 464.24,197.44 465.08,198.97 465.91,200.74 466.75,202.72 467.59,204.91 468.43,207.27 469.27,209.78 470.1,212.43 470.94,215.2 471.78,218.05 472.62,220.96 473.45,223.9 474.29,226.86 475.13,229.8 475.97,232.69 476.8,235.52 477.64,238.25 478.48,240.87 479.32,243.34 480.16,245.65 480.99,247.78 481.83,249.7 482.67,251.4 483.51,252.87 484.34,254.09 485.18,255.05 486.02,255.74 486.86,256.16 487.7,256.3 488.53,256.16 489.37,255.75 490.21,255.06 491.05,254.1 491.88,252.89 492.72,251.42 493.56,249.72 494.4,247.8 495.23,245.68 496.07,243.37 496.91,240.9 497.75,238.29 498.59,235.55 499.42,232.73 500.26,229.83 501.1,226.9 501.94,223.94 502.77,220.99 503.61,218.08 504.45,215.23 505.29,212.47 506.12,209.81 506.96,207.29 507.8,204.93 508.64,202.75 509.48,200.76 510.31,198.99 511.15,197.45 511.99,196.16 512.83,195.12 513.66,194.34 514.5,193.84 515.34,193.61 516.18,193.67 517.02,194 517.85,194.6 518.69,195.48 519.53,196.62 520.37,198.01 521.2,199.64 522.04,201.49 522.88,203.55 523.72,205.81 524.55,208.23 525.39,210.8 526.23,213.5 527.07,216.3 527.91,219.18 528.74,222.11 529.58,225.06 530.42,228.01 531.26,230.94 532.09,233.81 532.93,236.6 533.77,239.29 534.61,241.85 535.45,244.27 536.28,246.51 537.12,248.55 537.96,250.39 538.8,252 539.63,253.38 540.47,254.49 541.31,255.35 542.15,255.94 542.98,256.25 543.82,256.28 544.66,256.03 545.5,255.51 546.34,254.72 547.17,253.66 548.01,252.34 548.85,250.78 549.69,249 550.52,246.99 551.36,244.8 552.2,242.42 553.04,239.89 553.88,237.23 554.71,234.46 555.55,231.6 556.39,228.69 557.23,225.74 558.06,222.79 558.9,219.85 559.74,216.96 560.58,214.14 561.41,211.41 562.25,208.81 563.09,206.35 563.93,204.06 564.77,201.95 565.6,200.04 566.44,198.36 567.28,196.92 568.12,195.72 568.95,194.78 569.79,194.11 570.63,193.72 571.47,193.6 572.3,193.76 573.14,194.2 573.98,194.91 574.82,195.89 575.66,197.13 576.49,198.62 577.33,200.34 578.17,202.27 579.01,204.41 579.84,206.74 580.68,209.22 581.52,211.84 582.36,214.59 583.2,217.42 584.03,220.32 584.87,223.26 585.71,226.22 586.55,229.16 587.38,232.07 588.22,234.91 589.06,237.67 589.9,240.31 590.73,242.82 591.57,245.16 592.41,247.33 593.25,249.3 594.09,251.05 594.92,252.57 595.76,253.84 596.6,254.86 597.44,255.61 598.27,256.09 599.11,256.29 599.95,256.22 600.79,255.86 601.63,255.23 602.46,254.33 603.3,253.17 604.14,251.76 604.98,250.11 605.81,248.24 606.65,246.16 607.49,243.89 608.33,241.45 609.16,238.87 610,236.16 610.84,233.35 611.68,230.47 612.52,227.54 613.35,224.59 614.19,221.63 615.03,218.71 615.87,215.85 616.7,213.06 617.54,210.38 618.38,207.83 619.22,205.43 620.06,203.21 620.89,201.18 621.73,199.36 622.57,197.77 623.41,196.42 624.24,195.32 625.08,194.49 625.92,193.93 626.76,193.64 627.59,193.63 628.43,193.9 629.27,194.45 630.11,195.27 630.95,196.35 631.78,197.68 632.62,199.26 633.46,201.07 634.3,203.09 635.13,205.3 635.97,207.69 636.81,210.23 637.65,212.9 638.49,215.68 639.32,218.55 640.16,221.46 641,224.41 641.84,227.37 642.67,230.3 643.51,233.19 644.35,236 645.19,238.71 646.02,241.31 646.86,243.75 647.7,246.03" fill="none" stroke="#ec1c24" stroke-width="1.6" stroke-linejoin="round" />
<polyline points="412.3,210.53 413.14,213.86 413.98,217.2 414.82,220.54 415.65,223.83 416.49,227.05 417.33,230.18 418.17,233.18 419.01,236.03 419.85,238.7 420.68,241.17 421.52,243.42 422.36,245.43 423.2,247.18 424.04,248.65 424.88,249.84 425.72,250.72 426.55,251.31 427.39,251.58 428.23,251.54 429.07,251.18 429.91,250.52 430.75,249.55 431.58,248.29 432.42,246.74 433.26,244.92 434.1,242.84 434.94,240.53 435.78,238.01 436.62,235.29 437.45,232.4 438.29,229.36 439.13,226.21 439.97,222.96 440.81,219.65 441.65,216.31 442.48,212.97 443.32,209.65 444.16,206.39 445,203.21 445.84,200.14 446.68,197.21 447.52,194.45 448.35,191.87 449.19,189.51 450.03,187.37 450.87,185.49 451.71,183.87 452.55,182.54 453.38,181.49 454.22,180.75 455.06,180.32 455.9,180.2 456.74,180.4 457.58,180.9 458.42,181.72 459.25,182.83 460.09,184.23 460.93,185.91 461.77,187.86 462.61,190.05 463.45,192.47 464.28,195.09 465.12,197.9 465.96,200.86 466.8,203.96 467.64,207.16 468.48,210.44 469.32,213.77 470.15,217.11 470.99,220.45 471.83,223.74 472.67,226.97 473.51,230.1 474.35,233.1 475.18,235.95 476.02,238.63 476.86,241.11 477.7,243.36 478.54,245.38 479.38,247.13 480.22,248.61 481.05,249.81 481.89,250.7 482.73,251.3 483.57,251.58 484.41,251.54 485.25,251.2 486.08,250.54 486.92,249.58 487.76,248.32 488.6,246.78 489.44,244.97 490.28,242.9 491.12,240.6 491.95,238.08 492.79,235.36 493.63,232.48 494.47,229.44 495.31,226.29 496.15,223.05 496.98,219.75 497.82,216.41 498.66,213.06 499.5,209.74 500.34,206.48 501.18,203.3 502.02,200.23 502.85,197.29 503.69,194.52 504.53,191.94 505.37,189.57 506.21,187.43 507.05,185.54 507.88,183.91 508.72,182.57 509.56,181.52 510.4,180.77 511.24,180.33 512.08,180.2 512.92,180.39 513.75,180.88 514.59,181.69 515.43,182.79 516.27,184.19 517.11,185.86 517.95,187.8 518.78,189.99 519.62,192.4 520.46,195.02 521.3,197.82 522.14,200.78 522.98,203.87 523.82,207.07 524.65,210.35 525.49,213.68 526.33,217.02 527.17,220.36 528.01,223.65 528.85,226.88 529.68,230.01 530.52,233.02 531.36,235.88 532.2,238.56 533.04,241.04 533.88,243.3 534.72,245.32 535.55,247.09 536.39,248.58 537.23,249.78 538.07,250.68 538.91,251.28 539.75,251.57 540.58,251.55 541.42,251.21 542.26,250.56 543.1,249.61 543.94,248.36 544.78,246.83 545.62,245.03 546.45,242.97 547.29,240.67 548.13,238.15 548.97,235.44 549.81,232.56 550.65,229.53 551.48,226.38 552.32,223.14 553.16,219.84 554,216.5 554.84,213.15 555.68,209.84 556.52,206.57 557.35,203.38 558.19,200.31 559.03,197.37 559.87,194.6 560.71,192.01 561.55,189.63 562.38,187.48 563.22,185.59 564.06,183.95 564.9,182.6 565.74,181.54 566.58,180.79 567.42,180.34 568.25,180.2 569.09,180.38 569.93,180.87 570.77,181.66 571.61,182.76 572.45,184.15 573.28,185.81 574.12,187.75 574.96,189.92 575.8,192.33 576.64,194.94 577.48,197.74 578.32,200.7 579.15,203.79 579.99,206.98 580.83,210.26 581.67,213.58 582.51,216.93 583.35,220.26 584.18,223.56 585.02,226.79 585.86,229.93 586.7,232.94 587.54,235.8 588.38,238.49 589.22,240.97 590.05,243.24 590.89,245.27 591.73,247.04 592.57,248.54 593.41,249.75 594.25,250.66 595.08,251.27 595.92,251.57 596.76,251.55 597.6,251.22 598.44,250.58 599.28,249.64 600.12,248.4 600.95,246.88 601.79,245.08 602.63,243.03 603.47,240.73 604.31,238.22 605.15,235.52 605.98,232.64 606.82,229.61 607.66,226.47 608.5,223.23 609.34,219.93 610.18,216.59 611.02,213.25 611.85,209.93 612.69,206.66 613.53,203.47 614.37,200.39 615.21,197.45 616.05,194.67 616.88,192.08 617.72,189.69 618.56,187.54 619.4,185.63 620.24,183.99 621.08,182.64 621.92,181.57 622.75,180.8 623.59,180.35 624.43,180.2 625.27,180.37 626.11,180.85 626.95,181.64 627.78,182.73 628.62,184.11 629.46,185.77 630.3,187.69 631.14,189.86 631.98,192.26 632.82,194.87 633.65,197.66 634.49,200.61 635.33,203.7 636.17,206.9 637.01,210.17 637.85,213.49 638.68,216.84 639.52,220.17 640.36,223.47 641.2,226.7" fill="none" stroke="#1414f0" stroke-width="1.6" stroke-linejoin="round" />
<path d="M408.5,168.5H652.5V273.5H408.5ZM403.3,168.5H408.5M403.3,203.5H408.5M403.3,238.5H408.5M403.3,273.5H408.5M405.9,185.5H408.5M405.9,220.5H408.5M405.9,255.5H408.5M412.5,273.5V278.7M469.5,273.5V278.7M525.5,273.5V278.7M581.5,273.5V278.7M637.5,273.5V278.7M441.5,273.5V276.1M497.5,273.5V276.1M553.5,273.5V276.1M609.5,273.5V276.1M648.5,168.5H652.5M648.5,203.5H652.5M648.5,238.5H652.5M648.5,273.5H652.5" stroke="#878787" stroke-width="1" fill="none"/>
<text x="400.5" y="171.7" font-size="12.4" text-anchor="end" fill="#1a1a1a" >40</text>
<text x="400.5" y="206.7" font-size="12.4" text-anchor="end" fill="#1a1a1a" >38</text>
<text x="400.5" y="241.7" font-size="12.4" text-anchor="end" fill="#1a1a1a" >36</text>
<text x="400.5" y="276.7" font-size="12.4" text-anchor="end" fill="#1a1a1a" >34</text>
<text x="656.6" y="171.7" font-size="12.4" text-anchor="start" fill="#1414f0" >14</text>
<text x="656.6" y="206.7" font-size="12.4" text-anchor="start" fill="#1414f0" >10</text>
<text x="656.6" y="241.7" font-size="12.4" text-anchor="start" fill="#1414f0" >6</text>
<text x="656.6" y="276.7" font-size="12.4" text-anchor="start" fill="#1414f0" >2</text>
<path d="M437.5,158.7H456.8" stroke="#ec1c24" stroke-width="1.1"/>
<path d="M533.0,158.7H551.8" stroke="#1414f0" stroke-width="1.1"/>
<text x="464.6" y="162.4" font-size="10.7" text-anchor="start" fill="#1a1a1a" >Humidity</text>
<text x="552.8" y="162.4" font-size="10.7" text-anchor="start" fill="#1a1a1a" >Temperature</text>
<path d="M43.5,323.5V428.5M71.5,323.5V428.5M99.5,323.5V428.5M127.5,323.5V428.5M156.5,323.5V428.5M184.5,323.5V428.5M212.5,323.5V428.5M240.5,323.5V428.5M268.5,323.5V428.5M39.5,344.5H282.5M39.5,365.5H282.5M39.5,386.5H282.5M39.5,407.5H282.5" stroke="#d8d8d8" stroke-width="0.9" stroke-dasharray="1 1.1" fill="none"/>
<path d="M61.84,428.5v-9.72h0.6v9.72zM61.99,428.5v-8.05h0.6v8.05zM62.15,428.5v-9.15h0.6v9.15zM62.3,428.5v-4.6h0.6v4.6zM62.46,428.5v-8.73h0.6v8.73zM62.61,428.5v-8.62h0.6v8.62zM62.77,428.5v-8.99h0.6v8.99zM62.92,428.5v-4.05h0.6v4.05zM63.07,428.5v-7.79h0.6v7.79zM63.23,428.5v-4.19h0.6v4.19zM63.38,428.5v-3.14h0.6v3.14zM63.69,428.5v-6.95h0.6v6.95zM63.84,428.5v-4.76h0.6v4.76zM64.15,428.5v-3.19h0.6v3.19zM64.31,428.5v-6.64h0.6v6.64zM64.46,428.5v-10.01h0.6v10.01zM64.61,428.5v-8.76h0.6v8.76zM64.77,428.5v-6.02h0.6v6.02zM64.92,428.5v-5.75h0.6v5.75zM65.08,428.5v-4.7h0.6v4.7zM65.23,428.5v-5.18h0.6v5.18zM65.38,428.5v-7.4h0.6v7.4zM65.54,428.5v-5.61h0.6v5.61zM65.69,428.5v-5.52h0.6v5.52zM65.85,428.5v-3.21h0.6v3.21zM66,428.5v-3.25h0.6v3.25zM66.16,428.5v-7.67h0.6v7.67zM66.31,428.5v-6.57h0.6v6.57zM66.46,428.5v-8.47h0.6v8.47zM66.62,428.5v-9.75h0.6v9.75zM66.77,428.5v-9.05h0.6v9.05zM66.93,428.5v-5.77h0.6v5.77zM67.23,428.5v-4.55h0.6v4.55zM67.39,428.5v-5.51h0.6v5.51zM67.54,428.5v-5.11h0.6v5.11zM67.85,428.5v-6.49h0.6v6.49zM68,428.5v-4.45h0.6v4.45zM68.16,428.5v-5.93h0.6v5.93zM68.31,428.5v-5.02h0.6v5.02zM68.47,428.5v-6.56h0.6v6.56zM68.78,428.5v-7.22h0.6v7.22zM68.93,428.5v-5.52h0.6v5.52zM69.08,428.5v-5.9h0.6v5.9zM69.24,428.5v-4.79h0.6v4.79zM69.39,428.5v-4.34h0.6v4.34zM69.55,428.5v-3.62h0.6v3.62zM69.7,428.5v-6.53h0.6v6.53zM69.85,428.5v-5.96h0.6v5.96zM70.01,428.5v-3.46h0.6v3.46zM70.16,428.5v-5.72h0.6v5.72zM70.32,428.5v-8.05h0.6v8.05zM70.47,428.5v-10.14h0.6v10.14zM70.62,428.5v-2.87h0.6v2.87zM70.78,428.5v-7.14h0.6v7.14zM70.93,428.5v-3.51h0.6v3.51zM71.09,428.5v-8.75h0.6v8.75zM71.24,428.5v-7.62h0.6v7.62zM71.4,428.5v-8.32h0.6v8.32zM71.55,428.5v-5.62h0.6v5.62zM71.7,428.5v-6.64h0.6v6.64zM71.86,428.5v-8.49h0.6v8.49zM72.01,428.5v-7.23h0.6v7.23zM72.17,428.5v-8.27h0.6v8.27zM72.32,428.5v-9.07h0.6v9.07zM72.47,428.5v-8.84h0.6v8.84zM72.63,428.5v-8.81h0.6v8.81zM72.78,428.5v-6.31h0.6v6.31zM72.94,428.5v-9.55h0.6v9.55zM73.09,428.5v-3.03h0.6v3.03zM73.4,428.5v-6.96h0.6v6.96zM73.71,428.5v-7.96h0.6v7.96zM73.86,428.5v-3.9h0.6v3.9zM74.02,428.5v-8.88h0.6v8.88zM74.32,428.5v-4.22h0.6v4.22zM74.48,428.5v-3.19h0.6v3.19zM74.63,428.5v-9.1h0.6v9.1zM74.79,428.5v-7.22h0.6v7.22zM74.94,428.5v-12.14h0.6v12.14zM75.09,428.5v-9.95h0.6v9.95zM75.25,428.5v-12.95h0.6v12.95zM75.4,428.5v-7.14h0.6v7.14zM75.56,428.5v-4.73h0.6v4.73zM75.71,428.5v-4.64h0.6v4.64zM75.86,428.5v-6.38h0.6v6.38zM76.02,428.5v-13.81h0.6v13.81zM76.17,428.5v-11.39h0.6v11.39zM76.33,428.5v-10.13h0.6v10.13zM76.48,428.5v-8.23h0.6v8.23zM76.63,428.5v-11.4h0.6v11.4zM76.79,428.5v-8.49h0.6v8.49zM76.94,428.5v-9.47h0.6v9.47zM77.1,428.5v-8.45h0.6v8.45zM77.25,428.5v-4.88h0.6v4.88zM77.41,428.5v-6.19h0.6v6.19zM77.56,428.5v-13.73h0.6v13.73zM77.71,428.5v-11.47h0.6v11.47zM77.87,428.5v-13.2h0.6v13.2zM78.02,428.5v-6.63h0.6v6.63zM78.18,428.5v-13.6h0.6v13.6zM78.33,428.5v-6.74h0.6v6.74zM78.48,428.5v-8.05h0.6v8.05zM78.79,428.5v-13.57h0.6v13.57zM78.95,428.5v-12.78h0.6v12.78zM79.1,428.5v-4.13h0.6v4.13zM79.25,428.5v-7.09h0.6v7.09zM79.41,428.5v-14.55h0.6v14.55zM79.56,428.5v-12.03h0.6v12.03zM79.72,428.5v-12.12h0.6v12.12zM79.87,428.5v-6.66h0.6v6.66zM80.03,428.5v-4.01h0.6v4.01zM80.18,428.5v-10.38h0.6v10.38zM80.33,428.5v-9.85h0.6v9.85zM80.49,428.5v-6.98h0.6v6.98zM80.64,428.5v-13.58h0.6v13.58zM80.8,428.5v-5.06h0.6v5.06zM80.95,428.5v-3.72h0.6v3.72zM81.1,428.5v-5.76h0.6v5.76zM81.26,428.5v-11.64h0.6v11.64zM81.41,428.5v-10.29h0.6v10.29zM81.57,428.5v-12.07h0.6v12.07zM81.72,428.5v-5.65h0.6v5.65zM81.87,428.5v-10.32h0.6v10.32zM82.03,428.5v-10.26h0.6v10.26zM82.18,428.5v-12.46h0.6v12.46zM82.34,428.5v-7.13h0.6v7.13zM82.49,428.5v-11.21h0.6v11.21zM82.65,428.5v-11.06h0.6v11.06zM82.8,428.5v-11.82h0.6v11.82zM82.95,428.5v-4.69h0.6v4.69zM83.11,428.5v-5.59h0.6v5.59zM83.26,428.5v-13.53h0.6v13.53zM83.42,428.5v-10.38h0.6v10.38zM83.57,428.5v-9.91h0.6v9.91zM83.72,428.5v-11.49h0.6v11.49zM83.88,428.5v-5.01h0.6v5.01zM84.03,428.5v-10.76h0.6v10.76zM84.19,428.5v-2.82h0.6v2.82zM84.34,428.5v-13.86h0.6v13.86zM84.49,428.5v-14.66h0.6v14.66zM84.65,428.5v-8.88h0.6v8.88zM84.8,428.5v-11.8h0.6v11.8zM84.96,428.5v-10.69h0.6v10.69zM85.11,428.5v-7.55h0.6v7.55zM85.27,428.5v-13.61h0.6v13.61zM85.42,428.5v-9.9h0.6v9.9zM85.57,428.5v-8h0.6v8zM85.73,428.5v-9.01h0.6v9.01zM85.88,428.5v-6.46h0.6v6.46zM86.04,428.5v-14.41h0.6v14.41zM86.19,428.5v-8.12h0.6v8.12zM86.34,428.5v-12.63h0.6v12.63zM86.5,428.5v-13.99h0.6v13.99zM86.65,428.5v-3.82h0.6v3.82zM86.81,428.5v-8.79h0.6v8.79zM86.96,428.5v-12.97h0.6v12.97zM87.11,428.5v-13.66h0.6v13.66zM87.27,428.5v-3.78h0.6v3.78zM87.42,428.5v-10.24h0.6v10.24zM87.58,428.5v-13.12h0.6v13.12zM87.73,428.5v-11.82h0.6v11.82zM87.88,428.5v-7.2h0.6v7.2zM88.04,428.5v-9.55h0.6v9.55zM88.19,428.5v-6.22h0.6v6.22zM88.35,428.5v-5.82h0.6v5.82zM88.5,428.5v-6.66h0.6v6.66zM88.66,428.5v-2.66h0.6v2.66zM88.81,428.5v-13.05h0.6v13.05zM88.96,428.5v-5.35h0.6v5.35zM89.12,428.5v-8.18h0.6v8.18zM89.27,428.5v-9.63h0.6v9.63zM89.43,428.5v-7.2h0.6v7.2zM89.58,428.5v-7.58h0.6v7.58zM89.73,428.5v-8.84h0.6v8.84zM89.89,428.5v-9.56h0.6v9.56zM90.04,428.5v-10.42h0.6v10.42zM90.2,428.5v-10.88h0.6v10.88zM90.35,428.5v-5.84h0.6v5.84zM90.5,428.5v-9.32h0.6v9.32zM90.66,428.5v-14.34h0.6v14.34zM90.81,428.5v-10.83h0.6v10.83zM90.97,428.5v-2.84h0.6v2.84zM91.28,428.5v-3.05h0.6v3.05zM91.43,428.5v-6.74h0.6v6.74zM91.58,428.5v-14.63h0.6v14.63zM91.74,428.5v-14.14h0.6v14.14zM91.89,428.5v-11.6h0.6v11.6zM92.05,428.5v-13.33h0.6v13.33zM92.2,428.5v-5.78h0.6v5.78zM92.35,428.5v-3.79h0.6v3.79zM92.51,428.5v-11.58h0.6v11.58zM92.66,428.5v-7.9h0.6v7.9zM92.82,428.5v-13.43h0.6v13.43zM92.97,428.5v-10.48h0.6v10.48zM93.12,428.5v-11.39h0.6v11.39zM93.28,428.5v-6.26h0.6v6.26zM93.43,428.5v-14.06h0.6v14.06zM93.59,428.5v-11.68h0.6v11.68zM93.74,428.5v-14.29h0.6v14.29zM93.9,428.5v-8.21h0.6v8.21zM94.05,428.5v-10.21h0.6v10.21zM94.2,428.5v-11.71h0.6v11.71zM94.36,428.5v-8.77h0.6v8.77zM94.51,428.5v-9.07h0.6v9.07zM94.67,428.5v-13.43h0.6v13.43zM94.82,428.5v-12.59h0.6v12.59zM94.97,428.5v-9.26h0.6v9.26zM95.13,428.5v-14.46h0.6v14.46zM95.28,428.5v-9.69h0.6v9.69zM95.44,428.5v-13.23h0.6v13.23zM95.59,428.5v-9.72h0.6v9.72zM95.74,428.5v-9.55h0.6v9.55zM95.9,428.5v-5.13h0.6v5.13zM96.21,428.5v-11.29h0.6v11.29zM96.36,428.5v-12.63h0.6v12.63zM96.52,428.5v-7.21h0.6v7.21zM96.67,428.5v-7.2h0.6v7.2zM96.82,428.5v-9.36h0.6v9.36zM97.13,428.5v-10.36h0.6v10.36zM97.29,428.5v-4.3h0.6v4.3zM97.44,428.5v-9.39h0.6v9.39zM97.59,428.5v-5.07h0.6v5.07zM117.78,428.5v-9.27h0.6v9.27zM118.09,428.5v-3.54h0.6v3.54zM118.24,428.5v-9.05h0.6v9.05zM118.4,428.5v-8.61h0.6v8.61zM118.55,428.5v-5.76h0.6v5.76zM118.71,428.5v-7.98h0.6v7.98zM118.86,428.5v-8.57h0.6v8.57zM119.02,428.5v-10.27h0.6v10.27zM119.17,428.5v-4.91h0.6v4.91zM119.32,428.5v-5.89h0.6v5.89zM119.48,428.5v-8.41h0.6v8.41zM119.63,428.5v-3.07h0.6v3.07zM119.94,428.5v-8.32h0.6v8.32zM120.09,428.5v-7.31h0.6v7.31zM120.25,428.5v-5.84h0.6v5.84zM120.4,428.5v-9.7h0.6v9.7zM120.56,428.5v-3.68h0.6v3.68zM120.71,428.5v-10.02h0.6v10.02zM120.86,428.5v-2.68h0.6v2.68zM121.02,428.5v-4.68h0.6v4.68zM121.17,428.5v-3.83h0.6v3.83zM121.48,428.5v-2.97h0.6v2.97zM121.79,428.5v-2.7h0.6v2.7zM121.94,428.5v-2.84h0.6v2.84zM122.1,428.5v-6.15h0.6v6.15zM122.25,428.5v-5.45h0.6v5.45zM122.41,428.5v-3.69h0.6v3.69zM122.56,428.5v-6.21h0.6v6.21zM122.71,428.5v-11.67h0.6v11.67zM123.02,428.5v-6.28h0.6v6.28zM123.18,428.5v-9.71h0.6v9.71zM123.33,428.5v-8.48h0.6v8.48zM123.48,428.5v-9.78h0.6v9.78zM123.64,428.5v-12.06h0.6v12.06zM123.79,428.5v-6.41h0.6v6.41zM123.95,428.5v-14.14h0.6v14.14zM124.1,428.5v-10.35h0.6v10.35zM124.25,428.5v-9.71h0.6v9.71zM124.41,428.5v-11.23h0.6v11.23zM124.56,428.5v-7.74h0.6v7.74zM124.72,428.5v-10.3h0.6v10.3zM124.87,428.5v-9.28h0.6v9.28zM125.03,428.5v-11h0.6v11zM125.18,428.5v-7.36h0.6v7.36zM125.33,428.5v-6.23h0.6v6.23zM125.49,428.5v-13.67h0.6v13.67zM125.64,428.5v-9.72h0.6v9.72zM125.8,428.5v-12.78h0.6v12.78zM125.95,428.5v-8.68h0.6v8.68zM126.1,428.5v-8.68h0.6v8.68zM126.26,428.5v-13.34h0.6v13.34zM126.41,428.5v-6.69h0.6v6.69zM126.72,428.5v-9.02h0.6v9.02zM126.87,428.5v-4.02h0.6v4.02zM127.03,428.5v-12.1h0.6v12.1zM127.18,428.5v-4.34h0.6v4.34zM127.34,428.5v-8.35h0.6v8.35zM127.49,428.5v-6.3h0.6v6.3zM127.8,428.5v-9.67h0.6v9.67zM127.95,428.5v-6.5h0.6v6.5zM128.11,428.5v-6.58h0.6v6.58zM128.26,428.5v-8.57h0.6v8.57zM128.42,428.5v-5.46h0.6v5.46zM128.57,428.5v-3.67h0.6v3.67zM128.72,428.5v-11.78h0.6v11.78zM128.88,428.5v-12.63h0.6v12.63zM129.03,428.5v-13.44h0.6v13.44zM129.19,428.5v-6.82h0.6v6.82zM129.34,428.5v-6.41h0.6v6.41zM129.49,428.5v-12.89h0.6v12.89zM129.65,428.5v-9.49h0.6v9.49zM129.8,428.5v-12.87h0.6v12.87zM129.96,428.5v-8.44h0.6v8.44zM130.11,428.5v-10.44h0.6v10.44zM130.27,428.5v-13.63h0.6v13.63zM130.42,428.5v-7.53h0.6v7.53zM130.57,428.5v-11.33h0.6v11.33zM130.73,428.5v-8.74h0.6v8.74zM130.88,428.5v-7.21h0.6v7.21zM131.04,428.5v-9.66h0.6v9.66zM131.19,428.5v-8h0.6v8zM131.34,428.5v-8.56h0.6v8.56zM131.5,428.5v-11.65h0.6v11.65zM131.65,428.5v-7.3h0.6v7.3zM131.81,428.5v-10.32h0.6v10.32zM131.96,428.5v-11.12h0.6v11.12zM132.11,428.5v-11.27h0.6v11.27zM132.27,428.5v-8.53h0.6v8.53zM132.42,428.5v-8.59h0.6v8.59zM132.58,428.5v-8.12h0.6v8.12zM132.73,428.5v-6.95h0.6v6.95zM132.88,428.5v-7.53h0.6v7.53zM133.04,428.5v-9.02h0.6v9.02zM133.19,428.5v-8.72h0.6v8.72zM133.35,428.5v-8.6h0.6v8.6zM133.5,428.5v-12.05h0.6v12.05zM133.66,428.5v-9.25h0.6v9.25zM133.81,428.5v-14.39h0.6v14.39zM133.96,428.5v-14.39h0.6v14.39zM134.12,428.5v-10.61h0.6v10.61zM134.27,428.5v-9.99h0.6v9.99zM134.58,428.5v-6.23h0.6v6.23zM134.73,428.5v-5.39h0.6v5.39zM134.89,428.5v-11.32h0.6v11.32zM135.04,428.5v-10.52h0.6v10.52zM135.2,428.5v-13.09h0.6v13.09zM135.5,428.5v-6.77h0.6v6.77zM135.66,428.5v-9.01h0.6v9.01zM135.81,428.5v-9.69h0.6v9.69zM135.97,428.5v-8.6h0.6v8.6zM136.12,428.5v-7.05h0.6v7.05zM136.28,428.5v-14.2h0.6v14.2zM136.43,428.5v-14.38h0.6v14.38zM136.58,428.5v-5.65h0.6v5.65zM136.74,428.5v-5.66h0.6v5.66zM136.89,428.5v-5.44h0.6v5.44zM137.05,428.5v-8.42h0.6v8.42zM137.2,428.5v-14.62h0.6v14.62zM137.35,428.5v-8.42h0.6v8.42zM137.51,428.5v-10.03h0.6v10.03zM137.66,428.5v-8.14h0.6v8.14zM137.82,428.5v-8.93h0.6v8.93zM137.97,428.5v-9.7h0.6v9.7zM138.12,428.5v-9.01h0.6v9.01zM138.28,428.5v-14.25h0.6v14.25zM138.43,428.5v-6.09h0.6v6.09zM138.59,428.5v-3.32h0.6v3.32zM138.74,428.5v-4.95h0.6v4.95zM138.9,428.5v-5.92h0.6v5.92zM139.05,428.5v-2.92h0.6v2.92zM139.2,428.5v-6.56h0.6v6.56zM139.36,428.5v-10.97h0.6v10.97zM139.51,428.5v-5.11h0.6v5.11zM139.67,428.5v-12.12h0.6v12.12zM139.82,428.5v-13.11h0.6v13.11zM139.97,428.5v-10.5h0.6v10.5zM140.13,428.5v-8.65h0.6v8.65zM140.28,428.5v-13.86h0.6v13.86zM140.44,428.5v-5.55h0.6v5.55zM140.59,428.5v-11.21h0.6v11.21zM140.74,428.5v-12.31h0.6v12.31zM140.9,428.5v-6.99h0.6v6.99zM141.05,428.5v-7.21h0.6v7.21zM141.21,428.5v-13.55h0.6v13.55zM141.36,428.5v-6.89h0.6v6.89zM141.52,428.5v-10.07h0.6v10.07zM141.67,428.5v-9.68h0.6v9.68zM141.82,428.5v-12.37h0.6v12.37zM141.98,428.5v-6.19h0.6v6.19zM142.13,428.5v-5.33h0.6v5.33zM142.29,428.5v-13.79h0.6v13.79zM142.44,428.5v-8.06h0.6v8.06zM142.59,428.5v-9.57h0.6v9.57zM142.75,428.5v-8.85h0.6v8.85zM142.9,428.5v-5.31h0.6v5.31zM143.06,428.5v-9.61h0.6v9.61zM143.21,428.5v-8.45h0.6v8.45zM143.36,428.5v-13.33h0.6v13.33zM143.52,428.5v-6.41h0.6v6.41zM143.67,428.5v-6.96h0.6v6.96zM143.83,428.5v-9.75h0.6v9.75zM143.98,428.5v-11.82h0.6v11.82zM144.13,428.5v-5.59h0.6v5.59zM144.29,428.5v-14.48h0.6v14.48zM144.44,428.5v-10.58h0.6v10.58zM144.6,428.5v-11.02h0.6v11.02zM144.75,428.5v-6.18h0.6v6.18zM144.91,428.5v-11.37h0.6v11.37zM145.06,428.5v-3.74h0.6v3.74zM145.21,428.5v-10.18h0.6v10.18zM145.37,428.5v-9.48h0.6v9.48zM145.52,428.5v-9.04h0.6v9.04zM145.68,428.5v-11.92h0.6v11.92zM145.83,428.5v-5.21h0.6v5.21zM145.98,428.5v-12.62h0.6v12.62zM146.14,428.5v-8.13h0.6v8.13zM146.29,428.5v-11.02h0.6v11.02zM146.45,428.5v-11.74h0.6v11.74zM146.6,428.5v-4.33h0.6v4.33zM146.75,428.5v-5.52h0.6v5.52zM146.91,428.5v-8.45h0.6v8.45zM147.06,428.5v-11.02h0.6v11.02zM147.22,428.5v-9.39h0.6v9.39zM147.37,428.5v-7.39h0.6v7.39zM147.53,428.5v-8.48h0.6v8.48zM147.68,428.5v-8.04h0.6v8.04zM147.83,428.5v-5.8h0.6v5.8zM147.99,428.5v-12.44h0.6v12.44zM148.14,428.5v-8.56h0.6v8.56zM148.3,428.5v-10.59h0.6v10.59zM148.45,428.5v-6.73h0.6v6.73zM148.6,428.5v-10.82h0.6v10.82zM148.76,428.5v-14.34h0.6v14.34zM148.91,428.5v-9h0.6v9zM149.07,428.5v-10.23h0.6v10.23zM149.22,428.5v-5.73h0.6v5.73zM149.37,428.5v-10.07h0.6v10.07zM149.53,428.5v-4.63h0.6v4.63zM149.68,428.5v-7.29h0.6v7.29zM149.99,428.5v-6.88h0.6v6.88zM150.15,428.5v-10.13h0.6v10.13zM150.3,428.5v-2.79h0.6v2.79zM150.45,428.5v-10.24h0.6v10.24zM150.61,428.5v-9.09h0.6v9.09zM150.76,428.5v-4.7h0.6v4.7zM150.92,428.5v-6.05h0.6v6.05zM151.07,428.5v-8.54h0.6v8.54zM151.22,428.5v-8.32h0.6v8.32zM151.38,428.5v-9.48h0.6v9.48zM151.53,428.5v-8.4h0.6v8.4zM151.69,428.5v-6.35h0.6v6.35zM151.84,428.5v-7.77h0.6v7.77zM151.99,428.5v-7.86h0.6v7.86zM152.3,428.5v-9.05h0.6v9.05zM152.61,428.5v-8.57h0.6v8.57zM152.77,428.5v-10.08h0.6v10.08zM152.92,428.5v-8.1h0.6v8.1zM153.07,428.5v-5.51h0.6v5.51zM153.23,428.5v-9.17h0.6v9.17zM153.38,428.5v-7.87h0.6v7.87zM153.54,428.5v-6.32h0.6v6.32zM153.69,428.5v-8.57h0.6v8.57zM154,428.5v-5.71h0.6v5.71zM154.15,428.5v-6.4h0.6v6.4zM154.31,428.5v-3.06h0.6v3.06zM154.46,428.5v-3.86h0.6v3.86zM154.61,428.5v-5.97h0.6v5.97zM154.77,428.5v-5.98h0.6v5.98zM154.92,428.5v-8.45h0.6v8.45zM155.08,428.5v-6.6h0.6v6.6zM155.38,428.5v-3.42h0.6v3.42zM155.54,428.5v-4.63h0.6v4.63zM155.69,428.5v-10.27h0.6v10.27zM171.72,428.5v-4.15h0.6v4.15zM171.87,428.5v-3.98h0.6v3.98zM172.03,428.5v-5.28h0.6v5.28zM172.18,428.5v-7.46h0.6v7.46zM172.34,428.5v-5.15h0.6v5.15zM172.49,428.5v-9.71h0.6v9.71zM172.65,428.5v-12.53h0.6v12.53zM172.8,428.5v-10.98h0.6v10.98zM172.95,428.5v-11.24h0.6v11.24zM173.11,428.5v-9.54h0.6v9.54zM173.26,428.5v-8.28h0.6v8.28zM173.42,428.5v-4.65h0.6v4.65zM173.72,428.5v-4.23h0.6v4.23zM173.88,428.5v-12.18h0.6v12.18zM174.03,428.5v-3.36h0.6v3.36zM174.19,428.5v-10.65h0.6v10.65zM174.34,428.5v-7.06h0.6v7.06zM174.49,428.5v-6.31h0.6v6.31zM174.65,428.5v-7.95h0.6v7.95zM174.8,428.5v-5.8h0.6v5.8zM174.96,428.5v-8.19h0.6v8.19zM175.11,428.5v-9.42h0.6v9.42zM175.27,428.5v-9.04h0.6v9.04zM175.42,428.5v-3.46h0.6v3.46zM175.57,428.5v-7.1h0.6v7.1zM175.73,428.5v-5.14h0.6v5.14zM175.88,428.5v-4.57h0.6v4.57zM176.04,428.5v-5.72h0.6v5.72zM176.19,428.5v-9.37h0.6v9.37zM176.34,428.5v-6.64h0.6v6.64zM176.5,428.5v-5.57h0.6v5.57zM176.65,428.5v-6.32h0.6v6.32zM176.81,428.5v-6.36h0.6v6.36zM176.96,428.5v-9.76h0.6v9.76zM177.11,428.5v-11.63h0.6v11.63zM177.27,428.5v-12.25h0.6v12.25zM177.42,428.5v-8.61h0.6v8.61zM177.58,428.5v-3.32h0.6v3.32zM177.73,428.5v-10.69h0.6v10.69zM177.88,428.5v-6.24h0.6v6.24zM178.04,428.5v-13.85h0.6v13.85zM178.19,428.5v-10.9h0.6v10.9zM178.35,428.5v-16.35h0.6v16.35zM178.5,428.5v-11.03h0.6v11.03zM178.66,428.5v-6.24h0.6v6.24zM178.81,428.5v-6.01h0.6v6.01zM178.96,428.5v-11.4h0.6v11.4zM179.12,428.5v-13.54h0.6v13.54zM179.27,428.5v-13.76h0.6v13.76zM179.43,428.5v-8.14h0.6v8.14zM179.73,428.5v-11.06h0.6v11.06zM179.89,428.5v-6.56h0.6v6.56zM180.04,428.5v-7.93h0.6v7.93zM180.2,428.5v-14.22h0.6v14.22zM180.35,428.5v-8.5h0.6v8.5zM180.5,428.5v-9.82h0.6v9.82zM180.66,428.5v-16.47h0.6v16.47zM180.81,428.5v-13.42h0.6v13.42zM180.97,428.5v-9.25h0.6v9.25zM181.12,428.5v-9.2h0.6v9.2zM181.28,428.5v-12.37h0.6v12.37zM181.43,428.5v-11.15h0.6v11.15zM181.58,428.5v-6.97h0.6v6.97zM181.74,428.5v-6.72h0.6v6.72zM181.89,428.5v-11.41h0.6v11.41zM182.05,428.5v-16.39h0.6v16.39zM182.2,428.5v-9.58h0.6v9.58zM182.35,428.5v-14.22h0.6v14.22zM182.51,428.5v-12.37h0.6v12.37zM182.66,428.5v-16.19h0.6v16.19zM182.82,428.5v-4.13h0.6v4.13zM182.97,428.5v-8.11h0.6v8.11zM183.12,428.5v-9.67h0.6v9.67zM183.28,428.5v-5.78h0.6v5.78zM183.43,428.5v-5.48h0.6v5.48zM183.59,428.5v-12.27h0.6v12.27zM183.74,428.5v-9.09h0.6v9.09zM183.9,428.5v-5.71h0.6v5.71zM184.05,428.5v-5.06h0.6v5.06zM184.2,428.5v-11.78h0.6v11.78zM184.36,428.5v-10.78h0.6v10.78zM184.51,428.5v-13.3h0.6v13.3zM184.67,428.5v-12.53h0.6v12.53zM184.82,428.5v-6.3h0.6v6.3zM184.97,428.5v-10.82h0.6v10.82zM185.13,428.5v-6.7h0.6v6.7zM185.28,428.5v-11.27h0.6v11.27zM185.44,428.5v-12.66h0.6v12.66zM185.59,428.5v-5.65h0.6v5.65zM185.74,428.5v-11.76h0.6v11.76zM185.9,428.5v-12.65h0.6v12.65zM186.05,428.5v-7.44h0.6v7.44zM186.21,428.5v-11.31h0.6v11.31zM186.36,428.5v-7.06h0.6v7.06zM186.52,428.5v-8.73h0.6v8.73zM186.67,428.5v-12.44h0.6v12.44zM186.82,428.5v-8.98h0.6v8.98zM186.98,428.5v-7.61h0.6v7.61zM187.13,428.5v-12.43h0.6v12.43zM187.29,428.5v-8.69h0.6v8.69zM187.44,428.5v-11.04h0.6v11.04zM187.59,428.5v-7.35h0.6v7.35zM187.75,428.5v-9.52h0.6v9.52zM187.9,428.5v-9.29h0.6v9.29zM188.06,428.5v-6.53h0.6v6.53zM188.21,428.5v-12.83h0.6v12.83zM188.36,428.5v-12.57h0.6v12.57zM188.52,428.5v-7.96h0.6v7.96zM188.67,428.5v-6.02h0.6v6.02zM188.83,428.5v-14.01h0.6v14.01zM188.98,428.5v-12.67h0.6v12.67zM189.13,428.5v-16.79h0.6v16.79zM189.29,428.5v-5.9h0.6v5.9zM189.44,428.5v-9.63h0.6v9.63zM189.75,428.5v-12.38h0.6v12.38zM190.06,428.5v-16.02h0.6v16.02zM190.21,428.5v-4.97h0.6v4.97zM190.37,428.5v-5.39h0.6v5.39zM190.52,428.5v-6.8h0.6v6.8zM190.68,428.5v-6.82h0.6v6.82zM190.83,428.5v-14.99h0.6v14.99zM190.98,428.5v-10.31h0.6v10.31zM191.14,428.5v-15.52h0.6v15.52zM191.29,428.5v-5.53h0.6v5.53zM191.45,428.5v-9.26h0.6v9.26zM191.6,428.5v-10.16h0.6v10.16zM191.75,428.5v-4.49h0.6v4.49zM191.91,428.5v-5.98h0.6v5.98zM192.06,428.5v-11.51h0.6v11.51zM192.22,428.5v-8.14h0.6v8.14zM192.37,428.5v-15.51h0.6v15.51zM192.53,428.5v-15.04h0.6v15.04zM192.68,428.5v-13.06h0.6v13.06zM192.83,428.5v-11.02h0.6v11.02zM192.99,428.5v-10.04h0.6v10.04zM193.14,428.5v-9.55h0.6v9.55zM193.3,428.5v-5.41h0.6v5.41zM193.45,428.5v-16.63h0.6v16.63zM193.6,428.5v-5.42h0.6v5.42zM193.76,428.5v-9.14h0.6v9.14zM193.91,428.5v-4.15h0.6v4.15zM194.07,428.5v-12.47h0.6v12.47zM194.22,428.5v-16.58h0.6v16.58zM194.37,428.5v-13.14h0.6v13.14zM194.53,428.5v-10.76h0.6v10.76zM194.68,428.5v-11.16h0.6v11.16zM194.84,428.5v-12.09h0.6v12.09zM194.99,428.5v-12.87h0.6v12.87zM195.15,428.5v-15.42h0.6v15.42zM195.3,428.5v-11.58h0.6v11.58zM195.45,428.5v-11.82h0.6v11.82zM195.61,428.5v-11.66h0.6v11.66zM195.76,428.5v-14.71h0.6v14.71zM195.92,428.5v-10.55h0.6v10.55zM196.07,428.5v-12.53h0.6v12.53zM196.22,428.5v-9.99h0.6v9.99zM196.38,428.5v-15.7h0.6v15.7zM196.53,428.5v-8.88h0.6v8.88zM196.69,428.5v-5.04h0.6v5.04zM196.84,428.5v-5.17h0.6v5.17zM196.99,428.5v-9.63h0.6v9.63zM197.3,428.5v-12.93h0.6v12.93zM197.46,428.5v-10.94h0.6v10.94zM197.61,428.5v-11.62h0.6v11.62zM197.77,428.5v-12.41h0.6v12.41zM197.92,428.5v-4.55h0.6v4.55zM198.07,428.5v-13.92h0.6v13.92zM198.23,428.5v-10.35h0.6v10.35zM198.38,428.5v-6.6h0.6v6.6zM198.54,428.5v-5.45h0.6v5.45zM198.69,428.5v-15.79h0.6v15.79zM198.84,428.5v-12.46h0.6v12.46zM199,428.5v-11.49h0.6v11.49zM199.15,428.5v-15.61h0.6v15.61zM199.31,428.5v-11.45h0.6v11.45zM199.46,428.5v-4.61h0.6v4.61zM199.61,428.5v-11.3h0.6v11.3zM199.77,428.5v-16.69h0.6v16.69zM199.92,428.5v-3.37h0.6v3.37zM200.08,428.5v-15.43h0.6v15.43zM200.23,428.5v-12.74h0.6v12.74zM200.38,428.5v-10.9h0.6v10.9zM200.54,428.5v-5.33h0.6v5.33zM200.69,428.5v-5.45h0.6v5.45zM200.85,428.5v-14.72h0.6v14.72zM201,428.5v-11.42h0.6v11.42zM201.16,428.5v-16.24h0.6v16.24zM201.31,428.5v-11.91h0.6v11.91zM201.46,428.5v-10.08h0.6v10.08zM201.62,428.5v-6.3h0.6v6.3zM201.77,428.5v-7.81h0.6v7.81zM201.93,428.5v-10.79h0.6v10.79zM202.08,428.5v-9.54h0.6v9.54zM202.23,428.5v-12.54h0.6v12.54zM202.39,428.5v-7.11h0.6v7.11zM202.54,428.5v-11.29h0.6v11.29zM202.7,428.5v-15.78h0.6v15.78zM202.85,428.5v-7.83h0.6v7.83zM203,428.5v-14.33h0.6v14.33zM203.16,428.5v-7.97h0.6v7.97zM203.31,428.5v-12.01h0.6v12.01zM203.62,428.5v-12.09h0.6v12.09zM203.78,428.5v-12.07h0.6v12.07zM203.93,428.5v-9.25h0.6v9.25zM204.08,428.5v-10.53h0.6v10.53zM204.24,428.5v-8.62h0.6v8.62zM204.39,428.5v-3.89h0.6v3.89zM204.55,428.5v-12.47h0.6v12.47zM204.7,428.5v-7.32h0.6v7.32zM204.85,428.5v-7.35h0.6v7.35zM205.01,428.5v-13.76h0.6v13.76zM205.16,428.5v-6.61h0.6v6.61zM205.32,428.5v-15.09h0.6v15.09zM205.47,428.5v-10.4h0.6v10.4zM205.62,428.5v-7.36h0.6v7.36zM205.78,428.5v-7.2h0.6v7.2zM206.09,428.5v-9.98h0.6v9.98zM206.24,428.5v-7.84h0.6v7.84zM206.4,428.5v-7.37h0.6v7.37zM206.55,428.5v-7.72h0.6v7.72zM206.7,428.5v-10.16h0.6v10.16zM206.86,428.5v-9.52h0.6v9.52zM207.01,428.5v-7h0.6v7zM207.17,428.5v-10.16h0.6v10.16zM207.32,428.5v-7.68h0.6v7.68zM207.47,428.5v-12.34h0.6v12.34zM207.63,428.5v-11.22h0.6v11.22zM207.78,428.5v-8.69h0.6v8.69zM207.94,428.5v-7.23h0.6v7.23zM208.09,428.5v-7.67h0.6v7.67zM208.24,428.5v-8.66h0.6v8.66zM208.4,428.5v-9.01h0.6v9.01zM208.55,428.5v-7.38h0.6v7.38zM208.71,428.5v-4.99h0.6v4.99zM208.86,428.5v-4.91h0.6v4.91zM209.02,428.5v-8.56h0.6v8.56zM209.17,428.5v-11.97h0.6v11.97zM209.32,428.5v-5.91h0.6v5.91zM209.48,428.5v-7.08h0.6v7.08zM209.63,428.5v-12.39h0.6v12.39zM209.79,428.5v-5.61h0.6v5.61zM209.94,428.5v-5.37h0.6v5.37zM210.09,428.5v-7.15h0.6v7.15zM210.25,428.5v-9.79h0.6v9.79zM210.4,428.5v-12.47h0.6v12.47zM210.56,428.5v-10.86h0.6v10.86zM210.71,428.5v-11.64h0.6v11.64zM210.86,428.5v-6.58h0.6v6.58zM211.02,428.5v-10.7h0.6v10.7zM211.17,428.5v-4.95h0.6v4.95zM211.33,428.5v-3.47h0.6v3.47zM211.48,428.5v-5.54h0.6v5.54zM211.63,428.5v-12.53h0.6v12.53zM224.73,428.5v-4.44h0.6v4.44zM224.89,428.5v-2.94h0.6v2.94zM225.04,428.5v-4h0.6v4zM225.2,428.5v-7.09h0.6v7.09zM225.35,428.5v-9.91h0.6v9.91zM225.5,428.5v-3.02h0.6v3.02zM225.66,428.5v-8.01h0.6v8.01zM225.81,428.5v-4.7h0.6v4.7zM225.97,428.5v-6.96h0.6v6.96zM226.12,428.5v-10.1h0.6v10.1zM226.28,428.5v-3.43h0.6v3.43zM226.43,428.5v-5.48h0.6v5.48zM226.58,428.5v-5.9h0.6v5.9zM226.89,428.5v-8.01h0.6v8.01zM227.05,428.5v-3.57h0.6v3.57zM227.2,428.5v-7.12h0.6v7.12zM227.35,428.5v-10.35h0.6v10.35zM227.51,428.5v-4.22h0.6v4.22zM227.82,428.5v-8.86h0.6v8.86zM227.97,428.5v-6.95h0.6v6.95zM228.12,428.5v-10.35h0.6v10.35zM228.28,428.5v-7.06h0.6v7.06zM228.43,428.5v-4.89h0.6v4.89zM228.59,428.5v-4.5h0.6v4.5zM228.74,428.5v-5.12h0.6v5.12zM228.9,428.5v-4.32h0.6v4.32zM229.05,428.5v-4.16h0.6v4.16zM229.2,428.5v-9.98h0.6v9.98zM229.36,428.5v-9.79h0.6v9.79zM229.51,428.5v-5.11h0.6v5.11zM229.67,428.5v-9.07h0.6v9.07zM229.82,428.5v-7.75h0.6v7.75zM229.97,428.5v-11.08h0.6v11.08zM230.13,428.5v-8.97h0.6v8.97zM230.28,428.5v-12.58h0.6v12.58zM230.44,428.5v-13.3h0.6v13.3zM230.59,428.5v-4.14h0.6v4.14zM230.74,428.5v-10.2h0.6v10.2zM230.9,428.5v-14.3h0.6v14.3zM231.05,428.5v-7.35h0.6v7.35zM231.21,428.5v-14.61h0.6v14.61zM231.36,428.5v-6.36h0.6v6.36zM231.52,428.5v-5.47h0.6v5.47zM231.67,428.5v-10.36h0.6v10.36zM231.82,428.5v-9.94h0.6v9.94zM231.98,428.5v-12.06h0.6v12.06zM232.13,428.5v-5.01h0.6v5.01zM232.29,428.5v-8.27h0.6v8.27zM232.44,428.5v-9.74h0.6v9.74zM232.59,428.5v-7.25h0.6v7.25zM232.75,428.5v-7.57h0.6v7.57zM232.9,428.5v-9.04h0.6v9.04zM233.06,428.5v-5.12h0.6v5.12zM233.21,428.5v-10.23h0.6v10.23zM233.36,428.5v-8.55h0.6v8.55zM233.52,428.5v-10.38h0.6v10.38zM233.67,428.5v-7.53h0.6v7.53zM233.83,428.5v-9.38h0.6v9.38zM233.98,428.5v-11.73h0.6v11.73zM234.13,428.5v-9.1h0.6v9.1zM234.29,428.5v-14.42h0.6v14.42zM234.44,428.5v-9.56h0.6v9.56zM234.6,428.5v-10.11h0.6v10.11zM234.75,428.5v-11.49h0.6v11.49zM234.91,428.5v-9.36h0.6v9.36zM235.06,428.5v-6.89h0.6v6.89zM235.21,428.5v-7.61h0.6v7.61zM235.37,428.5v-4.9h0.6v4.9zM235.52,428.5v-10.85h0.6v10.85zM235.68,428.5v-6.46h0.6v6.46zM235.83,428.5v-8.93h0.6v8.93zM235.98,428.5v-4.48h0.6v4.48zM236.14,428.5v-8.35h0.6v8.35zM236.29,428.5v-9.9h0.6v9.9zM236.45,428.5v-6.91h0.6v6.91zM236.6,428.5v-5.47h0.6v5.47zM236.75,428.5v-14.38h0.6v14.38zM236.91,428.5v-13.61h0.6v13.61zM237.06,428.5v-10.1h0.6v10.1zM237.22,428.5v-12.67h0.6v12.67zM237.37,428.5v-11.86h0.6v11.86zM237.53,428.5v-8.52h0.6v8.52zM237.68,428.5v-9.1h0.6v9.1zM237.83,428.5v-3.94h0.6v3.94zM237.99,428.5v-5.48h0.6v5.48zM238.14,428.5v-13.51h0.6v13.51zM238.3,428.5v-7.47h0.6v7.47zM238.45,428.5v-12.67h0.6v12.67zM238.6,428.5v-11.66h0.6v11.66zM238.76,428.5v-12.07h0.6v12.07zM238.91,428.5v-7.16h0.6v7.16zM239.07,428.5v-10.33h0.6v10.33zM239.22,428.5v-4.51h0.6v4.51zM239.37,428.5v-8.21h0.6v8.21zM239.68,428.5v-4.92h0.6v4.92zM239.84,428.5v-14.64h0.6v14.64zM239.99,428.5v-8.15h0.6v8.15zM240.15,428.5v-9.4h0.6v9.4zM240.3,428.5v-10.37h0.6v10.37zM240.45,428.5v-11.25h0.6v11.25zM240.61,428.5v-8.46h0.6v8.46zM240.76,428.5v-9.14h0.6v9.14zM240.92,428.5v-6.69h0.6v6.69zM241.07,428.5v-5.67h0.6v5.67zM241.22,428.5v-6.82h0.6v6.82zM241.38,428.5v-5.51h0.6v5.51zM241.53,428.5v-12.79h0.6v12.79zM241.69,428.5v-4.64h0.6v4.64zM241.84,428.5v-10.47h0.6v10.47zM241.99,428.5v-11.1h0.6v11.1zM242.15,428.5v-6.44h0.6v6.44zM242.3,428.5v-9.63h0.6v9.63zM242.46,428.5v-7.9h0.6v7.9zM242.61,428.5v-7.54h0.6v7.54zM242.77,428.5v-9.74h0.6v9.74zM242.92,428.5v-4.23h0.6v4.23zM243.07,428.5v-14.5h0.6v14.5zM243.23,428.5v-9.57h0.6v9.57zM243.38,428.5v-13.61h0.6v13.61zM243.54,428.5v-6.01h0.6v6.01zM243.69,428.5v-9.69h0.6v9.69zM243.84,428.5v-4.76h0.6v4.76zM244,428.5v-6.62h0.6v6.62zM244.15,428.5v-9.77h0.6v9.77zM244.31,428.5v-9.42h0.6v9.42zM244.46,428.5v-6.73h0.6v6.73zM244.61,428.5v-12.99h0.6v12.99zM244.77,428.5v-13.7h0.6v13.7zM244.92,428.5v-10.59h0.6v10.59zM245.08,428.5v-7.26h0.6v7.26zM245.23,428.5v-8.4h0.6v8.4zM245.38,428.5v-7.97h0.6v7.97zM245.54,428.5v-4.59h0.6v4.59zM245.69,428.5v-7.3h0.6v7.3zM245.85,428.5v-6.64h0.6v6.64zM246,428.5v-11.25h0.6v11.25zM246.16,428.5v-7.83h0.6v7.83zM246.31,428.5v-14.53h0.6v14.53zM246.46,428.5v-5.71h0.6v5.71zM246.62,428.5v-9.39h0.6v9.39zM246.77,428.5v-13.62h0.6v13.62zM247.08,428.5v-4.84h0.6v4.84zM247.23,428.5v-8.15h0.6v8.15zM247.39,428.5v-14.29h0.6v14.29zM247.54,428.5v-4.14h0.6v4.14zM247.7,428.5v-10.04h0.6v10.04zM247.85,428.5v-13.9h0.6v13.9zM248,428.5v-10.05h0.6v10.05zM248.16,428.5v-11.81h0.6v11.81zM248.31,428.5v-12.83h0.6v12.83zM248.47,428.5v-3.06h0.6v3.06zM248.62,428.5v-13.07h0.6v13.07zM248.78,428.5v-14.31h0.6v14.31zM248.93,428.5v-4.6h0.6v4.6zM249.08,428.5v-10.43h0.6v10.43zM249.24,428.5v-10.49h0.6v10.49zM249.39,428.5v-3.59h0.6v3.59zM249.55,428.5v-7.9h0.6v7.9zM249.7,428.5v-3.73h0.6v3.73zM249.85,428.5v-4.75h0.6v4.75zM250.01,428.5v-12.65h0.6v12.65zM250.16,428.5v-9.49h0.6v9.49zM250.32,428.5v-9.62h0.6v9.62zM250.47,428.5v-14.52h0.6v14.52zM250.62,428.5v-9.61h0.6v9.61zM250.78,428.5v-4.49h0.6v4.49zM250.93,428.5v-5.37h0.6v5.37zM251.09,428.5v-6.2h0.6v6.2zM251.24,428.5v-8.29h0.6v8.29zM251.4,428.5v-7.1h0.6v7.1zM251.55,428.5v-6.84h0.6v6.84zM251.7,428.5v-10.13h0.6v10.13zM251.86,428.5v-9.82h0.6v9.82zM252.01,428.5v-14.18h0.6v14.18zM252.17,428.5v-8.99h0.6v8.99zM252.32,428.5v-7.83h0.6v7.83zM252.47,428.5v-5.24h0.6v5.24zM252.63,428.5v-14.46h0.6v14.46zM252.78,428.5v-11.94h0.6v11.94zM252.94,428.5v-10.19h0.6v10.19zM253.09,428.5v-14.63h0.6v14.63zM253.24,428.5v-13.87h0.6v13.87zM253.4,428.5v-4.93h0.6v4.93zM253.55,428.5v-13.54h0.6v13.54zM253.71,428.5v-6.37h0.6v6.37zM253.86,428.5v-10.93h0.6v10.93zM254.02,428.5v-7.96h0.6v7.96zM254.17,428.5v-9.52h0.6v9.52zM254.32,428.5v-13.35h0.6v13.35zM254.48,428.5v-14.22h0.6v14.22zM254.63,428.5v-12.16h0.6v12.16zM254.79,428.5v-6.27h0.6v6.27zM254.94,428.5v-4.87h0.6v4.87zM255.09,428.5v-2.69h0.6v2.69zM255.25,428.5v-13.1h0.6v13.1zM255.4,428.5v-5.52h0.6v5.52zM255.56,428.5v-9.84h0.6v9.84zM255.71,428.5v-9h0.6v9zM255.86,428.5v-7.39h0.6v7.39zM256.02,428.5v-13.21h0.6v13.21zM256.17,428.5v-14.13h0.6v14.13zM256.33,428.5v-8.45h0.6v8.45zM256.48,428.5v-13.35h0.6v13.35zM256.63,428.5v-14.47h0.6v14.47zM256.79,428.5v-9.57h0.6v9.57zM256.94,428.5v-13.48h0.6v13.48zM257.1,428.5v-10.09h0.6v10.09zM257.25,428.5v-11.41h0.6v11.41zM257.41,428.5v-12.34h0.6v12.34zM257.56,428.5v-6.87h0.6v6.87zM257.71,428.5v-12.83h0.6v12.83zM257.87,428.5v-12.67h0.6v12.67zM258.02,428.5v-8.78h0.6v8.78zM258.18,428.5v-5.85h0.6v5.85zM258.33,428.5v-11.83h0.6v11.83zM258.48,428.5v-9.66h0.6v9.66zM258.64,428.5v-11.18h0.6v11.18zM258.79,428.5v-13.26h0.6v13.26zM258.95,428.5v-7.31h0.6v7.31zM259.1,428.5v-10.67h0.6v10.67zM259.25,428.5v-8.12h0.6v8.12zM259.41,428.5v-5.24h0.6v5.24zM259.56,428.5v-12.2h0.6v12.2zM259.72,428.5v-10.56h0.6v10.56zM259.87,428.5v-11.69h0.6v11.69zM260.03,428.5v-9.63h0.6v9.63zM260.18,428.5v-5.82h0.6v5.82zM260.33,428.5v-10.99h0.6v10.99zM260.49,428.5v-8.65h0.6v8.65zM260.64,428.5v-12.01h0.6v12.01zM260.8,428.5v-12.17h0.6v12.17zM260.95,428.5v-13.11h0.6v13.11zM261.1,428.5v-8.61h0.6v8.61zM261.26,428.5v-4.91h0.6v4.91zM261.41,428.5v-11.59h0.6v11.59zM261.57,428.5v-9.14h0.6v9.14zM261.72,428.5v-8.13h0.6v8.13zM261.87,428.5v-10.36h0.6v10.36zM262.03,428.5v-6.43h0.6v6.43zM262.18,428.5v-4.18h0.6v4.18zM262.34,428.5v-3.9h0.6v3.9zM262.49,428.5v-2.9h0.6v2.9zM262.65,428.5v-10.02h0.6v10.02zM262.8,428.5v-4.26h0.6v4.26zM262.95,428.5v-5.29h0.6v5.29zM263.11,428.5v-9.63h0.6v9.63zM263.57,428.5v-9.08h0.6v9.08zM263.72,428.5v-10.3h0.6v10.3zM263.88,428.5v-4.4h0.6v4.4zM264.03,428.5v-2.89h0.6v2.89zM264.19,428.5v-7.67h0.6v7.67zM264.34,428.5v-6.71h0.6v6.71zM264.49,428.5v-7.39h0.6v7.39zM264.65,428.5v-4.72h0.6v4.72zM47.45,428.5v-9.66h1.3v9.66zM48.15,428.5v-9.66h1.3v9.66zM48.95,428.5v-4.2h1.3v4.2zM51.05,428.5v-13.44h1.3v13.44zM52.55,428.5v-7.56h1.3v7.56zM53.85,428.5v-9.03h1.3v9.03zM54.85,428.5v-13.44h1.3v13.44zM55.95,428.5v-13.44h1.3v13.44zM57.65,428.5v-3.15h1.3v3.15zM59.15,428.5v-20.16h1.3v20.16zM60.85,428.5v-4.2h1.3v4.2zM62.35,428.5v-27.09h1.3v27.09zM63.35,428.5v-26.04h1.3v26.04zM64.45,428.5v-24.99h1.3v24.99zM65.95,428.5v-26.04h1.3v26.04zM67.05,428.5v-27.93h1.3v27.93zM68.75,428.5v-28.14h1.3v28.14zM69.75,428.5v-16.17h1.3v16.17zM71.55,428.5v-36.75h0.7v36.75zM72.35,428.5v-4.2h1.3v4.2zM74.05,428.5v-17.22h1.3v17.22zM75.05,428.5v-76.44h1.3v76.44zM76.55,428.5v-49.56h1.3v49.56zM77.65,428.5v-40.95h1.3v40.95zM78.95,428.5v-38.85h1.3v38.85zM80.25,428.5v-60.06h1.3v60.06zM81.25,428.5v-47.46h1.3v47.46zM82.85,428.5v-66.57h0.7v66.57zM83.65,428.5v-48.3h1.3v48.3zM85.05,428.5v-101.22h1.3v101.22zM86.55,428.5v-47.46h1.3v47.46zM87.85,428.5v-46.2h1.3v46.2zM89.15,428.5v-50.4h1.3v50.4zM90.45,428.5v-22.05h1.3v22.05zM91.65,428.5v-18.9h1.3v18.9zM92.95,428.5v-18.9h1.3v18.9zM94.25,428.5v-19.53h1.3v19.53zM95.75,428.5v-19.53h1.3v19.53zM96.75,428.5v-13.44h1.3v13.44zM99.95,428.5v-3.15h1.3v3.15zM103.15,428.5v-17.22h1.3v17.22zM106.35,428.5v-13.86h1.3v13.86zM107.75,428.5v-16.59h1.3v16.59zM109.05,428.5v-12.18h1.3v12.18zM112.05,428.5v-10.71h1.3v10.71zM113.05,428.5v-11.55h1.3v11.55zM114.75,428.5v-8.61h1.3v8.61zM116.95,428.5v-3.15h1.3v3.15zM119.45,428.5v-18.69h1.3v18.69zM120.75,428.5v-14.28h1.3v14.28zM121.85,428.5v-22.89h1.3v22.89zM122.95,428.5v-76.02h0.7v76.02zM123.35,428.5v-46.2h1.3v46.2zM124.35,428.5v-25.83h1.3v25.83zM125.65,428.5v-13.23h1.3v13.23zM126.45,428.5v-19.53h1.3v19.53zM127.75,428.5v-22.89h1.3v22.89zM128.65,428.5v-17.43h1.3v17.43zM130.25,428.5v-52.5h0.7v52.5zM130.75,428.5v-38.43h1.3v38.43zM131.85,428.5v-34.02h1.3v34.02zM132.85,428.5v-32.97h1.3v32.97zM133.95,428.5v-60.06h1.3v60.06zM135.05,428.5v-68.46h1.3v68.46zM136.05,428.5v-21.84h1.3v21.84zM137.15,428.5v-32.97h1.3v32.97zM138.45,428.5v-21.84h1.3v21.84zM139.95,428.5v-64.26h0.7v64.26zM140.55,428.5v-53.76h1.3v53.76zM141.35,428.5v-39.69h1.3v39.69zM142.65,428.5v-47.46h1.3v47.46zM143.55,428.5v-35.49h1.3v35.49zM144.75,428.5v-20.58h1.3v20.58zM146.05,428.5v-31.5h1.3v31.5zM146.95,428.5v-30.45h1.3v30.45zM148.25,428.5v-18.48h1.3v18.48zM149.45,428.5v-29.4h1.3v29.4zM150.95,428.5v-13.23h1.3v13.23zM152.05,428.5v-18.48h1.3v18.48zM153.05,428.5v-11.13h1.3v11.13zM154.55,428.5v-13.23h1.3v13.23zM155.85,428.5v-6.72h1.3v6.72zM158.45,428.5v-7.77h1.3v7.77zM160.55,428.5v-8.82h1.3v8.82zM162.25,428.5v-6.72h1.3v6.72zM164.35,428.5v-7.77h1.3v7.77zM165.85,428.5v-6.72h1.3v6.72zM167.95,428.5v-8.82h1.3v8.82zM169.05,428.5v-6.72h1.3v6.72zM171.15,428.5v-18.9h1.3v18.9zM172.25,428.5v-13.23h1.3v13.23zM173.75,428.5v-16.59h1.3v16.59zM175.05,428.5v-37.17h1.3v37.17zM176.45,428.5v-23.94h1.3v23.94zM177.05,428.5v-19.95h1.3v19.95zM179.15,428.5v-74.55h1.3v74.55zM180.65,428.5v-29.4h1.3v29.4zM182.35,428.5v-35.49h1.3v35.49zM183.45,428.5v-24.57h1.3v24.57zM185.55,428.5v-45.15h1.3v45.15zM186.85,428.5v-73.29h1.3v73.29zM188.15,428.5v-33.39h1.3v33.39zM189.15,428.5v-39.69h1.3v39.69zM190.65,428.5v-67.41h1.3v67.41zM191.95,428.5v-35.49h1.3v35.49zM193.25,428.5v-26.04h1.3v26.04zM194.45,428.5v-46.2h1.3v46.2zM195.55,428.5v-44.73h1.3v44.73zM196.95,428.5v-82.32h0.7v82.32zM197.45,428.5v-63.21h1.3v63.21zM198.75,428.5v-29.4h1.3v29.4zM199.85,428.5v-32.55h1.3v32.55zM200.85,428.5v-33.6h1.3v33.6zM202.15,428.5v-24.15h1.3v24.15zM203.45,428.5v-24.15h1.3v24.15zM205.15,428.5v-18.9h1.3v18.9zM206.65,428.5v-26.04h1.3v26.04zM208.35,428.5v-19.95h1.3v19.95zM209.85,428.5v-19.95h1.3v19.95zM211.55,428.5v-9.45h1.3v9.45zM213.25,428.5v-7.35h1.3v7.35zM214.95,428.5v-6.3h1.3v6.3zM216.85,428.5v-2.1h1.3v2.1zM220.05,428.5v-10.92h1.3v10.92zM222.15,428.5v-5.25h1.3v5.25zM223.25,428.5v-5.25h1.3v5.25zM224.75,428.5v-12.81h1.3v12.81zM226.45,428.5v-11.76h1.3v11.76zM227.45,428.5v-14.91h1.3v14.91zM228.55,428.5v-14.28h1.3v14.28zM229.65,428.5v-17.43h1.3v17.43zM230.65,428.5v-36.75h1.3v36.75zM231.75,428.5v-32.55h1.3v32.55zM232.75,428.5v-28.56h1.3v28.56zM233.95,428.5v-52.71h1.3v52.71zM235.45,428.5v-10.5h1.3v10.5zM236.85,428.5v-35.28h1.3v35.28zM238.15,428.5v-25.2h1.3v25.2zM239.85,428.5v-8.4h1.3v8.4zM241.55,428.5v-21h1.3v21zM243.35,428.5v-40.95h0.7v40.95zM244.05,428.5v-27.72h1.3v27.72zM245.55,428.5v-7.56h1.3v7.56zM246.65,428.5v-18.9h1.3v18.9zM248.15,428.5v-75.39h1.3v75.39zM249.35,428.5v-34.86h1.3v34.86zM250.45,428.5v-2.1h1.3v2.1zM251.95,428.5v-32.97h1.3v32.97zM253.45,428.5v-27.72h1.3v27.72zM254.75,428.5v-29.4h1.3v29.4zM256.25,428.5v-73.29h1.3v73.29zM257.65,428.5v-28.56h1.3v28.56zM258.95,428.5v-27.72h1.3v27.72zM260.05,428.5v-30.66h1.3v30.66zM261.55,428.5v-15.96h1.3v15.96zM263.25,428.5v-18.48h1.3v18.48zM264.25,428.5v-13.86h1.3v13.86zM267.45,428.5v-9.66h1.3v9.66zM268.95,428.5v-10.71h1.3v10.71zM270.45,428.5v-10.71h1.3v10.71zM271.75,428.5v-10.08h1.3v10.08zM272.55,428.5v-5.25h1.3v5.25z" fill="#1f70e0"/>
<rect x="137.6" y="330.3" width="19.8" height="8.2" fill="#1f70e0"/>
<text x="165.3" y="337.4" font-size="10.7" text-anchor="start" fill="#1a1a1a" >Precipitation</text>
<path d="M39.5,323.5H282.5V428.5H39.5ZM34.3,323.5H39.5M34.3,344.5H39.5M34.3,365.5H39.5M34.3,386.5H39.5M34.3,407.5H39.5M34.3,428.5H39.5M43.5,428.5V433.7M99.5,428.5V433.7M156.5,428.5V433.7M212.5,428.5V433.7M268.5,428.5V433.7M71.5,428.5V431.1M127.5,428.5V431.1M184.5,428.5V431.1M240.5,428.5V431.1" stroke="#878787" stroke-width="1" fill="none"/>
<text x="31.5" y="327" font-size="12.4" text-anchor="end" fill="#1a1a1a" >50</text>
<text x="31.5" y="348" font-size="12.4" text-anchor="end" fill="#1a1a1a" >40</text>
<text x="31.5" y="369" font-size="12.4" text-anchor="end" fill="#1a1a1a" >30</text>
<text x="31.5" y="390" font-size="12.4" text-anchor="end" fill="#1a1a1a" >20</text>
<text x="31.5" y="411" font-size="12.4" text-anchor="end" fill="#1a1a1a" >10</text>
<text x="31.5" y="432" font-size="12.4" text-anchor="end" fill="#1a1a1a" >0</text>
<text x="43.5" y="446" font-size="12.4" text-anchor="middle" fill="#1a1a1a" >2017-12-1</text>
<text x="99.75" y="446" font-size="12.4" text-anchor="middle" fill="#1a1a1a" >2018-12-1</text>
<text x="156" y="446" font-size="12.4" text-anchor="middle" fill="#1a1a1a" >2019-12-1</text>
<text x="212.25" y="446" font-size="12.4" text-anchor="middle" fill="#1a1a1a" >2020-12-1</text>
<text x="268.5" y="446" font-size="12.4" text-anchor="middle" fill="#1a1a1a" >2021-12-1</text>
<path d="M412.5,323.5V428.5M441.5,323.5V428.5M469.5,323.5V428.5M497.5,323.5V428.5M525.5,323.5V428.5M553.5,323.5V428.5M581.5,323.5V428.5M609.5,323.5V428.5M637.5,323.5V428.5M408.5,349.5H652.5M408.5,376.5H652.5M408.5,402.5H652.5" stroke="#d8d8d8" stroke-width="0.9" stroke-dasharray="1 1.1" fill="none"/>
<polyline points="417.2,379.77 417.35,383.51 417.51,377.12 417.66,374.58 417.82,367.86 417.97,375.66 418.12,376.04 418.28,383.01 418.43,378.21 418.59,370.73 418.74,366 418.9,373.19 419.05,367.73 419.2,366.9 419.36,364.39 419.51,371.04 419.67,378.68 419.82,375.22 419.97,369.25 420.13,377.77 420.28,375.68 420.44,379.47 420.59,378.24 420.74,382.48 420.9,369.11 421.05,377.14 421.21,373.69 421.36,370.99 421.52,374.74 421.67,379.03 421.82,376.74 421.98,378.67 422.13,372.54 422.29,375.55 422.44,366.56 422.59,373.15 422.75,369.01 422.9,375.97 423.06,380.92 423.21,373.67 423.36,365.95 423.52,364.85 423.67,363.38 423.83,371.4 423.98,371.72 424.13,369 424.29,370.93 424.44,366.31 424.6,364.07 424.75,363.04 424.91,371.75 425.06,360.54 425.21,376.75 425.37,369.88 425.52,370.02 425.68,367.13 425.83,367.75 425.98,360.19 426.14,368.99 426.29,361.7 426.45,370.39 426.6,365.18 426.75,362.26 426.91,358.5 427.06,368.97 427.22,375.03 427.37,354.99 427.53,366.38 427.68,363.86 427.83,362.66 427.99,354.02 428.14,356.34 428.3,353.75 428.45,352.5 428.6,356.33 428.76,360.16 428.91,352.04 429.07,352.68 429.22,356.01 429.37,367.17 429.53,361.52 429.68,355.26 429.84,359.12 429.99,351.81 430.15,341.89 430.3,353.91 430.45,353.48 430.61,350.57 430.76,345.27 430.92,364.92 431.07,358.14 431.22,347.22 431.38,353.52 431.53,362.72 431.69,351.62 431.84,359.98 431.99,348.88 432.15,347.2 432.3,353.9 432.46,358.47 432.61,349.91 432.77,353.37 432.92,353.15 433.07,354.48 433.23,353.85 433.38,356.1 433.54,346.6 433.69,343.83 433.84,353.78 434,356.79 434.15,346.17 434.31,342.08 434.46,345.35 434.61,342.31 434.77,343.63 434.92,347.35 435.08,349.27 435.23,351.9 435.38,348.47 435.54,356.73 435.69,340.46 435.85,352.24 436,345.98 436.16,344.69 436.31,346.78 436.46,346.57 436.62,350.32 436.77,348.58 436.93,342.14 437.08,341.63 437.23,352.03 437.39,346.3 437.54,354.43 437.7,346.34 437.85,344.55 438,351.69 438.16,337.63 438.31,350.72 438.47,338.37 438.62,352.03 438.78,340.79 438.93,353.3 439.08,347.06 439.24,350.47 439.39,342.24 439.55,347.17 439.7,344.35 439.85,341.63 440.01,347.64 440.16,346.03 440.32,341.34 440.47,347.03 440.62,340.45 440.78,351.04 440.93,332.05 441.09,334.9 441.24,348.51 441.4,346.29 441.55,343.64 441.7,338.46 441.86,336.86 442.01,334.91 442.17,334.08 442.32,345.82 442.47,340.18 442.63,341.2 442.78,337.18 442.94,340.62 443.09,349.38 443.24,343.35 443.4,327.07 443.55,338.24 443.71,333.04 443.86,339.05 444.02,340.65 444.17,339.11 444.32,340.11 444.48,334.46 444.63,340.65 444.79,348.58 444.94,335.01 445.09,335.42 445.25,340.41 445.4,339.53 445.56,334.72 445.71,336.27 445.86,343.6 446.02,332.14 446.17,324.81 446.33,337.38 446.48,343.99 446.63,333.92 446.79,331.23 446.94,342.95 447.1,347.41 447.25,347.08 447.41,342.66 447.56,345.44 447.71,342.48 447.87,342.2 448.02,348.53 448.18,339 448.33,332.58 448.48,349.92 448.64,342.4 448.79,342.87 448.95,344.61 449.1,340.53 449.25,346.08 449.41,336.97 449.56,342.19 449.72,346.4 449.87,339.41 450.03,340.52 450.18,333.84 450.33,339.95 450.49,343.54 450.64,332.16 450.8,340.05 450.95,340.26 451.1,334.75 451.26,344.92 451.41,343.75 451.57,347.34 451.72,333.71 451.87,347.23 452.03,350.11 452.18,350.74 452.34,335.57 452.49,338.12 452.65,347.82 452.8,349.2 452.95,333.5 453.11,347.53 453.26,345.62 453.42,349.54 453.57,333.38 453.72,348.71 453.88,354.16 454.03,346.48 454.19,345.34 454.34,348.54 454.49,351.24 454.65,357.55 454.8,353.48 454.96,338.73 455.11,355.96 455.27,342.52 455.42,336.07 455.57,340.65 455.73,346.39 455.88,342.29 456.04,342.28 456.19,356.14 456.34,347.73 456.5,355.3 456.65,361.98 456.81,346.88 456.96,354.96 457.11,350.41 457.27,358.41 457.42,347.33 457.58,348.68 457.73,353.92 457.88,357.84 458.04,357.48 458.19,353.11 458.35,357.2 458.5,359.8 458.66,351.94 458.81,352.6 458.96,349.41 459.12,350.12 459.27,361.29 459.43,355.81 459.58,360.78 459.73,364.06 459.89,356.76 460.04,358.4 460.2,355.16 460.35,359.49 460.5,354.38 460.66,358.5 460.81,356.93 460.97,352.8 461.12,348.96 461.28,359.87 461.43,369.78 461.58,368.66 461.74,354.12 461.89,350.12 462.05,354.63 462.2,351.94 462.35,361.56 462.51,363.72 462.66,354.55 462.82,356.56 462.97,358.11 463.12,358.11 463.28,361.69 463.43,370.81 463.59,357.33 463.74,360.78 463.9,366.52 464.05,366.04 464.2,359.16 464.36,366.64 464.51,370.09 464.67,362.73 464.82,359.83 464.97,359.37 465.13,360.06 465.28,363.18 465.44,366.29 465.59,375.89 465.74,367.93 465.9,369.86 466.05,358.55 466.21,368.92 466.36,365.94 466.52,363.44 466.67,373.54 466.82,375.04 466.98,362.78 467.13,362.17 467.29,377.42 467.44,370.13 467.59,363.06 467.75,373.85 467.9,370.83 468.06,370.53 468.21,373.18 468.36,374.63 468.52,386.27 468.67,379.77 468.83,375.38 468.98,372.35 469.13,364.12 469.29,360.01 469.44,365.51 469.6,372.51 469.75,380.17 469.91,376.44 470.06,369.64 470.21,375.47 470.37,374.14 470.52,368.81 470.68,379.81 470.83,379.88 470.98,368.49 471.14,372.29 471.29,370.68 471.45,374.16 471.6,381.3 471.75,369.88 471.91,377.83 472.06,374 472.22,373.29 472.37,373.91 472.53,382.43 472.68,374.85 472.83,383.49 472.99,376.02 473.14,379.17 473.3,369.62 473.45,379.73 473.6,378.55 473.76,378.62 473.91,387.93 474.07,380.18 474.22,378.53 474.37,382.31 474.53,379.54 474.68,377.08 474.84,376.31 474.99,375.39 475.15,372.66 475.3,371.93 475.45,379.25 475.61,376.73 475.76,378.27 475.92,380.63 476.07,381 476.22,383.98 476.38,377.62 476.53,372.94 476.69,379.57 476.84,380.48 476.99,382.76 477.15,385 477.3,384.02 477.46,377.24 477.61,386.08 477.77,369.93 477.92,372.41 478.07,376.52 478.23,380.24 478.38,372.74 478.54,378.33 478.69,366.99 478.84,376.57 479,374.39 479.15,380.8 479.31,371.39 479.46,373.43 479.61,373.49 479.77,367.29 479.92,379.7 480.08,385.84 480.23,386.95 480.38,380.29 480.54,377.63 480.69,377.26 480.85,372.55 481,368.78 481.16,377.55 481.31,368.04 481.46,376.05 481.62,378.88 481.77,370.03 481.93,368.28 482.08,368.81 482.23,377.34 482.39,365.62 482.54,369.29 482.7,375.54 482.85,371.71 483,370.27 483.16,371.1 483.31,373.77 483.47,362.17 483.62,371.96 483.78,368.24 483.93,369.86 484.08,368.18 484.24,377.47 484.39,359.52 484.55,360.04 484.7,367.8 484.85,362.13 485.01,366.66 485.16,363 485.32,366.95 485.47,374.42 485.62,369.82 485.78,368.78 485.93,368.85 486.09,375.23 486.24,366.22 486.4,360.72 486.55,360.73 486.7,366.38 486.86,353.76 487.01,361.72 487.17,359.08 487.32,361.32 487.47,364.19 487.63,359.15 487.78,363.75 487.94,364.59 488.09,368.2 488.24,357.57 488.4,353.8 488.55,356.35 488.71,357.89 488.86,356.69 489.02,350.8 489.17,356.57 489.32,354.39 489.48,351.59 489.63,353.37 489.79,350.89 489.94,348.63 490.09,352.9 490.25,341.8 490.4,353.72 490.56,351.21 490.71,349.52 490.86,350.69 491.02,356.21 491.17,350.67 491.33,355 491.48,351.23 491.63,347.16 491.79,345.45 491.94,349.1 492.1,351.63 492.25,338.33 492.41,348.34 492.56,339.39 492.71,351.52 492.87,347.41 493.02,339.97 493.18,351.61 493.33,354.2 493.48,343.29 493.64,338.9 493.79,342.18 493.95,344.25 494.1,349.24 494.25,345.09 494.41,341.88 494.56,347.8 494.72,354.59 494.87,341.17 495.03,351.34 495.18,353.11 495.33,348.74 495.49,340.25 495.64,351.44 495.8,345.67 495.95,335.73 496.1,342.05 496.26,345.75 496.41,349.05 496.57,353.09 496.72,338.45 496.87,350.73 497.03,344.36 497.18,339.36 497.34,346.73 497.49,345.41 497.65,338.94 497.8,342.77 497.95,337.51 498.11,337.31 498.26,335.35 498.42,349.86 498.57,342.43 498.72,342.76 498.88,344.05 499.03,351.78 499.19,344.59 499.34,336.53 499.49,337.19 499.65,345.63 499.8,343.35 499.96,343.06 500.11,338.23 500.27,345.26 500.42,345.66 500.57,349.54 500.73,338.6 500.88,331.83 501.04,338.6 501.19,338.14 501.34,337 501.5,346.6 501.65,338.58 501.81,333.1 501.96,334.89 502.11,341.2 502.27,344.62 502.42,344.43 502.58,334.88 502.73,342.91 502.88,339.95 503.04,338.95 503.19,341.41 503.35,344.74 503.5,338.11 503.66,343.39 503.81,342.15 503.96,333.95 504.12,335.2 504.27,349.89 504.43,345.92 504.58,335.92 504.73,343.41 504.89,335.42 505.04,333.36 505.2,333.22 505.35,329.67 505.5,344.86 505.66,344.44 505.81,342.53 505.97,342.34 506.12,335.24 506.28,337.06 506.43,343.94 506.58,342.85 506.74,346.76 506.89,342.93 507.05,347.67 507.2,331.85 507.35,335.82 507.51,342.26 507.66,342.01 507.82,337.32 507.97,341.08 508.12,335.1 508.28,340.16 508.43,329.92 508.59,337.36 508.74,347.23 508.9,347.92 509.05,345.65 509.2,333.86 509.36,343.44 509.51,338.19 509.67,349.84 509.82,341.2 509.97,348.75 510.13,346.64 510.28,344.29 510.44,351.38 510.59,333.3 510.74,349.5 510.9,348.21 511.05,337.15 511.21,340.22 511.36,358.02 511.52,345.55 511.67,341.25 511.82,351.77 511.98,347.89 512.13,351.6 512.29,352.31 512.44,340 512.59,342.83 512.75,352.66 512.9,355.99 513.06,346.45 513.21,348.44 513.36,351.77 513.52,349.49 513.67,357.48 513.83,355.71 513.98,355.78 514.13,345.93 514.29,351.68 514.44,357.61 514.6,357.13 514.75,348.02 514.91,351.09 515.06,356.26 515.21,356.15 515.37,350.8 515.52,355.89 515.68,356.42 515.83,359 515.98,368.53 516.14,354.26 516.29,357 516.45,352.5 516.6,340.64 516.75,357.44 516.91,354.63 517.06,359.52 517.22,362.25 517.37,363.15 517.53,361.3 517.68,359.3 517.83,350.68 517.99,357.15 518.14,362.87 518.3,355.79 518.45,365.07 518.6,358.03 518.76,360.05 518.91,364.48 519.07,360.14 519.22,356.55 519.37,358.96 519.53,372.39 519.68,373.43 519.84,365.39 519.99,365.79 520.15,371.91 520.3,361.56 520.45,362.11 520.61,358.65 520.76,363.24 520.92,356.51 521.07,368.22 521.22,368.26 521.38,363.09 521.53,364.16 521.69,374.24 521.84,371.68 521.99,364.53 522.15,366.41 522.3,371.16 522.46,369.6 522.61,368.93 522.77,369.37 522.92,366.16 523.07,365.03 523.23,372.46 523.38,357.54 523.54,366.55 523.69,369.85 523.84,360.07 524,368.86 524.15,376.02 524.31,377.66 524.46,374.31 524.61,374.35 524.77,380.29 524.92,374.1 525.08,376.05 525.23,365.44 525.38,368.81 525.54,375.86 525.69,367.13 525.85,372.62 526,382.54 526.16,373.57 526.31,365.29 526.46,371.57 526.62,375.88 526.77,372.88 526.93,376.08 527.08,370.52 527.23,371.66 527.39,374.98 527.54,369.58 527.7,364.66 527.85,371.26 528,367.14 528.16,369.19 528.31,374.7 528.47,374.16 528.62,366.88 528.78,371.84 528.93,369.53 529.08,382.39 529.24,371.87 529.39,383.75 529.55,366.03 529.7,372.75 529.85,370.52 530.01,378.24 530.16,375.85 530.32,380.78 530.47,380.47 530.62,374.27 530.78,376.31 530.93,376.1 531.09,375.23 531.24,367.07 531.4,367.9 531.55,363.22 531.7,373.47 531.86,376.05 532.01,371.91 532.17,368.61 532.32,379.17 532.47,369.49 532.63,373.17 532.78,369.36 532.94,369.63 533.09,372.49 533.24,375.18 533.4,372.57 533.55,365.15 533.71,378.69 533.86,370.15 534.02,370.77 534.17,370.85 534.32,368.66 534.48,367.06 534.63,368.95 534.79,362.21 534.94,369.65 535.09,357.55 535.25,377.15 535.4,360.96 535.56,369.36 535.71,374.52 535.86,373.35 536.02,371.1 536.17,367.37 536.33,368.16 536.48,360.98 536.63,367.68 536.79,369 536.94,369.32 537.1,364.68 537.25,366.61 537.41,359.12 537.56,369.04 537.71,368.93 537.87,369.41 538.02,371.01 538.18,369.22 538.33,371.42 538.48,378.4 538.64,376.6 538.79,373.38 538.95,380.64 539.1,372.23 539.25,363.9 539.41,364.75 539.56,374.59 539.72,374.99 539.87,369.86 540.03,370.47 540.18,363.28 540.33,364.63 540.49,363.88 540.64,366.21 540.8,359.95 540.95,362.78 541.1,350.14 541.26,358.13 541.41,361.51 541.57,363.52 541.72,365.28 541.87,367.41 542.03,361.1 542.18,358.39 542.34,352.5 542.49,357.99 542.65,355.02 542.8,357.53 542.95,360.19 543.11,356.26 543.26,355.29 543.42,359.22 543.57,359.37 543.72,358.44 543.88,368.03 544.03,356.48 544.19,364 544.34,345.12 544.49,355.65 544.65,354.18 544.8,353.34 544.96,363.85 545.11,347.7 545.27,357 545.42,348.75 545.57,346.42 545.73,348.15 545.88,367.95 546.04,360.75 546.19,356.24 546.34,359.87 546.5,353.73 546.65,344.47 546.81,345.09 546.96,353.63 547.11,357.93 547.27,348.35 547.42,347.37 547.58,352.42 547.73,355.85 547.88,343.26 548.04,341.03 548.19,342.91 548.35,345.34 548.5,351.87 548.66,348.7 548.81,355.48 548.96,341.95 549.12,354.43 549.27,353.87 549.43,351.08 549.58,350.03 549.73,341.12 549.89,343.44 550.04,352.02 550.2,346.83 550.35,346.37 550.5,339.75 550.66,355.51 550.81,351.26 550.97,353.22 551.12,346.77 551.28,342.21 551.43,347.43 551.58,335.18 551.74,350.46 551.89,346 552.05,349.73 552.2,353.86 552.35,349 552.51,345.8 552.66,349.27 552.82,349.38 552.97,346 553.12,348.83 553.28,340.4 553.43,341.13 553.59,343.95 553.74,338.97 553.9,355.58 554.05,350.39 554.2,337.84 554.36,347.97 554.51,339.02 554.67,340.72 554.82,342.47 554.97,344.14 555.13,349.42 555.28,351.58 555.44,352.84 555.59,341.4 555.74,342.65 555.9,340.81 556.05,348.19 556.21,342.58 556.36,336.36 556.52,345.44 556.67,344.84 556.82,343.99 556.98,330.88 557.13,334.4 557.29,330.3 557.44,326.06 557.59,340.84 557.75,339.23 557.9,353.27 558.06,341.38 558.21,343.39 558.36,340.51 558.52,339.73 558.67,351.71 558.83,339.57 558.98,342.41 559.13,347 559.29,343.84 559.44,335.98 559.6,342.91 559.75,332.57 559.91,336.21 560.06,339.44 560.21,344.76 560.37,344.91 560.52,334.36 560.68,339.41 560.83,338.64 560.98,338.49 561.14,335.44 561.29,335.72 561.45,341.67 561.6,338.77 561.75,341.13 561.91,337.63 562.06,348.21 562.22,342.42 562.37,333.79 562.53,346.69 562.68,344.93 562.83,340.06 562.99,347.3 563.14,341.2 563.3,339.42 563.45,336.82 563.6,339.74 563.76,339.47 563.91,343.36 564.07,340.15 564.22,339.79 564.37,338.68 564.53,337.19 564.68,337.08 564.84,337.5 564.99,339.92 565.15,341.26 565.3,344.67 565.45,338.98 565.61,335.58 565.76,344.56 565.92,339.78 566.07,343.53 566.22,344.42 566.38,349.19 566.53,345.92 566.69,341.08 566.84,341.54 566.99,339.97 567.15,348.09 567.3,357.3 567.46,342.91 567.61,345.73 567.77,342.41 567.92,336.08 568.07,339.8 568.23,357.39 568.38,350.75 568.54,349.46 568.69,339.24 568.84,351.04 569,350.21 569.15,342.76 569.31,357.67 569.46,352.82 569.61,357.03 569.77,356.12 569.92,348.04 570.08,349.79 570.23,351.23 570.38,351.27 570.54,353.62 570.69,352.23 570.85,349.35 571,356.32 571.16,352.38 571.31,355.57 571.46,348.7 571.62,346.81 571.77,349.95 571.93,348.63 572.08,356.85 572.23,357.21 572.39,354.74 572.54,357.48 572.7,353.34 572.85,357.35 573,363.98 573.16,363.61 573.31,357.11 573.47,345.53 573.62,356.77 573.78,367.14 573.93,358.99 574.08,363.54 574.24,367.75 574.39,347.35 574.55,346.88 574.7,360.23 574.85,361.84 575.01,363.63 575.16,358.18 575.32,357.83 575.47,356.74 575.62,368.54 575.78,365.63 575.93,359.82 576.09,362.99 576.24,372.3 576.4,365.54 576.55,359.77 576.7,376.29 576.86,358.44 577.01,366.04 577.17,358.26 577.32,360.52 577.47,364.16 577.63,367.24 577.78,368.25 577.94,371.42 578.09,367.51 578.24,366.37 578.4,376.42 578.55,372.9 578.71,382.26 578.86,379.18 579.02,375.02 579.17,368.09 579.32,370.22 579.48,370.19 579.63,373.49 579.79,377.62 579.94,367.82 580.09,367.84 580.25,378.07 580.4,374.75 580.56,371.07 580.71,378.72 580.86,378.31 581.02,371.84 581.17,373.11 581.33,368.99 581.48,375.52 581.63,371.41 581.79,371.85 581.94,364.74 582.1,378.53 582.25,376.34 582.41,381.36 582.56,373.53 582.71,372.45 582.87,367.49 583.02,377.15 583.18,372.8 583.33,375.87 583.48,368.57 583.64,376.84 583.79,379.17 583.95,374.1 584.1,378.82 584.25,382.79 584.41,389.23 584.56,378.06 584.72,372.98 584.87,378.57 585.03,374.57 585.18,381.66 585.33,376.37 585.49,375.27 585.64,381.88 585.8,387.79 585.95,382.33 586.1,380.23 586.26,376.32 586.41,390.02 586.57,373.23 586.72,376.2 586.87,381 587.03,385.76 587.18,383.95 587.34,378.12 587.49,377.51 587.65,377.76 587.8,388.1 587.95,383.15 588.11,380.35 588.26,381.03 588.42,383.25 588.57,379.28 588.72,373.18 588.88,385.84 589.03,373.71 589.19,384.12 589.34,385.04 589.49,385.4 589.65,375.84 589.8,376.4 589.96,373.14 590.11,382.49 590.27,385.33 590.42,367.89 590.57,374.2 590.73,390.63 590.88,384.34 591.04,377.58 591.19,369.17 591.34,365.76 591.5,380.81 591.65,372.76 591.81,376.32 591.96,376.93 592.11,377.32 592.27,381.36 592.42,379.78 592.58,376.43 592.73,371.49 592.88,380.52 593.04,366.07 593.19,373.98 593.35,368.26 593.5,376.82 593.66,378.54 593.81,366.14 593.96,367.54 594.12,380.82 594.27,368.84 594.43,378.58 594.58,368.26 594.73,365.17 594.89,368.67 595.04,370.47 595.2,369.53 595.35,368.5 595.5,372.15 595.66,365.47 595.81,369.93 595.97,376.03 596.12,365.43 596.28,356.15 596.43,358.71 596.58,365.17 596.74,368.49 596.89,367.28 597.05,356.9 597.2,358.6 597.35,367.03 597.51,361.68 597.66,354.05 597.82,360.47 597.97,360.5 598.12,363.79 598.28,369.72 598.43,356.34 598.59,355.89 598.74,355.04 598.9,351.72 599.05,358.2 599.2,360.23 599.36,355.57 599.51,363.6 599.67,367.98 599.82,359.66 599.97,360 600.13,361.08 600.28,355.74 600.44,351.65 600.59,358.28 600.74,366.02 600.9,364.98 601.05,360.49 601.21,356.17 601.36,354.48 601.52,351.39 601.67,342.65 601.82,357.72 601.98,348.28 602.13,353.55 602.29,352 602.44,354.3 602.59,346.82 602.75,347.09 602.9,343.48 603.06,339.72 603.21,357.25 603.36,352.25 603.52,346.19 603.67,344.78 603.83,346.85 603.98,353.42 604.13,339.32 604.29,353.38 604.44,344.71 604.6,350.94 604.75,350.6 604.91,344.22 605.06,352.51 605.21,344.56 605.37,347.27 605.52,353.42 605.68,348.75 605.83,346.48 605.98,343.79 606.14,341.11 606.29,353.88 606.45,351.86 606.6,351.32 606.75,354.68 606.91,336.99 607.06,347.9 607.22,347.99 607.37,348.45 607.53,350.84 607.68,341.41 607.83,344.38 607.99,348.87 608.14,347.26 608.3,343.15 608.45,343.1 608.6,340 608.76,337.36 608.91,346.29 609.07,349.59 609.22,347.09 609.37,343.5 609.53,346.9 609.68,342.22 609.84,349.71 609.99,344.08 610.15,341.44 610.3,347.23 610.45,339.24 610.61,333.63 610.76,357.76 610.92,348.08 611.07,343.82 611.22,338.24 611.38,346.9 611.53,341.47 611.69,334.17 611.84,339.24 611.99,344.09 612.15,344.6 612.3,340.18 612.46,338.51 612.61,338.59 612.77,340.4 612.92,351.91 613.07,345.92 613.23,342.49 613.38,339.49 613.54,337.11 613.69,342.89 613.84,336.33 614,331.03 614.15,335.93 614.31,334.81 614.46,340.92 614.61,344.47 614.77,336.93 614.92,336.61 615.08,332.96 615.23,339.86 615.38,344.14 615.54,344.44 615.69,337.88 615.85,348.84 616,332.66 616.16,340.12 616.31,338.67 616.46,339.9 616.62,330.3 616.77,344.49 616.93,335.14 617.08,335.72 617.23,331.72 617.39,332.96 617.54,343.09 617.7,347.06 617.85,350.29 618,340.9 618.16,335.74 618.31,336.9 618.47,339.92 618.62,335.41 618.78,345.08 618.93,331.83 619.08,329.31 619.24,330.36 619.39,333.01 619.55,327.85 619.7,344.11 619.85,343.77 620.01,338.12 620.16,337.75 620.32,339.6 620.47,335.43 620.62,339.57 620.78,329.85 620.93,337.33 621.09,351.18 621.24,342.44 621.4,343.3 621.55,347.53 621.7,335.31 621.86,344.6 622.01,350.36 622.17,343.42 622.32,331.01 622.47,339.4 622.63,330.57 622.78,336.38 622.94,330.85 623.09,336.65 623.24,337.8 623.4,357.13 623.55,350.9 623.71,350.53 623.86,344.88 624.02,337.8 624.17,338.47 624.32,339.44 624.48,353.26 624.63,350.03 624.79,345.55 624.94,341.6 625.09,343.38 625.25,349.49 625.4,353.41 625.56,341.02 625.71,350.68 625.86,347.53 626.02,346.58 626.17,344.37 626.33,350.97 626.48,354.34 626.63,349.63 626.79,353.11 626.94,348.3 627.1,357.01 627.25,352.25 627.41,356.73 627.56,339.19 627.71,358.93 627.87,354.38 628.02,353.18 628.18,354.67 628.33,358.97 628.48,357.98 628.64,354.06 628.79,345.03 628.95,345.34 629.1,342.89 629.25,355.25 629.41,352.97 629.56,346.94 629.72,350.64 629.87,353.02 630.03,354.23 630.18,350.66 630.33,358.06 630.49,354.62 630.64,360.64 630.8,353.22 630.95,353.88 631.1,357.44 631.26,365.19 631.41,359.88 631.57,350.44 631.72,361.49 631.87,358.28 632.03,369.47 632.18,367.3 632.34,361.98 632.49,356.83 632.65,357.09 632.8,365.1 632.95,352.94 633.11,377.07 633.26,373.03 633.42,359.22 633.57,357.04 633.72,354.8 633.88,368.9 634.03,373.55 634.19,374.76 634.34,372.52 634.49,365.14 634.65,369.19 634.8,369.89 634.96,364.78 635.11,369.02 635.27,367.6 635.42,360.66 635.57,371.86 635.73,368.85 635.88,373.37 636.04,365.89 636.19,375.55 636.34,375.41 636.5,366.98 636.65,380.74 636.81,361.57 636.96,366.26 637.11,371.2 637.27,372.82 637.42,368.47 637.58,368.76 637.73,376.47 637.88,371.3 638.04,376.32 638.19,375.12 638.35,372.51 638.5,371.87 638.66,374 638.81,373.25 638.96,375.04 639.12,374.84 639.27,364.93 639.43,364.8 639.58,377.42 639.73,385.76 639.89,370.82 640.04,363.97 640.2,374.72 640.35,372.83 640.5,374.86 640.66,373.76 640.81,378.54 640.97,376.76 641.12,378.13 641.28,378.88 641.43,376.91 641.58,385.42 641.74,373.29 641.89,377.86 642.05,378.14 642.2,383.41 642.35,391.35 642.51,382.29 642.66,383.61 642.82,394.47 642.97,376.59 643.12,373.09" fill="none" stroke="#f04a50" stroke-width="0.8" stroke-linejoin="round" />
<polyline points="417.2,428.5 417.35,410.4 417.51,412.08 417.66,425.01 417.82,410.14 417.97,426.89 418.12,417.57 418.28,404.33 418.43,423.87 418.59,424.49 418.74,416.57 418.9,419.42 419.05,427.53 419.2,417.09 419.36,412.47 419.51,420.98 419.67,414.89 419.82,412.96 419.97,406.59 420.13,417.18 420.28,423.73 420.44,412.62 420.59,417.36 420.74,418.56 420.9,421.85 421.05,417.34 421.21,416.29 421.36,419.33 421.52,408.99 421.67,420.41 421.82,401.45 421.98,407.85 422.13,407.1 422.29,413.6 422.44,417.47 422.59,423.33 422.75,412.52 422.9,401.34 423.06,404.48 423.21,407.66 423.36,418.34 423.52,403.91 423.67,401.29 423.83,405.01 423.98,410.96 424.13,400.19 424.29,394.27 424.44,395.35 424.6,398.71 424.75,410.38 424.91,398.46 425.06,398.26 425.21,398.97 425.37,393.02 425.52,400.78 425.68,396.64 425.83,396.25 425.98,403.17 426.14,398.3 426.29,395.36 426.45,389.95 426.6,391.01 426.75,393.34 426.91,389.93 427.06,401.49 427.22,395.97 427.37,395.97 427.53,389.99 427.68,383.17 427.83,385.77 427.99,384.81 428.14,384.89 428.3,381.28 428.45,391.32 428.6,386.42 428.76,390.35 428.91,389.25 429.07,383.92 429.22,381.96 429.37,384.83 429.53,380.44 429.68,383.38 429.84,384 429.99,383.19 430.15,382.54 430.3,378.21 430.45,377.39 430.61,382.12 430.76,382.02 430.92,382.74 431.07,379.06 431.22,378.72 431.38,377.9 431.53,382.81 431.69,378.85 431.84,380.72 431.99,382.21 432.15,378.68 432.3,378.9 432.46,376.02 432.61,375.24 432.77,376.38 432.92,374.59 433.07,374.67 433.23,375.51 433.38,377.69 433.54,372.32 433.69,371.15 433.84,370.26 434,376.01 434.15,376.88 434.31,373.1 434.46,370.05 434.61,371.73 434.77,368.46 434.92,374.08 435.08,370.09 435.23,376.68 435.38,374.33 435.54,374.42 435.69,369.07 435.85,371.47 436,369.85 436.16,366.64 436.31,370.32 436.46,366.12 436.62,370.77 436.77,364.55 436.93,370.1 437.08,371.62 437.23,366.76 437.39,362.59 437.54,371.25 437.7,364.23 437.85,362.01 438,363.85 438.16,369.34 438.31,369.1 438.47,364.21 438.62,371.28 438.78,362.27 438.93,358.2 439.08,366.63 439.24,367.61 439.39,361.83 439.55,364.77 439.7,360.9 439.85,363.38 440.01,363.84 440.16,362.53 440.32,359.62 440.47,358.99 440.62,360.72 440.78,356.39 440.93,354.87 441.09,356.66 441.24,363.59 441.4,362.49 441.55,360.69 441.7,357.9 441.86,354.64 442.01,359.76 442.17,354.84 442.32,361.23 442.47,357.62 442.63,359.04 442.78,358.57 442.94,353.64 443.09,357.46 443.24,356.57 443.4,351.11 443.55,354.37 443.71,359.91 443.86,359.89 444.02,357.86 444.17,355.01 444.32,354.1 444.48,359.91 444.63,359.15 444.79,359.34 444.94,355.35 445.09,353.22 445.25,354.57 445.4,352.59 445.56,354.32 445.71,353.83 445.86,349.48 446.02,350.72 446.17,355.07 446.33,355.33 446.48,350.8 446.63,353.55 446.79,356.13 446.94,353.15 447.1,357.86 447.25,354.21 447.41,355.72 447.56,353.44 447.71,347.2 447.87,352.02 448.02,357.06 448.18,360.09 448.33,355.01 448.48,355.28 448.64,358.68 448.79,356.92 448.95,354.9 449.1,357.99 449.25,355.63 449.41,353.19 449.56,356.44 449.72,350.8 449.87,356.62 450.03,358.63 450.18,352.31 450.33,355.87 450.49,357.65 450.64,358.82 450.8,355.02 450.95,357.83 451.1,358.05 451.26,362.4 451.41,362.16 451.57,359.24 451.72,362.01 451.87,359.86 452.03,354.75 452.18,356.93 452.34,354.55 452.49,360.64 452.65,357.15 452.8,359.86 452.95,356.88 453.11,362.29 453.26,359.73 453.42,356.78 453.57,358.76 453.72,359.07 453.88,361.08 454.03,368.18 454.19,365.04 454.34,364.27 454.49,359.12 454.65,360.75 454.8,364.83 454.96,359.85 455.11,360.72 455.27,367.45 455.42,359.93 455.57,361.54 455.73,354.65 455.88,358.99 456.04,368.34 456.19,362.03 456.34,363.95 456.5,366.55 456.65,365.13 456.81,364.11 456.96,367.32 457.11,370.05 457.27,366.04 457.42,366.32 457.58,371.51 457.73,365.07 457.88,369 458.04,363.33 458.19,363.76 458.35,369.21 458.5,367.6 458.66,373.31 458.81,370.95 458.96,377.23 459.12,376.4 459.27,373.23 459.43,370.75 459.58,369.77 459.73,368.97 459.89,369.5 460.04,374.56 460.2,374.7 460.35,376.72 460.5,375.32 460.66,381.03 460.81,379.43 460.97,372.41 461.12,375.2 461.28,378.77 461.43,375.41 461.58,376.32 461.74,377.88 461.89,379.54 462.05,382.35 462.2,379.91 462.35,379.22 462.51,379.66 462.66,374.99 462.82,379.42 462.97,379.55 463.12,376.46 463.28,377.62 463.43,388.49 463.59,383.93 463.74,386.79 463.9,386.75 464.05,380.64 464.2,377.24 464.36,381.23 464.51,392.82 464.67,388.44 464.82,387.24 464.97,387.99 465.13,380.24 465.28,383.4 465.44,383.51 465.59,386.29 465.74,383.81 465.9,387.91 466.05,393.77 466.21,389.93 466.36,392.36 466.52,396.66 466.67,399.72 466.82,394.9 466.98,392.88 467.13,383.78 467.29,392.85 467.44,395.43 467.59,393.48 467.75,389.46 467.9,398.2 468.06,395.8 468.21,388.71 468.36,385.86 468.52,396.6 468.67,403.52 468.83,397.96 468.98,397.56 469.13,391.66 469.29,391.65 469.44,395.91 469.6,401.38 469.75,397.09 469.91,402.23 470.06,403.94 470.21,400.15 470.37,389.6 470.52,388.58 470.68,390.11 470.83,405.85 470.98,398.04 471.14,403.56 471.29,398.56 471.45,395.67 471.6,396.17 471.75,403.32 471.91,406.68 472.06,398.78 472.22,394.54 472.37,404.13 472.53,406.83 472.68,403.71 472.83,405.48 472.99,398.09 473.14,396.29 473.3,397.25 473.45,405.1 473.6,408.26 473.76,406.14 473.91,403.47 474.07,399.24 474.22,400.81 474.37,405.34 474.53,401.47 474.68,399.58 474.84,404.18 474.99,409.67 475.15,403.01 475.3,399.01 475.45,399.62 475.61,408.84 475.76,402.76 475.92,403.2 476.07,404.92 476.22,404.71 476.38,406.62 476.53,407.54 476.69,402.52 476.84,403.04 476.99,402.36 477.15,408.78 477.3,402.76 477.46,394.4 477.61,406.35 477.77,402.63 477.92,402.32 478.07,400.66 478.23,397.9 478.38,404.04 478.54,397.58 478.69,397.3 478.84,402.02 479,398.1 479.15,394.25 479.31,392.29 479.46,399.96 479.61,396.11 479.77,399.4 479.92,403.71 480.08,388.55 480.23,391.95 480.38,393.74 480.54,399.01 480.69,397.38 480.85,400.04 481,388.89 481.16,398.28 481.31,397 481.46,392.53 481.62,396.18 481.77,391.73 481.93,393.67 482.08,395.42 482.23,395.16 482.39,404.09 482.54,392.1 482.7,391.05 482.85,391.62 483,392.4 483.16,397.72 483.31,393.64 483.47,397 483.62,395.87 483.78,398.1 483.93,394.74 484.08,387.76 484.24,388.66 484.39,394.46 484.55,395.13 484.7,386.67 484.85,390.32 485.01,386.14 485.16,381.74 485.32,383.22 485.47,391.72 485.62,397.88 485.78,383.19 485.93,391.79 486.09,393.34 486.24,389.82 486.4,388.01 486.55,383.66 486.7,387.33 486.86,388.48 487.01,381.87 487.17,386.92 487.32,373.99 487.47,386.19 487.63,382.91 487.78,377.98 487.94,380.74 488.09,386.74 488.24,381.98 488.4,376.85 488.55,381.71 488.71,385.32 488.86,380.36 489.02,385.96 489.17,378.05 489.32,375.33 489.48,376.38 489.63,380.41 489.79,373.77 489.94,371.33 490.09,371.18 490.25,375.77 490.4,373.59 490.56,376.66 490.71,371.06 490.86,374.89 491.02,377.85 491.17,375.12 491.33,371.94 491.48,373.12 491.63,373.33 491.79,375.65 491.94,372.61 492.1,372.32 492.25,371.54 492.41,371.87 492.56,371.47 492.71,373.5 492.87,365.45 493.02,374.34 493.18,370.11 493.33,366.12 493.48,374.14 493.64,375.36 493.79,367.85 493.95,360.37 494.1,363.31 494.25,368.27 494.41,369.5 494.56,369.66 494.72,371.66 494.87,369.83 495.03,364.49 495.18,366.99 495.33,365.13 495.49,363.17 495.64,367.17 495.8,366.88 495.95,364.88 496.1,367.35 496.26,364.83 496.41,362.44 496.57,363.64 496.72,368.94 496.87,363.78 497.03,364.01 497.18,363.33 497.34,366.54 497.49,363.16 497.65,362.82 497.8,364 497.95,364.63 498.11,362.69 498.26,367.49 498.42,361.6 498.57,362.56 498.72,357.78 498.88,365.52 499.03,362.67 499.19,359.48 499.34,358.75 499.49,360.57 499.65,356.43 499.8,359.89 499.96,357.41 500.11,358.53 500.27,359.29 500.42,360.95 500.57,360.93 500.73,360.47 500.88,357.6 501.04,359.81 501.19,361.59 501.34,356.84 501.5,357.25 501.65,356.02 501.81,357.15 501.96,352.42 502.11,354.3 502.27,355.92 502.42,355.64 502.58,354 502.73,356.16 502.88,354.79 503.04,357.3 503.19,352.34 503.35,356.59 503.5,366.83 503.66,356.85 503.81,357.82 503.96,357.46 504.12,354.7 504.27,364.71 504.43,363.68 504.58,358.4 504.73,360.93 504.89,355.45 505.04,354.66 505.2,357.42 505.35,354.1 505.5,362 505.66,357.95 505.81,354.18 505.97,352.01 506.12,354.1 506.28,351.69 506.43,354.59 506.58,356.9 506.74,356.01 506.89,349.38 507.05,348.89 507.2,354.36 507.35,355.14 507.51,355.31 507.66,361.5 507.82,359.85 507.97,357.54 508.12,359.98 508.28,358.81 508.43,361.73 508.59,358.96 508.74,355.16 508.9,357.29 509.05,355.46 509.2,358.16 509.36,360.69 509.51,358.44 509.67,363.93 509.82,362.03 509.97,360.52 510.13,361.1 510.28,358.55 510.44,361.77 510.59,357.48 510.74,357.17 510.9,359.52 511.05,362.63 511.21,364.98 511.36,360.33 511.52,362.37 511.67,353.94 511.82,358.17 511.98,357.59 512.13,364.84 512.29,363.96 512.44,365.35 512.59,371.73 512.75,365.2 512.9,366.17 513.06,366.26 513.21,364.46 513.36,362.42 513.52,363.59 513.67,360.58 513.83,367.55 513.98,364.64 514.13,369.14 514.29,368.74 514.44,364.82 514.6,366.08 514.75,367.41 514.91,368 515.06,367.03 515.21,365.26 515.37,367.19 515.52,371.04 515.68,368.25 515.83,370.6 515.98,370.44 516.14,371.04 516.29,369.03 516.45,371.11 516.6,373.65 516.75,377.61 516.91,378.39 517.06,373.76 517.22,376.17 517.37,372.32 517.53,374.35 517.68,374.33 517.83,375.6 517.99,368.25 518.14,371.85 518.3,374.2 518.45,374.46 518.6,384.47 518.76,382.04 518.91,375.18 519.07,373.81 519.22,380.48 519.37,386.48 519.53,385.46 519.68,379.5 519.84,381.02 519.99,377.28 520.15,381.38 520.3,380.8 520.45,380.12 520.61,382.59 520.76,384.6 520.92,386.02 521.07,385.13 521.22,384.47 521.38,381.14 521.53,384.26 521.69,387.54 521.84,390.6 521.99,390.43 522.15,386.23 522.3,386.83 522.46,382.48 522.61,387.73 522.77,390.28 522.92,383.81 523.07,384.5 523.23,384.09 523.38,394.34 523.54,391.91 523.69,390.55 523.84,390.74 524,401.98 524.15,394.41 524.31,393.52 524.46,388.81 524.61,393.94 524.77,394 524.92,395.34 525.08,399.99 525.23,393.38 525.38,386.59 525.54,398.33 525.69,389.55 525.85,387.13 526,400.91 526.16,403.5 526.31,401.92 526.46,402.52 526.62,401.73 526.77,403.27 526.93,400.55 527.08,396.42 527.23,394.1 527.39,398.53 527.54,403.36 527.7,397.19 527.85,395.77 528,402.41 528.16,398.19 528.31,404.83 528.47,404.41 528.62,400.57 528.78,401.7 528.93,395.47 529.08,400.62 529.24,399.83 529.39,395.45 529.55,407.94 529.7,399.62 529.85,395.41 530.01,401.36 530.16,395.97 530.32,405.72 530.47,406.38 530.62,408.59 530.78,394.27 530.93,403.24 531.09,398.01 531.24,407.43 531.4,396.41 531.55,405.04 531.7,403.45 531.86,411.7 532.01,406.93 532.17,395.11 532.32,403.57 532.47,390.98 532.63,385.41 532.78,395.18 532.94,402.36 533.09,398.92 533.24,395.11 533.4,404.54 533.55,399.84 533.71,394.95 533.86,392.51 534.02,402.17 534.17,395.59 534.32,393.32 534.48,388.16 534.63,390.45 534.79,387.33 534.94,388.66 535.09,394.81 535.25,380.17 535.4,386.05 535.56,388.78 535.71,391.78 535.86,383.89 536.02,388.34 536.17,386.92 536.33,387.91 536.48,389.34 536.63,395.33 536.79,392.14 536.94,381.77 537.1,385.6 537.25,389.89 537.41,391.35 537.56,391.18 537.71,389.23 537.87,387.56 538.02,380.64 538.18,383.35 538.33,378.45 538.48,390.27 538.64,386.64 538.79,392.32 538.95,394.11 539.1,385.19 539.25,390.73 539.41,384.66 539.56,386.7 539.72,379.38 539.87,377.55 540.03,387.1 540.18,380.28 540.33,381.51 540.49,379.64 540.64,382.77 540.8,377 540.95,376.51 541.1,379.84 541.26,385.67 541.41,389.36 541.57,378.22 541.72,378.54 541.87,383.93 542.03,383.14 542.18,370.79 542.34,380.57 542.49,377.48 542.65,373.47 542.8,369.11 542.95,374.62 543.11,374.96 543.26,380.24 543.42,375.78 543.57,376.29 543.72,379.53 543.88,380.18 544.03,372.43 544.19,371.29 544.34,365.73 544.49,374 544.65,380.82 544.8,369.01 544.96,370.93 545.11,367.63 545.27,374.43 545.42,374.66 545.57,368.38 545.73,374.28 545.88,372.92 546.04,372.29 546.19,369.02 546.34,367.68 546.5,373.03 546.65,368.43 546.81,370.99 546.96,370.91 547.11,369.86 547.27,366.92 547.42,369.43 547.58,367.86 547.73,371.32 547.88,373.92 548.04,373.24 548.19,368.51 548.35,367.9 548.5,367.34 548.66,371.8 548.81,370.68 548.96,367.69 549.12,364.73 549.27,364.57 549.43,367 549.58,368.5 549.73,371.18 549.89,368.39 550.04,362.29 550.2,365.29 550.35,366.78 550.5,364.26 550.66,355.73 550.81,364.05 550.97,367.18 551.12,369.95 551.28,371.38 551.43,363.76 551.58,362.29 551.74,364.84 551.89,361.97 552.05,360.61 552.2,364.5 552.35,361.79 552.51,359.22 552.66,365.97 552.82,362.88 552.97,361.38 553.12,366.91 553.28,354.37 553.43,356 553.59,353.47 553.74,363.51 553.9,360.88 554.05,356.26 554.2,360.46 554.36,352.89 554.51,361.38 554.67,359.51 554.82,360.07 554.97,364.15 555.13,360.32 555.28,358.65 555.44,361.63 555.59,360.22 555.74,355.22 555.9,354.41 556.05,355.4 556.21,354.67 556.36,352.54 556.52,356.7 556.67,359.14 556.82,356.91 556.98,356.19 557.13,358.51 557.29,356.01 557.44,355.17 557.59,352.49 557.75,358.23 557.9,352.29 558.06,355.57 558.21,359.97 558.36,352.79 558.52,353.06 558.67,354.26 558.83,358.42 558.98,352.81 559.13,357.57 559.29,358.54 559.44,355.46 559.6,351.51 559.75,353.59 559.91,353.72 560.06,357.02 560.21,351.85 560.37,354.95 560.52,352.56 560.68,345.11 560.83,352.01 560.98,357.48 561.14,359.95 561.29,359.11 561.45,359.12 561.6,355.18 561.75,351.1 561.91,354.57 562.06,356.37 562.22,353.89 562.37,358.17 562.53,357.2 562.68,353.43 562.83,351.83 562.99,356.65 563.14,357.72 563.3,358.4 563.45,356.14 563.6,351.85 563.76,355.75 563.91,360.54 564.07,354.47 564.22,353.31 564.37,352.96 564.53,354.01 564.68,358.16 564.84,361.26 564.99,356.96 565.15,358.94 565.3,358.19 565.45,354.42 565.61,363.78 565.76,365.53 565.92,365.28 566.07,363.01 566.22,360.86 566.38,359.26 566.53,362.71 566.69,357.37 566.84,361.1 566.99,358.71 567.15,355.56 567.3,356.75 567.46,361.71 567.61,362.13 567.77,360.58 567.92,359.43 568.07,365.72 568.23,366.94 568.38,365.74 568.54,360.4 568.69,362.26 568.84,363.82 569,368.54 569.15,369.53 569.31,364.38 569.46,368.11 569.61,362.6 569.77,367.53 569.92,365.45 570.08,363.51 570.23,363.95 570.38,366.18 570.54,359.99 570.69,366.17 570.85,366.1 571,368.83 571.16,365.38 571.31,364.39 571.46,364.57 571.62,367.79 571.77,366.66 571.93,373 572.08,372.58 572.23,369.49 572.39,378.32 572.54,378.49 572.7,371.52 572.85,372.09 573,373.97 573.16,374.47 573.31,369.48 573.47,372.08 573.62,375.53 573.78,380.09 573.93,376.24 574.08,379.82 574.24,377.85 574.39,379.61 574.55,373.64 574.7,379.28 574.85,378.47 575.01,373.73 575.16,385.43 575.32,382.29 575.47,385.69 575.62,375.56 575.78,377.84 575.93,380.38 576.09,380.29 576.24,378.35 576.4,378.9 576.55,380.94 576.7,378.54 576.86,380.42 577.01,375.14 577.17,385.84 577.32,385.44 577.47,381.42 577.63,380.65 577.78,385.95 577.94,380.12 578.09,380.69 578.24,377.98 578.4,385.6 578.55,381.44 578.71,386.11 578.86,385.49 579.02,383.98 579.17,388.89 579.32,389.71 579.48,381.47 579.63,391.57 579.79,387.45 579.94,383.49 580.09,382.26 580.25,389.6 580.4,395.07 580.56,387.18 580.71,393.24 580.86,392.36 581.02,395.82 581.17,399.92 581.33,397.53 581.48,395.82 581.63,402.8 581.79,389.75 581.94,395.26 582.1,387.78 582.25,388.82 582.41,397.52 582.56,397.05 582.71,399.33 582.87,398.02 583.02,397.52 583.18,396.29 583.33,396.12 583.48,397.73 583.64,402.3 583.79,408.33 583.95,400.88 584.1,401.86 584.25,397.93 584.41,404.04 584.56,401.01 584.72,407.01 584.87,401.36 585.03,403.81 585.18,400.79 585.33,388.76 585.49,395.79 585.64,402.07 585.8,401.2 585.95,402.33 586.1,402.9 586.26,402.43 586.41,402.61 586.57,402.71 586.72,397.41 586.87,396.47 587.03,392.27 587.18,397.99 587.34,399.32 587.49,389.4 587.65,407.35 587.8,402.34 587.95,399.9 588.11,398.6 588.26,404.94 588.42,404.88 588.57,410.37 588.72,406.67 588.88,413.06 589.03,400.38 589.19,402.88 589.34,407.66 589.49,396.06 589.65,400.95 589.8,406.86 589.96,400.45 590.11,403.91 590.27,411.76 590.42,402.87 590.57,393.54 590.73,407.77 590.88,403.86 591.04,397.12 591.19,397.51 591.34,394.34 591.5,399.06 591.65,392.12 591.81,396.77 591.96,397.91 592.11,395.51 592.27,398.03 592.42,398.39 592.58,398.87 592.73,400.36 592.88,399.92 593.04,402.36 593.19,393.83 593.35,393 593.5,402.86 593.66,397.64 593.81,394.14 593.96,397.84 594.12,391.99 594.27,394.94 594.43,392.58 594.58,396.04 594.73,391.51 594.89,390.49 595.04,380.9 595.2,381.81 595.35,387.62 595.5,388.93 595.66,388.83 595.81,387.73 595.97,397.08 596.12,389.99 596.28,385.6 596.43,386.81 596.58,391.61 596.74,393.5 596.89,394.66 597.05,381.24 597.2,381.74 597.35,379.24 597.51,384.69 597.66,387.1 597.82,390.34 597.97,383.48 598.12,388.38 598.28,386.74 598.43,378.97 598.59,376.05 598.74,381.34 598.9,378.13 599.05,379.73 599.2,378.58 599.36,384.18 599.51,379.55 599.67,378.48 599.82,377.49 599.97,377.07 600.13,377.58 600.28,376.04 600.44,379.74 600.59,376.62 600.74,379.76 600.9,376.94 601.05,377.89 601.21,378.66 601.36,378.18 601.52,377.8 601.67,373.26 601.82,376.82 601.98,373.9 602.13,372.61 602.29,366.94 602.44,369.36 602.59,375.52 602.75,377.3 602.9,373.49 603.06,371.26 603.21,374.09 603.36,369.42 603.52,377.14 603.67,378.9 603.83,374.97 603.98,369.75 604.13,367.53 604.29,369.41 604.44,365.31 604.6,367.26 604.75,369.39 604.91,364.41 605.06,366.85 605.21,370.67 605.37,367.75 605.52,371.26 605.68,365.04 605.83,367.75 605.98,372.87 606.14,364.2 606.29,365 606.45,367.77 606.6,366.05 606.75,363.91 606.91,365.48 607.06,364.77 607.22,361.83 607.37,365.65 607.53,364.95 607.68,359.01 607.83,364.12 607.99,366.14 608.14,363.95 608.3,360.55 608.45,365.16 608.6,364.15 608.76,364.93 608.91,357.55 609.07,357.47 609.22,360.03 609.37,357.86 609.53,365.06 609.68,364.41 609.84,360.83 609.99,356.71 610.15,364.42 610.3,360.16 610.45,361.06 610.61,361.07 610.76,359.63 610.92,362.93 611.07,355.55 611.22,360.11 611.38,358.02 611.53,361.98 611.69,361.33 611.84,364.31 611.99,354.72 612.15,348.95 612.3,355.59 612.46,355.84 612.61,350.57 612.77,357.61 612.92,356.01 613.07,358.52 613.23,354.07 613.38,354.25 613.54,352.08 613.69,351.67 613.84,357.88 614,357.56 614.15,354.76 614.31,352.86 614.46,354.45 614.61,352.38 614.77,351.29 614.92,354.78 615.08,353.97 615.23,355.15 615.38,357.69 615.54,351.28 615.69,347.49 615.85,353 616,348.18 616.16,347.56 616.31,354.28 616.46,354.83 616.62,355.57 616.77,351.06 616.93,349 617.08,354.28 617.23,358.51 617.39,354.42 617.54,349.85 617.7,351.66 617.85,353.24 618,358.67 618.16,352.74 618.31,354.48 618.47,353.7 618.62,353.27 618.78,355 618.93,356.87 619.08,353.95 619.24,352.02 619.39,348.02 619.55,353.42 619.7,356.93 619.85,348.67 620.01,349.59 620.16,355.5 620.32,355.25 620.47,354.34 620.62,350.06 620.78,353.87 620.93,350.31 621.09,353.49 621.24,357.32 621.4,355.35 621.55,360.98 621.7,359.03 621.86,354.99 622.01,358.74 622.17,358.17 622.32,361.12 622.47,357.93 622.63,362.79 622.78,359.77 622.94,355.88 623.09,359.28 623.24,355.66 623.4,356.67 623.55,356.33 623.71,360.66 623.86,359.65 624.02,362.59 624.17,362.45 624.32,361.87 624.48,358.73 624.63,355.12 624.79,363.61 624.94,356.73 625.09,367.38 625.25,369.01 625.4,357.83 625.56,357.43 625.71,360.81 625.86,361.68 626.02,362.72 626.17,370.12 626.33,362.96 626.48,365.44 626.63,371.35 626.79,364.65 626.94,362.89 627.1,360.93 627.25,361.71 627.41,366.22 627.56,364.47 627.71,366.62 627.87,366.76 628.02,361.77 628.18,367.81 628.33,376.06 628.48,371.66 628.64,374.45 628.79,373.68 628.95,366.19 629.1,368.09 629.25,372.52 629.41,371.79 629.56,368.33 629.72,370.49 629.87,366.58 630.03,374.58 630.18,372.66 630.33,373.11 630.49,376.75 630.64,374.13 630.8,372.98 630.95,371.69 631.1,381.85 631.26,377.61 631.41,375.67 631.57,373.79 631.72,376.5 631.87,378.64 632.03,382.03 632.18,375.82 632.34,380.34 632.49,376.02 632.65,380.57 632.8,381.27 632.95,385.93 633.11,389.31 633.26,384.43 633.42,385.67 633.57,380.57 633.72,390.48 633.88,392.81 634.03,384.34 634.19,390.94 634.34,393.64 634.49,398.76 634.65,395.41 634.8,388.81 634.96,386.33 635.11,397.89 635.27,391.05 635.42,395.34 635.57,395.25 635.73,389.69 635.88,391.94 636.04,390.46 636.19,388.74 636.34,388.51 636.5,389.65 636.65,387.62 636.81,393.13 636.96,396 637.11,396.34 637.27,392.7 637.42,395.52 637.58,391.78 637.73,392.64 637.88,385.64 638.04,394.91 638.19,387.42 638.35,388.08 638.5,381.39 638.66,392.66 638.81,389.83 638.96,394.07 639.12,394.2 639.27,391.33 639.43,388.02 639.58,385.11 639.73,392.5 639.89,395.62 640.04,392.84 640.2,388.09 640.35,389.54 640.5,389.77 640.66,388.86 640.81,392.99 640.97,391.53 641.12,384.96 641.28,390.64 641.43,397.55 641.58,398.06 641.74,397.78 641.89,395.53 642.05,393.86 642.2,404 642.35,402.66 642.51,401.01 642.66,403.94 642.82,409.56 642.97,407.16 643.12,395.71" fill="none" stroke="#2a78e4" stroke-width="0.8" stroke-linejoin="round" />
<path d="M408.5,323.5H652.5V428.5H408.5ZM403.3,323.5H408.5M403.3,349.5H408.5M403.3,376.5H408.5M403.3,402.5H408.5M403.3,428.5H408.5M412.5,428.5V433.7M469.5,428.5V433.7M525.5,428.5V433.7M581.5,428.5V433.7M637.5,428.5V433.7M441.5,428.5V431.1M497.5,428.5V431.1M553.5,428.5V431.1M609.5,428.5V431.1" stroke="#878787" stroke-width="1" fill="none"/>
<text x="400.5" y="327" font-size="12.4" text-anchor="end" fill="#1a1a1a" >30</text>
<text x="400.5" y="353.25" font-size="12.4" text-anchor="end" fill="#1a1a1a" >15</text>
<text x="400.5" y="379.5" font-size="12.4" text-anchor="end" fill="#1a1a1a" >0</text>
<text x="400.5" y="405.75" font-size="12.4" text-anchor="end" fill="#1a1a1a" >−15</text>
<text x="400.5" y="432" font-size="12.4" text-anchor="end" fill="#1a1a1a" >−30</text>
<text x="412.9" y="446" font-size="12.4" text-anchor="middle" fill="#1a1a1a" >2017-12-1</text>
<text x="469.15" y="446" font-size="12.4" text-anchor="middle" fill="#1a1a1a" >2018-12-1</text>
<text x="525.4" y="446" font-size="12.4" text-anchor="middle" fill="#1a1a1a" >2019-12-1</text>
<text x="581.65" y="446" font-size="12.4" text-anchor="middle" fill="#1a1a1a" >2020-12-1</text>
<text x="637.9" y="446" font-size="12.4" text-anchor="middle" fill="#1a1a1a" >2021-12-1</text>
<path d="M437.5,313.7H456.8" stroke="#f04a50" stroke-width="1.1"/>
<path d="M533.0,313.7H551.8" stroke="#2a78e4" stroke-width="1.1"/>
<text x="464.6" y="317.4" font-size="10.7" text-anchor="start" fill="#1a1a1a" >Maximum</text>
<text x="552.8" y="317.4" font-size="10.7" text-anchor="start" fill="#1a1a1a" >Minimum</text>
<text x="0.8" y="14" font-size="12.4" text-anchor="start" fill="#1a1a1a" >(a)</text>
<text x="367.6" y="14" font-size="12.4" text-anchor="start" fill="#1a1a1a" >(b)</text>
<text x="0.8" y="169.6" font-size="12.4" text-anchor="start" fill="#1a1a1a" >(c)</text>
<text x="367.6" y="169.6" font-size="12.4" text-anchor="start" fill="#1a1a1a" >(d)</text>
<text x="0.8" y="321.6" font-size="12.4" text-anchor="start" fill="#1a1a1a" >(e)</text>
<text x="368.4" y="321.6" font-size="12.4" text-anchor="start" fill="#1a1a1a" >(f)</text>
<text transform="translate(11.4,64.4) rotate(-90)" font-size="12.5" text-anchor="middle" fill="#1a1a1a">Humidity (%)</text>
<text transform="translate(379.6,64.8) rotate(-90)" font-size="12.5" text-anchor="middle" fill="#1a1a1a">Humidity (%)</text>
<text transform="translate(11.4,226.7) rotate(-90)" font-size="12.5" text-anchor="middle" fill="#1a1a1a">Humidity (%)</text>
<text transform="translate(381.4,227.2) rotate(-90)" font-size="12.5" text-anchor="middle" fill="#1a1a1a">Humidity (%)</text>
<text transform="translate(10.2,385.5) rotate(-90)" font-size="12.5" text-anchor="middle" fill="#1a1a1a">Precipitation (mm)</text>
<text transform="translate(377.6,384.2) rotate(-90)" font-size="12.5" text-anchor="middle" fill="#1a1a1a">Temperature (°C)</text>
<text transform="translate(312,64.5) rotate(-90)" font-size="12.5" text-anchor="middle" fill="#1414f0">Temperature (°C)</text>
<text transform="translate(680.4,64.5) rotate(-90)" font-size="12.5" text-anchor="middle" fill="#1414f0">Temperature (°C)</text>
<text transform="translate(313.4,228.3) rotate(-90)" font-size="12.5" text-anchor="middle" fill="#1414f0">Temperature (°C)</text>
<text transform="translate(680.4,227.8) rotate(-90)" font-size="12.5" text-anchor="middle" fill="#1414f0">Temperature (°C)</text>
<text x="160.7" y="466.3" font-size="12.3" text-anchor="middle" fill="#1a1a1a" >Time (year-month-day)</text>
<text x="530.2" y="466.3" font-size="12.3" text-anchor="middle" fill="#1a1a1a" >Time (year-month-day)</text>
</svg>
</body></html>
